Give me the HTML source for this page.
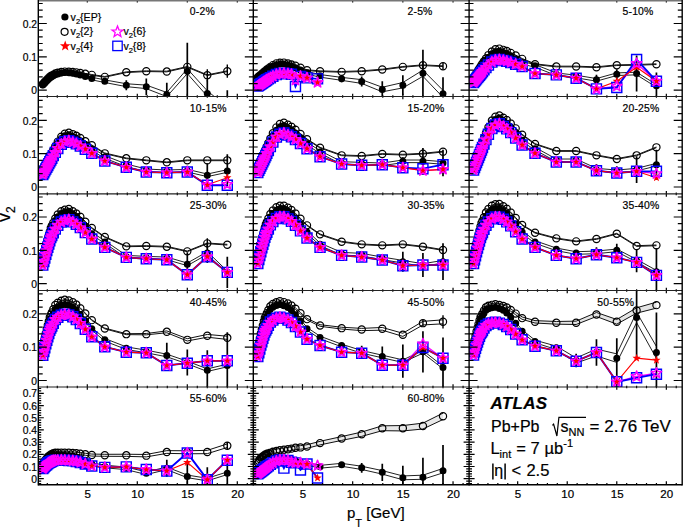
<!DOCTYPE html>
<html><head><meta charset="utf-8"><style>
html,body{margin:0;padding:0;background:#fff;}
svg{display:block;}
text{font-family:"Liberation Sans",sans-serif;fill:#000;stroke:#000;stroke-width:0.2px;}
</style></head><body>
<svg width="685" height="527" viewBox="0 0 685 527">
<rect width="685" height="527" fill="#fff"/>
<defs><clipPath id="c00"><rect x="38.3" y="0" width="215" height="96.5"/></clipPath><clipPath id="c01"><rect x="253.3" y="0" width="215.8" height="96.5"/></clipPath><clipPath id="c02"><rect x="469.1" y="0" width="213.1" height="96.5"/></clipPath><clipPath id="c10"><rect x="38.3" y="96.5" width="215" height="97.4"/></clipPath><clipPath id="c11"><rect x="253.3" y="96.5" width="215.8" height="97.4"/></clipPath><clipPath id="c12"><rect x="469.1" y="96.5" width="213.1" height="97.4"/></clipPath><clipPath id="c20"><rect x="38.3" y="193.9" width="215" height="96.6"/></clipPath><clipPath id="c21"><rect x="253.3" y="193.9" width="215.8" height="96.6"/></clipPath><clipPath id="c22"><rect x="469.1" y="193.9" width="213.1" height="96.6"/></clipPath><clipPath id="c30"><rect x="38.3" y="290.5" width="215" height="96.5"/></clipPath><clipPath id="c31"><rect x="253.3" y="290.5" width="215.8" height="96.5"/></clipPath><clipPath id="c32"><rect x="469.1" y="290.5" width="213.1" height="96.5"/></clipPath><clipPath id="c40"><rect x="38.3" y="387" width="215" height="97.7"/></clipPath><clipPath id="c41"><rect x="253.3" y="387" width="215.8" height="97.7"/></clipPath><clipPath id="c42"><rect x="469.1" y="387" width="213.1" height="97.7"/></clipPath></defs>
<g clip-path="url(#c00)">
<polyline points="42.8,83.76 43.8,82.69 44.8,81.61 45.8,80.53 46.8,79.5 47.8,78.53 48.8,77.56 49.8,76.6 50.8,75.95 51.8,75.37 53.3,74.51 55.3,73.35 57.8,72.6 61.3,71.79 64.8,71.3 68.8,71.5 72.8,72 76.3,72.69 80.3,73.75 85.3,75.28 91.8,77.23 104.8,79.9 126.3,83.76 146.3,85.12 166.8,92.47 187.3,68.81 207.3,90.84 227.3,107.2" fill="none" stroke="#222" stroke-width="1.0" />
<polyline points="42.8,86.36 43.8,85.29 44.8,84.21 45.8,83.13 46.8,82.1 47.8,81.13 48.8,80.16 49.8,79.2 50.8,78.55 51.8,77.97 53.3,77.11 55.3,75.95 57.8,75.2 61.3,74.39 64.8,73.9 68.8,74.1 72.8,74.6 76.3,75.29 80.3,76.35 85.3,77.88 91.8,79.83 104.8,82.5 126.3,86.64 146.3,88.61 166.8,96.6 187.3,73.58 207.3,96.22 227.3,113.2" fill="none" stroke="#222" stroke-width="1.0" />
<polyline points="42.8,83.69 43.8,82.6 44.8,81.49 45.8,80.38 46.8,79.32 47.8,78.34 48.8,77.35 49.8,76.36 50.8,75.71 51.8,75.14 53.3,74.27 55.3,73.12 57.8,72.42 61.3,71.68 64.8,71.26 68.8,71.33 72.8,71.61 76.3,71.99 80.3,72.58 85.3,73.43 91.8,74.51 104.8,76.51 126.3,71.85 146.3,70.85 166.8,71.18 187.3,66.51 207.3,74.85 227.3,70.85" fill="none" stroke="#111" stroke-width="1.0" />
<polyline points="42.8,84.39 43.8,83.3 44.8,82.19 45.8,81.08 46.8,80.02 47.8,79.04 48.8,78.05 49.8,77.06 50.8,76.41 51.8,75.84 53.3,74.97 55.3,73.82 57.8,73.12 61.3,72.38 64.8,71.96 68.8,72.03 72.8,72.31 76.3,72.69 80.3,73.28 85.3,74.13 91.8,75.21 104.8,77.21 126.3,72.55 146.3,71.55 166.8,71.88 187.3,67.21 207.3,75.55 227.3,71.55" fill="none" stroke="#111" stroke-width="1.0" />
<line x1="126.3" y1="80.2" x2="126.3" y2="90.2" stroke="#000" stroke-width="1.7"/>
<line x1="146.3" y1="78.53" x2="146.3" y2="95.2" stroke="#000" stroke-width="1.7"/>
<line x1="166.8" y1="82.87" x2="166.8" y2="106.2" stroke="#000" stroke-width="1.7"/>
<line x1="187.3" y1="42.86" x2="187.3" y2="99.54" stroke="#000" stroke-width="1.7"/>
<line x1="207.3" y1="80.2" x2="207.3" y2="106.87" stroke="#000" stroke-width="1.7"/>
<line x1="227.3" y1="90.2" x2="227.3" y2="130.21" stroke="#000" stroke-width="1.7"/>
<line x1="207.3" y1="69.2" x2="207.3" y2="81.2" stroke="#000" stroke-width="1.4"/>
<line x1="227.3" y1="64.53" x2="227.3" y2="77.86" stroke="#000" stroke-width="1.4"/>
<path d="M42.8,85.06h0M43.8,83.99h0M44.8,82.91h0M45.8,81.83h0M46.8,80.8h0M47.8,79.83h0M48.8,78.86h0M49.8,77.9h0M50.8,77.25h0M51.8,76.67h0M53.3,75.81h0M55.3,74.65h0M57.8,73.9h0M61.3,73.09h0M64.8,72.6h0M68.8,72.8h0M72.8,73.3h0M76.3,73.99h0M80.3,75.05h0M85.3,76.58h0M91.8,78.53h0M104.8,81.2h0M126.3,85.2h0M146.3,86.87h0M166.8,94.53h0M187.3,71.2h0M207.3,93.53h0M227.3,110.2h0" stroke="#000" stroke-width="7" stroke-linecap="round"/>
<path d="M39.2,84.04a3.6,3.6 0 1,0 7.2,0a3.6,3.6 0 1,0 -7.2,0M40.2,82.95a3.6,3.6 0 1,0 7.2,0a3.6,3.6 0 1,0 -7.2,0M41.2,81.84a3.6,3.6 0 1,0 7.2,0a3.6,3.6 0 1,0 -7.2,0M42.2,80.73a3.6,3.6 0 1,0 7.2,0a3.6,3.6 0 1,0 -7.2,0M43.2,79.67a3.6,3.6 0 1,0 7.2,0a3.6,3.6 0 1,0 -7.2,0M44.2,78.69a3.6,3.6 0 1,0 7.2,0a3.6,3.6 0 1,0 -7.2,0M45.2,77.7a3.6,3.6 0 1,0 7.2,0a3.6,3.6 0 1,0 -7.2,0M46.2,76.71a3.6,3.6 0 1,0 7.2,0a3.6,3.6 0 1,0 -7.2,0M47.2,76.06a3.6,3.6 0 1,0 7.2,0a3.6,3.6 0 1,0 -7.2,0M48.2,75.49a3.6,3.6 0 1,0 7.2,0a3.6,3.6 0 1,0 -7.2,0M49.7,74.62a3.6,3.6 0 1,0 7.2,0a3.6,3.6 0 1,0 -7.2,0M51.7,73.47a3.6,3.6 0 1,0 7.2,0a3.6,3.6 0 1,0 -7.2,0M54.2,72.77a3.6,3.6 0 1,0 7.2,0a3.6,3.6 0 1,0 -7.2,0M57.7,72.03a3.6,3.6 0 1,0 7.2,0a3.6,3.6 0 1,0 -7.2,0M61.2,71.61a3.6,3.6 0 1,0 7.2,0a3.6,3.6 0 1,0 -7.2,0M65.2,71.68a3.6,3.6 0 1,0 7.2,0a3.6,3.6 0 1,0 -7.2,0M69.2,71.96a3.6,3.6 0 1,0 7.2,0a3.6,3.6 0 1,0 -7.2,0M72.7,72.34a3.6,3.6 0 1,0 7.2,0a3.6,3.6 0 1,0 -7.2,0M76.7,72.93a3.6,3.6 0 1,0 7.2,0a3.6,3.6 0 1,0 -7.2,0M81.7,73.78a3.6,3.6 0 1,0 7.2,0a3.6,3.6 0 1,0 -7.2,0M88.2,74.86a3.6,3.6 0 1,0 7.2,0a3.6,3.6 0 1,0 -7.2,0M101.2,76.86a3.6,3.6 0 1,0 7.2,0a3.6,3.6 0 1,0 -7.2,0M122.7,72.2a3.6,3.6 0 1,0 7.2,0a3.6,3.6 0 1,0 -7.2,0M142.7,71.2a3.6,3.6 0 1,0 7.2,0a3.6,3.6 0 1,0 -7.2,0M163.2,71.53a3.6,3.6 0 1,0 7.2,0a3.6,3.6 0 1,0 -7.2,0M183.7,66.86a3.6,3.6 0 1,0 7.2,0a3.6,3.6 0 1,0 -7.2,0M203.7,75.2a3.6,3.6 0 1,0 7.2,0a3.6,3.6 0 1,0 -7.2,0M223.7,71.2a3.6,3.6 0 1,0 7.2,0a3.6,3.6 0 1,0 -7.2,0" fill="none" stroke="#000" stroke-width="1.2"/>
</g>
<g clip-path="url(#c01)">
<polyline points="257.82,76.52 258.82,75.71 259.82,74.9 260.83,74.08 261.83,73.27 262.84,72.46 263.84,71.65 264.84,70.84 265.85,70.02 266.85,69.21 268.36,68.1 270.36,66.69 272.87,65.03 276.39,63.34 279.9,62.69 283.91,62.61 287.93,63.72 291.44,64.76 295.46,66.34 300.47,68.63 307,71.56 320.05,74.56 341.63,77.38 361.7,79.65 382.28,87.24 402.85,82.5 422.93,70.1 443,90.37" fill="none" stroke="#222" stroke-width="1.0" />
<polyline points="257.82,79.12 258.82,78.31 259.82,77.5 260.83,76.68 261.83,75.87 262.84,75.06 263.84,74.25 264.84,73.44 265.85,72.62 266.85,71.81 268.36,70.7 270.36,69.29 272.87,67.63 276.39,65.94 279.9,65.29 283.91,65.21 287.93,66.32 291.44,67.36 295.46,68.94 300.47,71.23 307,74.16 320.05,77.16 341.63,80.34 361.7,83.41 382.28,91.82 402.85,87.9 422.93,76.3 443,97.37" fill="none" stroke="#222" stroke-width="1.0" />
<polyline points="257.82,76.84 258.82,75.99 259.82,75.14 260.83,74.28 261.83,73.43 262.84,72.58 263.84,71.72 264.84,70.87 265.85,70.02 266.85,69.17 268.36,68 270.36,66.51 272.87,64.77 276.39,63 279.9,62.31 283.91,62.23 287.93,63.16 291.44,64.05 295.46,65.4 300.47,67.35 307,69.85 320.05,70.85 341.63,71.51 361.7,70.85 382.28,69.18 402.85,66.51 422.93,64.85 443,65.85" fill="none" stroke="#111" stroke-width="1.0" />
<polyline points="257.82,77.54 258.82,76.69 259.82,75.84 260.83,74.98 261.83,74.13 262.84,73.28 263.84,72.42 264.84,71.57 265.85,70.72 266.85,69.87 268.36,68.7 270.36,67.21 272.87,65.47 276.39,63.7 279.9,63.01 283.91,62.93 287.93,63.86 291.44,64.75 295.46,66.1 300.47,68.05 307,70.55 320.05,71.55 341.63,72.21 361.7,71.55 382.28,69.88 402.85,67.21 422.93,65.55 443,66.55" fill="none" stroke="#111" stroke-width="1.0" />
<line x1="341.63" y1="75.53" x2="341.63" y2="82.2" stroke="#000" stroke-width="1.7"/>
<line x1="361.7" y1="76.53" x2="361.7" y2="86.53" stroke="#000" stroke-width="1.7"/>
<line x1="382.28" y1="81.2" x2="382.28" y2="97.87" stroke="#000" stroke-width="1.7"/>
<line x1="402.85" y1="75.2" x2="402.85" y2="95.2" stroke="#000" stroke-width="1.7"/>
<line x1="422.93" y1="49.86" x2="422.93" y2="96.53" stroke="#000" stroke-width="1.7"/>
<line x1="443" y1="77.2" x2="443" y2="110.54" stroke="#000" stroke-width="1.7"/>
<line x1="422.93" y1="61.86" x2="422.93" y2="68.53" stroke="#000" stroke-width="1.4"/>
<line x1="443" y1="62.86" x2="443" y2="69.53" stroke="#000" stroke-width="1.4"/>
<path d="M257.82,77.82h0M258.82,77.01h0M259.82,76.2h0M260.83,75.38h0M261.83,74.57h0M262.84,73.76h0M263.84,72.95h0M264.84,72.14h0M265.85,71.32h0M266.85,70.51h0M268.36,69.4h0M270.36,67.99h0M272.87,66.33h0M276.39,64.64h0M279.9,63.99h0M283.91,63.91h0M287.93,65.02h0M291.44,66.06h0M295.46,67.64h0M300.47,69.93h0M307,72.86h0M320.05,75.86h0M341.63,78.86h0M361.7,81.53h0M382.28,89.53h0M402.85,85.2h0M422.93,73.2h0M443,93.87h0" stroke="#000" stroke-width="7" stroke-linecap="round"/>
<path d="M254.22,77.19a3.6,3.6 0 1,0 7.2,0a3.6,3.6 0 1,0 -7.2,0M255.22,76.34a3.6,3.6 0 1,0 7.2,0a3.6,3.6 0 1,0 -7.2,0M256.22,75.49a3.6,3.6 0 1,0 7.2,0a3.6,3.6 0 1,0 -7.2,0M257.23,74.63a3.6,3.6 0 1,0 7.2,0a3.6,3.6 0 1,0 -7.2,0M258.23,73.78a3.6,3.6 0 1,0 7.2,0a3.6,3.6 0 1,0 -7.2,0M259.24,72.93a3.6,3.6 0 1,0 7.2,0a3.6,3.6 0 1,0 -7.2,0M260.24,72.07a3.6,3.6 0 1,0 7.2,0a3.6,3.6 0 1,0 -7.2,0M261.24,71.22a3.6,3.6 0 1,0 7.2,0a3.6,3.6 0 1,0 -7.2,0M262.25,70.37a3.6,3.6 0 1,0 7.2,0a3.6,3.6 0 1,0 -7.2,0M263.25,69.52a3.6,3.6 0 1,0 7.2,0a3.6,3.6 0 1,0 -7.2,0M264.76,68.35a3.6,3.6 0 1,0 7.2,0a3.6,3.6 0 1,0 -7.2,0M266.76,66.86a3.6,3.6 0 1,0 7.2,0a3.6,3.6 0 1,0 -7.2,0M269.27,65.12a3.6,3.6 0 1,0 7.2,0a3.6,3.6 0 1,0 -7.2,0M272.79,63.35a3.6,3.6 0 1,0 7.2,0a3.6,3.6 0 1,0 -7.2,0M276.3,62.66a3.6,3.6 0 1,0 7.2,0a3.6,3.6 0 1,0 -7.2,0M280.31,62.58a3.6,3.6 0 1,0 7.2,0a3.6,3.6 0 1,0 -7.2,0M284.33,63.51a3.6,3.6 0 1,0 7.2,0a3.6,3.6 0 1,0 -7.2,0M287.84,64.4a3.6,3.6 0 1,0 7.2,0a3.6,3.6 0 1,0 -7.2,0M291.86,65.75a3.6,3.6 0 1,0 7.2,0a3.6,3.6 0 1,0 -7.2,0M296.87,67.7a3.6,3.6 0 1,0 7.2,0a3.6,3.6 0 1,0 -7.2,0M303.4,70.2a3.6,3.6 0 1,0 7.2,0a3.6,3.6 0 1,0 -7.2,0M316.45,71.2a3.6,3.6 0 1,0 7.2,0a3.6,3.6 0 1,0 -7.2,0M338.03,71.86a3.6,3.6 0 1,0 7.2,0a3.6,3.6 0 1,0 -7.2,0M358.1,71.2a3.6,3.6 0 1,0 7.2,0a3.6,3.6 0 1,0 -7.2,0M378.68,69.53a3.6,3.6 0 1,0 7.2,0a3.6,3.6 0 1,0 -7.2,0M399.25,66.86a3.6,3.6 0 1,0 7.2,0a3.6,3.6 0 1,0 -7.2,0M419.33,65.2a3.6,3.6 0 1,0 7.2,0a3.6,3.6 0 1,0 -7.2,0M439.4,66.2a3.6,3.6 0 1,0 7.2,0a3.6,3.6 0 1,0 -7.2,0" fill="none" stroke="#000" stroke-width="1.2"/>
<polyline points="257.82,85.95 258.82,85.27 259.82,84.59 260.83,83.91 261.83,83.23 262.84,82.55 263.84,81.87 264.84,81.19 265.85,80.51 266.85,79.83 268.36,78.88 270.36,77.65 272.87,76.19 276.39,74.56 279.9,73.59 283.91,73.23 287.93,73.8 291.44,74.34 295.46,80.2 300.47,76.35 307,77.86 317.54,82.53" fill="none" stroke="#ff00ff" stroke-width="1.3" />
<polyline points="257.82,85.95 258.82,85.27 259.82,84.59 260.83,83.91 261.83,83.23 262.84,82.55 263.84,81.87 264.84,81.19 265.85,80.51 266.85,79.83 268.36,78.88 270.36,77.65 272.87,76.19 276.39,74.56 279.9,73.59 283.91,73.23 287.93,73.8 291.44,74.34 295.46,86.53 300.47,76.35 307,77.86 317.54,78.86" fill="none" stroke="#0000ff" stroke-width="1.9" />
<polyline points="257.82,85.95 258.82,85.27 259.82,84.59 260.83,83.91 261.83,83.23 262.84,82.55 263.84,81.87 264.84,81.19 265.85,80.51 266.85,79.83 268.36,78.88 270.36,77.65 272.87,76.19 276.39,74.56 279.9,73.59 283.91,73.23 287.93,73.8 291.44,74.34 295.46,75.16 300.47,76.35 307,77.86 317.54,82.53" fill="none" stroke="#ff0000" stroke-width="1.1" />
<path d="M252.82,80.95h10.0v10.0h-10.0zM253.82,80.27h10.0v10.0h-10.0zM254.82,79.59h10.0v10.0h-10.0zM255.83,78.91h10.0v10.0h-10.0zM256.83,78.23h10.0v10.0h-10.0zM257.84,77.55h10.0v10.0h-10.0zM258.84,76.87h10.0v10.0h-10.0zM259.84,76.19h10.0v10.0h-10.0zM260.85,75.51h10.0v10.0h-10.0zM261.85,74.83h10.0v10.0h-10.0zM263.36,73.88h10.0v10.0h-10.0zM265.36,72.65h10.0v10.0h-10.0zM267.87,71.19h10.0v10.0h-10.0zM271.39,69.56h10.0v10.0h-10.0zM274.9,68.59h10.0v10.0h-10.0zM278.91,68.23h10.0v10.0h-10.0zM282.93,68.8h10.0v10.0h-10.0zM286.44,69.34h10.0v10.0h-10.0zM290.46,81.53h10.0v10.0h-10.0zM295.47,71.35h10.0v10.0h-10.0zM302,72.86h10.0v10.0h-10.0zM312.54,73.86h10.0v10.0h-10.0z" fill="none" stroke="#0000ff" stroke-width="1.45"/>
<path d="M257.82,81.55l1.08,2.9 3.1,0.14 -2.43,1.93 0.83,2.99 -2.58,-1.71 -2.59,1.71 0.83,-2.99 -2.43,-1.93 3.1,-0.14zM258.82,80.87l1.09,2.9 3.1,0.14 -2.43,1.93 0.83,2.99 -2.59,-1.71 -2.59,1.71 0.83,-2.99 -2.42,-1.93 3.09,-0.14zM259.82,80.19l1.09,2.9 3.1,0.14 -2.43,1.93 0.83,2.99 -2.59,-1.71 -2.58,1.71 0.83,-2.99 -2.43,-1.93 3.1,-0.14zM260.83,79.51l1.08,2.9 3.1,0.14 -2.42,1.93 0.82,2.99 -2.58,-1.71 -2.59,1.71 0.83,-2.99 -2.43,-1.93 3.1,-0.14zM261.83,78.83l1.09,2.9 3.1,0.14 -2.43,1.93 0.83,2.99 -2.59,-1.71 -2.58,1.71 0.82,-2.99 -2.42,-1.93 3.1,-0.14zM262.84,78.15l1.08,2.9 3.1,0.14 -2.43,1.93 0.83,2.99 -2.58,-1.71 -2.59,1.71 0.83,-2.99 -2.43,-1.93 3.1,-0.14zM263.84,77.47l1.09,2.9 3.09,0.14 -2.42,1.93 0.83,2.99 -2.59,-1.71 -2.59,1.71 0.83,-2.99 -2.43,-1.93 3.1,-0.14zM264.84,76.79l1.09,2.9 3.1,0.14 -2.43,1.93 0.83,2.99 -2.59,-1.71 -2.58,1.71 0.83,-2.99 -2.43,-1.93 3.1,-0.14zM265.85,76.11l1.08,2.9 3.1,0.14 -2.43,1.93 0.83,2.99 -2.58,-1.71 -2.59,1.71 0.83,-2.99 -2.43,-1.93 3.1,-0.14zM266.85,75.43l1.09,2.9 3.09,0.14 -2.42,1.93 0.83,2.99 -2.59,-1.71 -2.59,1.71 0.83,-2.99 -2.42,-1.93 3.09,-0.14zM268.36,74.48l1.08,2.9 3.1,0.14 -2.43,1.93 0.83,2.99 -2.58,-1.72 -2.59,1.72 0.83,-2.99 -2.43,-1.93 3.1,-0.14zM270.36,73.25l1.09,2.91 3.1,0.13 -2.43,1.93 0.83,2.99 -2.59,-1.71 -2.58,1.71 0.83,-2.99 -2.43,-1.93 3.1,-0.13zM272.87,71.79l1.09,2.91 3.1,0.13 -2.43,1.93 0.83,2.99 -2.59,-1.71 -2.58,1.71 0.83,-2.99 -2.43,-1.93 3.1,-0.13zM276.39,70.16l1.08,2.9 3.1,0.14 -2.43,1.93 0.83,2.99 -2.58,-1.72 -2.59,1.72 0.83,-2.99 -2.43,-1.93 3.1,-0.14zM279.9,69.19l1.08,2.9 3.1,0.14 -2.42,1.93 0.82,2.99 -2.58,-1.71 -2.59,1.71 0.83,-2.99 -2.43,-1.93 3.1,-0.14zM283.91,68.83l1.09,2.9 3.1,0.14 -2.43,1.93 0.83,2.99 -2.59,-1.71 -2.58,1.71 0.83,-2.99 -2.43,-1.93 3.1,-0.14zM287.93,69.4l1.08,2.9 3.1,0.14 -2.42,1.93 0.82,2.99 -2.58,-1.72 -2.59,1.72 0.83,-2.99 -2.43,-1.93 3.1,-0.14zM291.44,69.94l1.09,2.9 3.1,0.14 -2.43,1.93 0.83,2.99 -2.59,-1.72 -2.58,1.72 0.82,-2.99 -2.42,-1.93 3.1,-0.14zM295.46,70.76l1.08,2.9 3.1,0.14 -2.43,1.93 0.83,2.99 -2.58,-1.72 -2.59,1.72 0.83,-2.99 -2.43,-1.93 3.1,-0.14zM300.47,71.95l1.09,2.9 3.1,0.14 -2.43,1.93 0.83,2.98 -2.59,-1.71 -2.58,1.71 0.83,-2.98 -2.43,-1.93 3.1,-0.14zM307,73.46l1.09,2.91 3.09,0.13 -2.42,1.94 0.83,2.98 -2.59,-1.71 -2.59,1.71 0.83,-2.98 -2.43,-1.94 3.1,-0.13zM317.54,78.13l1.08,2.91 3.1,0.13 -2.42,1.93 0.82,2.99 -2.58,-1.71 -2.59,1.71 0.83,-2.99 -2.43,-1.93 3.1,-0.13z" fill="#ff0000"/>
<path d="M257.82,80.45l1.35,3.63 3.88,0.17 -3.04,2.41 1.04,3.74 -3.23,-2.14 -3.24,2.14 1.04,-3.74 -3.03,-2.41 3.87,-0.17zM258.82,79.77l1.36,3.63 3.87,0.17 -3.03,2.41 1.03,3.74 -3.23,-2.14 -3.23,2.14 1.03,-3.74 -3.03,-2.41 3.87,-0.17zM259.82,79.09l1.36,3.63 3.87,0.17 -3.03,2.41 1.04,3.74 -3.24,-2.14 -3.23,2.14 1.04,-3.74 -3.04,-2.41 3.88,-0.17zM260.83,78.41l1.36,3.63 3.87,0.17 -3.04,2.41 1.04,3.74 -3.23,-2.14 -3.23,2.14 1.03,-3.74 -3.03,-2.41 3.87,-0.17zM261.83,77.73l1.36,3.63 3.87,0.17 -3.03,2.41 1.03,3.74 -3.23,-2.14 -3.23,2.14 1.03,-3.74 -3.03,-2.41 3.87,-0.17zM262.84,77.05l1.35,3.63 3.88,0.17 -3.04,2.41 1.04,3.74 -3.23,-2.14 -3.24,2.14 1.04,-3.74 -3.04,-2.41 3.88,-0.17zM263.84,76.37l1.36,3.63 3.87,0.17 -3.03,2.41 1.03,3.74 -3.23,-2.14 -3.23,2.14 1.03,-3.74 -3.03,-2.41 3.87,-0.17zM264.84,75.69l1.36,3.63 3.87,0.17 -3.03,2.41 1.04,3.74 -3.24,-2.14 -3.23,2.14 1.04,-3.74 -3.04,-2.41 3.88,-0.17zM265.85,75.01l1.35,3.63 3.88,0.17 -3.04,2.41 1.04,3.74 -3.23,-2.14 -3.24,2.14 1.04,-3.74 -3.03,-2.41 3.87,-0.17zM266.85,74.33l1.36,3.63 3.87,0.17 -3.03,2.41 1.03,3.74 -3.23,-2.14 -3.23,2.14 1.03,-3.74 -3.03,-2.41 3.87,-0.17zM268.36,73.38l1.35,3.63 3.88,0.17 -3.04,2.41 1.04,3.74 -3.23,-2.14 -3.24,2.14 1.04,-3.74 -3.03,-2.41 3.87,-0.17zM270.36,72.15l1.36,3.63 3.87,0.17 -3.03,2.42 1.04,3.73 -3.24,-2.14 -3.23,2.14 1.04,-3.73 -3.04,-2.42 3.88,-0.17zM272.87,70.69l1.36,3.63 3.87,0.17 -3.03,2.42 1.04,3.73 -3.24,-2.14 -3.23,2.14 1.04,-3.73 -3.04,-2.42 3.87,-0.17zM276.39,69.06l1.35,3.63 3.88,0.17 -3.04,2.41 1.04,3.74 -3.23,-2.14 -3.24,2.14 1.04,-3.74 -3.04,-2.41 3.88,-0.17zM279.9,68.09l1.36,3.63 3.87,0.17 -3.03,2.41 1.03,3.74 -3.23,-2.14 -3.23,2.14 1.03,-3.74 -3.03,-2.41 3.87,-0.17zM283.91,67.73l1.36,3.63 3.87,0.17 -3.03,2.41 1.04,3.74 -3.24,-2.14 -3.23,2.14 1.04,-3.74 -3.04,-2.41 3.88,-0.17zM287.93,68.3l1.36,3.63 3.87,0.17 -3.03,2.41 1.03,3.74 -3.23,-2.14 -3.23,2.14 1.03,-3.74 -3.03,-2.41 3.87,-0.17zM291.44,68.84l1.36,3.63 3.87,0.17 -3.03,2.41 1.03,3.74 -3.23,-2.14 -3.23,2.14 1.03,-3.74 -3.03,-2.41 3.87,-0.17zM295.46,74.7l1.35,3.63 3.88,0.17 -3.04,2.41 1.04,3.74 -3.23,-2.14 -3.24,2.14 1.04,-3.74 -3.03,-2.41 3.87,-0.17zM300.47,70.85l1.36,3.63 3.88,0.17 -3.04,2.41 1.04,3.73 -3.24,-2.13 -3.23,2.13 1.04,-3.73 -3.04,-2.41 3.88,-0.17zM307,72.36l1.36,3.64 3.87,0.16 -3.03,2.42 1.03,3.73 -3.23,-2.14 -3.23,2.14 1.03,-3.73 -3.03,-2.42 3.87,-0.16zM317.54,77.03l1.36,3.63 3.87,0.17 -3.03,2.42 1.03,3.73 -3.23,-2.14 -3.23,2.14 1.03,-3.73 -3.03,-2.42 3.87,-0.17z" fill="none" stroke="#ff00ff" stroke-width="1.5" stroke-linejoin="round"/>
</g>
<g clip-path="url(#c02)">
<polyline points="473.56,77.2 474.55,75.72 475.54,74.24 476.53,72.76 477.52,71.28 478.52,69.8 479.51,68.32 480.5,66.84 481.49,65.37 482.48,63.89 483.97,61.82 485.95,59.18 488.43,56.04 491.9,52.57 495.37,50.63 499.33,49.97 503.3,51.39 506.76,52.74 510.73,54.79 515.68,57.76 522.13,61.56 535.01,64.56 556.32,72.9 576.15,75.23 596.46,78.56 616.78,72.9 636.61,72.23 656.43,84.57" fill="none" stroke="#222" stroke-width="1.0" />
<polyline points="473.56,79.8 474.55,78.32 475.54,76.84 476.53,75.36 477.52,73.88 478.52,72.4 479.51,70.92 480.5,69.44 481.49,67.97 482.48,66.49 483.97,64.42 485.95,61.78 488.43,58.64 491.9,55.17 495.37,53.23 499.33,52.57 503.3,53.99 506.76,55.34 510.73,57.39 515.68,60.36 522.13,64.16 535.01,67.16 556.32,75.5 576.15,77.83 596.46,81.16 616.78,75.5 636.61,74.83 656.43,87.17" fill="none" stroke="#222" stroke-width="1.0" />
<polyline points="473.56,77.35 474.55,75.77 475.54,74.19 476.53,72.61 477.52,71.03 478.52,69.45 479.51,67.87 480.5,66.29 481.49,64.71 482.48,63.13 483.97,60.92 485.95,58.1 488.43,54.74 491.9,51.03 495.37,48.97 499.33,48.25 503.3,49.5 506.76,50.7 510.73,52.52 515.68,55.15 522.13,58.51 535.01,63.84 556.32,66.18 576.15,66.18 596.46,66.85 616.78,64.85 636.61,64.51 656.43,63.84" fill="none" stroke="#111" stroke-width="1.0" />
<polyline points="473.56,78.05 474.55,76.47 475.54,74.89 476.53,73.31 477.52,71.73 478.52,70.15 479.51,68.57 480.5,66.99 481.49,65.41 482.48,63.83 483.97,61.62 485.95,58.8 488.43,55.44 491.9,51.73 495.37,49.67 499.33,48.95 503.3,50.2 506.76,51.4 510.73,53.22 515.68,55.85 522.13,59.21 535.01,64.54 556.32,66.88 576.15,66.88 596.46,67.55 616.78,65.55 636.61,65.21 656.43,64.54" fill="none" stroke="#111" stroke-width="1.0" />
<line x1="556.32" y1="72.2" x2="556.32" y2="76.2" stroke="#000" stroke-width="1.7"/>
<line x1="576.15" y1="73.86" x2="576.15" y2="79.2" stroke="#000" stroke-width="1.7"/>
<line x1="596.46" y1="74.86" x2="596.46" y2="84.87" stroke="#000" stroke-width="1.7"/>
<line x1="616.78" y1="69.2" x2="616.78" y2="79.2" stroke="#000" stroke-width="1.7"/>
<line x1="636.61" y1="55.53" x2="636.61" y2="91.53" stroke="#000" stroke-width="1.7"/>
<line x1="656.43" y1="72.53" x2="656.43" y2="99.2" stroke="#000" stroke-width="1.7"/>
<path d="M473.56,78.5h0M474.55,77.02h0M475.54,75.54h0M476.53,74.06h0M477.52,72.58h0M478.52,71.1h0M479.51,69.62h0M480.5,68.14h0M481.49,66.67h0M482.48,65.19h0M483.97,63.12h0M485.95,60.48h0M488.43,57.34h0M491.9,53.87h0M495.37,51.93h0M499.33,51.27h0M503.3,52.69h0M506.76,54.04h0M510.73,56.09h0M515.68,59.06h0M522.13,62.86h0M535.01,65.86h0M556.32,74.2h0M576.15,76.53h0M596.46,79.86h0M616.78,74.2h0M636.61,73.53h0M656.43,85.87h0" stroke="#000" stroke-width="7" stroke-linecap="round"/>
<path d="M469.96,77.7a3.6,3.6 0 1,0 7.2,0a3.6,3.6 0 1,0 -7.2,0M470.95,76.12a3.6,3.6 0 1,0 7.2,0a3.6,3.6 0 1,0 -7.2,0M471.94,74.54a3.6,3.6 0 1,0 7.2,0a3.6,3.6 0 1,0 -7.2,0M472.93,72.96a3.6,3.6 0 1,0 7.2,0a3.6,3.6 0 1,0 -7.2,0M473.92,71.38a3.6,3.6 0 1,0 7.2,0a3.6,3.6 0 1,0 -7.2,0M474.92,69.8a3.6,3.6 0 1,0 7.2,0a3.6,3.6 0 1,0 -7.2,0M475.91,68.22a3.6,3.6 0 1,0 7.2,0a3.6,3.6 0 1,0 -7.2,0M476.9,66.64a3.6,3.6 0 1,0 7.2,0a3.6,3.6 0 1,0 -7.2,0M477.89,65.06a3.6,3.6 0 1,0 7.2,0a3.6,3.6 0 1,0 -7.2,0M478.88,63.48a3.6,3.6 0 1,0 7.2,0a3.6,3.6 0 1,0 -7.2,0M480.37,61.27a3.6,3.6 0 1,0 7.2,0a3.6,3.6 0 1,0 -7.2,0M482.35,58.45a3.6,3.6 0 1,0 7.2,0a3.6,3.6 0 1,0 -7.2,0M484.83,55.09a3.6,3.6 0 1,0 7.2,0a3.6,3.6 0 1,0 -7.2,0M488.3,51.38a3.6,3.6 0 1,0 7.2,0a3.6,3.6 0 1,0 -7.2,0M491.77,49.32a3.6,3.6 0 1,0 7.2,0a3.6,3.6 0 1,0 -7.2,0M495.73,48.6a3.6,3.6 0 1,0 7.2,0a3.6,3.6 0 1,0 -7.2,0M499.7,49.85a3.6,3.6 0 1,0 7.2,0a3.6,3.6 0 1,0 -7.2,0M503.16,51.05a3.6,3.6 0 1,0 7.2,0a3.6,3.6 0 1,0 -7.2,0M507.13,52.87a3.6,3.6 0 1,0 7.2,0a3.6,3.6 0 1,0 -7.2,0M512.08,55.5a3.6,3.6 0 1,0 7.2,0a3.6,3.6 0 1,0 -7.2,0M518.53,58.86a3.6,3.6 0 1,0 7.2,0a3.6,3.6 0 1,0 -7.2,0M531.41,64.19a3.6,3.6 0 1,0 7.2,0a3.6,3.6 0 1,0 -7.2,0M552.72,66.53a3.6,3.6 0 1,0 7.2,0a3.6,3.6 0 1,0 -7.2,0M572.55,66.53a3.6,3.6 0 1,0 7.2,0a3.6,3.6 0 1,0 -7.2,0M592.86,67.2a3.6,3.6 0 1,0 7.2,0a3.6,3.6 0 1,0 -7.2,0M613.18,65.2a3.6,3.6 0 1,0 7.2,0a3.6,3.6 0 1,0 -7.2,0M633.01,64.86a3.6,3.6 0 1,0 7.2,0a3.6,3.6 0 1,0 -7.2,0M652.83,64.19a3.6,3.6 0 1,0 7.2,0a3.6,3.6 0 1,0 -7.2,0" fill="none" stroke="#000" stroke-width="1.2"/>
<polyline points="473.56,82.53 474.55,81.3 475.54,80.08 476.53,78.85 477.52,77.62 478.52,76.4 479.51,75.17 480.5,73.94 481.49,72.72 482.48,71.49 483.97,69.77 485.95,67.56 488.43,64.93 491.9,61.98 495.37,60.24 499.33,59.58 503.3,60.43 506.76,61.24 510.73,62.47 515.68,64.25 522.13,66.53 535.01,73.53 556.32,74.86 576.15,78.2 596.46,88.87 616.78,86.2 636.61,63.53 656.43,81.2" fill="none" stroke="#ff00ff" stroke-width="1.3" />
<polyline points="473.56,82.53 474.55,81.3 475.54,80.08 476.53,78.85 477.52,77.62 478.52,76.4 479.51,75.17 480.5,73.94 481.49,72.72 482.48,71.49 483.97,69.77 485.95,67.56 488.43,64.93 491.9,61.98 495.37,60.24 499.33,59.58 503.3,60.43 506.76,61.24 510.73,62.47 515.68,64.25 522.13,66.53 535.01,73.53 556.32,74.86 576.15,78.2 596.46,88.87 616.78,87.53 636.61,59.53 656.43,81.2" fill="none" stroke="#0000ff" stroke-width="1.9" />
<polyline points="473.56,82.53 474.55,81.3 475.54,80.08 476.53,78.85 477.52,77.62 478.52,76.4 479.51,75.17 480.5,73.94 481.49,72.72 482.48,71.49 483.97,69.77 485.95,67.56 488.43,64.93 491.9,61.98 495.37,60.24 499.33,59.58 503.3,60.43 506.76,61.24 510.73,62.47 515.68,64.25 522.13,66.53 535.01,73.53 556.32,74.86 576.15,78.2 596.46,88.87 616.78,81.2 636.61,67.2 656.43,81.2" fill="none" stroke="#ff0000" stroke-width="1.1" />
<path d="M468.56,77.53h10.0v10.0h-10.0zM469.55,76.3h10.0v10.0h-10.0zM470.54,75.08h10.0v10.0h-10.0zM471.53,73.85h10.0v10.0h-10.0zM472.52,72.62h10.0v10.0h-10.0zM473.52,71.4h10.0v10.0h-10.0zM474.51,70.17h10.0v10.0h-10.0zM475.5,68.94h10.0v10.0h-10.0zM476.49,67.72h10.0v10.0h-10.0zM477.48,66.49h10.0v10.0h-10.0zM478.97,64.77h10.0v10.0h-10.0zM480.95,62.56h10.0v10.0h-10.0zM483.43,59.93h10.0v10.0h-10.0zM486.9,56.98h10.0v10.0h-10.0zM490.37,55.24h10.0v10.0h-10.0zM494.33,54.58h10.0v10.0h-10.0zM498.3,55.43h10.0v10.0h-10.0zM501.76,56.24h10.0v10.0h-10.0zM505.73,57.47h10.0v10.0h-10.0zM510.68,59.25h10.0v10.0h-10.0zM517.13,61.53h10.0v10.0h-10.0zM530.01,68.53h10.0v10.0h-10.0zM551.32,69.86h10.0v10.0h-10.0zM571.15,73.2h10.0v10.0h-10.0zM591.46,83.87h10.0v10.0h-10.0zM611.78,82.53h10.0v10.0h-10.0zM631.61,54.53h10.0v10.0h-10.0zM651.43,76.2h10.0v10.0h-10.0z" fill="none" stroke="#0000ff" stroke-width="1.45"/>
<path d="M473.56,78.13l1.09,2.91 3.09,0.13 -2.42,1.93 0.83,2.99 -2.59,-1.71 -2.59,1.71 0.83,-2.99 -2.42,-1.93 3.09,-0.13zM474.55,76.9l1.09,2.91 3.1,0.14 -2.43,1.93 0.83,2.98 -2.59,-1.71 -2.58,1.71 0.82,-2.98 -2.42,-1.93 3.1,-0.14zM475.54,75.68l1.09,2.9 3.1,0.14 -2.43,1.93 0.83,2.99 -2.59,-1.71 -2.58,1.71 0.83,-2.99 -2.43,-1.93 3.1,-0.14zM476.53,74.45l1.09,2.91 3.1,0.13 -2.43,1.93 0.83,2.99 -2.59,-1.71 -2.58,1.71 0.83,-2.99 -2.43,-1.93 3.1,-0.13zM477.52,73.22l1.09,2.91 3.1,0.13 -2.43,1.94 0.83,2.98 -2.59,-1.71 -2.58,1.71 0.83,-2.98 -2.43,-1.94 3.1,-0.13zM478.52,72l1.08,2.9 3.1,0.14 -2.43,1.93 0.83,2.99 -2.58,-1.71 -2.59,1.71 0.83,-2.99 -2.43,-1.93 3.1,-0.14zM479.51,70.77l1.08,2.91 3.1,0.13 -2.43,1.93 0.83,2.99 -2.58,-1.71 -2.59,1.71 0.83,-2.99 -2.43,-1.93 3.1,-0.13zM480.5,69.54l1.08,2.91 3.1,0.13 -2.42,1.93 0.82,2.99 -2.58,-1.71 -2.59,1.71 0.83,-2.99 -2.43,-1.93 3.1,-0.13zM481.49,68.32l1.09,2.9 3.09,0.14 -2.42,1.93 0.83,2.99 -2.59,-1.72 -2.59,1.72 0.83,-2.99 -2.43,-1.93 3.1,-0.14zM482.48,67.09l1.09,2.9 3.1,0.14 -2.43,1.93 0.83,2.99 -2.59,-1.71 -2.59,1.71 0.83,-2.99 -2.42,-1.93 3.09,-0.14zM483.97,65.37l1.08,2.91 3.1,0.13 -2.43,1.93 0.83,2.99 -2.58,-1.71 -2.59,1.71 0.83,-2.99 -2.43,-1.93 3.1,-0.13zM485.95,63.16l1.09,2.91 3.09,0.13 -2.42,1.93 0.83,2.99 -2.59,-1.71 -2.59,1.71 0.83,-2.99 -2.42,-1.93 3.09,-0.13zM488.43,60.53l1.08,2.91 3.1,0.13 -2.42,1.93 0.82,2.99 -2.58,-1.71 -2.59,1.71 0.83,-2.99 -2.43,-1.93 3.1,-0.13zM491.9,57.58l1.08,2.91 3.1,0.13 -2.43,1.93 0.83,2.99 -2.58,-1.71 -2.59,1.71 0.83,-2.99 -2.43,-1.93 3.1,-0.13zM495.37,55.84l1.08,2.9 3.1,0.14 -2.43,1.93 0.83,2.99 -2.58,-1.72 -2.59,1.72 0.83,-2.99 -2.43,-1.93 3.1,-0.14zM499.33,55.18l1.09,2.91 3.1,0.14 -2.43,1.93 0.83,2.98 -2.59,-1.71 -2.59,1.71 0.83,-2.98 -2.42,-1.93 3.09,-0.14zM503.3,56.03l1.08,2.9 3.1,0.14 -2.43,1.93 0.83,2.99 -2.58,-1.71 -2.59,1.71 0.83,-2.99 -2.43,-1.93 3.1,-0.14zM506.76,56.84l1.09,2.9 3.1,0.14 -2.43,1.93 0.83,2.99 -2.59,-1.72 -2.58,1.72 0.83,-2.99 -2.43,-1.93 3.1,-0.14zM510.73,58.07l1.09,2.9 3.09,0.14 -2.42,1.93 0.83,2.99 -2.59,-1.71 -2.59,1.71 0.83,-2.99 -2.43,-1.93 3.1,-0.14zM515.68,59.85l1.09,2.9 3.1,0.14 -2.43,1.93 0.83,2.99 -2.59,-1.71 -2.58,1.71 0.83,-2.99 -2.43,-1.93 3.1,-0.14zM522.13,62.13l1.08,2.9 3.1,0.14 -2.43,1.93 0.83,2.99 -2.58,-1.71 -2.59,1.71 0.83,-2.99 -2.43,-1.93 3.1,-0.14zM535.01,69.13l1.09,2.9 3.1,0.14 -2.43,1.93 0.83,2.99 -2.59,-1.71 -2.58,1.71 0.82,-2.99 -2.42,-1.93 3.1,-0.14zM556.32,70.46l1.09,2.91 3.1,0.13 -2.43,1.93 0.83,2.99 -2.59,-1.71 -2.58,1.71 0.82,-2.99 -2.42,-1.93 3.1,-0.13zM576.15,73.8l1.08,2.9 3.1,0.14 -2.43,1.93 0.83,2.99 -2.58,-1.71 -2.59,1.71 0.83,-2.99 -2.43,-1.93 3.1,-0.14zM596.46,84.47l1.09,2.9 3.1,0.14 -2.43,1.93 0.83,2.99 -2.59,-1.72 -2.58,1.72 0.83,-2.99 -2.43,-1.93 3.1,-0.14zM616.78,76.8l1.09,2.9 3.1,0.14 -2.43,1.93 0.83,2.99 -2.59,-1.71 -2.58,1.71 0.83,-2.99 -2.43,-1.93 3.1,-0.14zM636.61,62.8l1.08,2.9 3.1,0.14 -2.43,1.93 0.83,2.99 -2.58,-1.72 -2.59,1.72 0.83,-2.99 -2.43,-1.93 3.1,-0.14zM656.43,76.8l1.09,2.9 3.09,0.14 -2.42,1.93 0.83,2.99 -2.59,-1.71 -2.59,1.71 0.83,-2.99 -2.42,-1.93 3.09,-0.14z" fill="#ff0000"/>
<path d="M473.56,77.03l1.36,3.63 3.87,0.17 -3.03,2.42 1.03,3.73 -3.23,-2.14 -3.23,2.14 1.03,-3.73 -3.03,-2.42 3.87,-0.17zM474.55,75.8l1.36,3.64 3.87,0.17 -3.03,2.41 1.03,3.73 -3.23,-2.14 -3.23,2.14 1.03,-3.73 -3.03,-2.41 3.87,-0.17zM475.54,74.58l1.36,3.63 3.87,0.17 -3.03,2.41 1.04,3.74 -3.24,-2.14 -3.23,2.14 1.04,-3.74 -3.04,-2.41 3.87,-0.17zM476.53,73.35l1.36,3.63 3.87,0.17 -3.03,2.41 1.04,3.74 -3.24,-2.14 -3.23,2.14 1.04,-3.74 -3.04,-2.41 3.88,-0.17zM477.52,72.12l1.36,3.64 3.88,0.16 -3.04,2.42 1.04,3.73 -3.24,-2.14 -3.23,2.14 1.04,-3.73 -3.04,-2.42 3.88,-0.16zM478.52,70.9l1.35,3.63 3.88,0.17 -3.04,2.41 1.04,3.74 -3.23,-2.14 -3.24,2.14 1.04,-3.74 -3.03,-2.41 3.87,-0.17zM479.51,69.67l1.35,3.63 3.88,0.17 -3.04,2.41 1.04,3.74 -3.23,-2.14 -3.24,2.14 1.04,-3.74 -3.03,-2.41 3.87,-0.17zM480.5,68.44l1.36,3.63 3.87,0.17 -3.03,2.42 1.03,3.73 -3.23,-2.14 -3.23,2.14 1.03,-3.73 -3.03,-2.42 3.87,-0.17zM481.49,67.22l1.36,3.63 3.87,0.17 -3.03,2.41 1.03,3.74 -3.23,-2.14 -3.23,2.14 1.03,-3.74 -3.03,-2.41 3.87,-0.17zM482.48,65.99l1.36,3.63 3.87,0.17 -3.03,2.41 1.03,3.74 -3.23,-2.14 -3.23,2.14 1.03,-3.74 -3.03,-2.41 3.87,-0.17zM483.97,64.27l1.36,3.63 3.87,0.17 -3.04,2.42 1.04,3.73 -3.23,-2.14 -3.24,2.14 1.04,-3.73 -3.03,-2.42 3.87,-0.17zM485.95,62.06l1.36,3.63 3.87,0.17 -3.03,2.42 1.03,3.73 -3.23,-2.14 -3.23,2.14 1.03,-3.73 -3.03,-2.42 3.87,-0.17zM488.43,59.43l1.36,3.63 3.87,0.17 -3.04,2.42 1.04,3.73 -3.23,-2.14 -3.24,2.14 1.04,-3.73 -3.03,-2.42 3.87,-0.17zM491.9,56.48l1.35,3.63 3.88,0.17 -3.04,2.41 1.04,3.74 -3.23,-2.14 -3.24,2.14 1.04,-3.74 -3.03,-2.41 3.87,-0.17zM495.37,54.74l1.35,3.63 3.88,0.17 -3.04,2.41 1.04,3.74 -3.23,-2.14 -3.24,2.14 1.04,-3.74 -3.03,-2.41 3.87,-0.17zM499.33,54.08l1.36,3.64 3.87,0.17 -3.03,2.41 1.03,3.73 -3.23,-2.14 -3.23,2.14 1.03,-3.73 -3.03,-2.41 3.87,-0.17zM503.3,54.93l1.35,3.63 3.88,0.17 -3.04,2.41 1.04,3.74 -3.23,-2.14 -3.24,2.14 1.04,-3.74 -3.04,-2.41 3.88,-0.17zM506.76,55.74l1.36,3.63 3.87,0.17 -3.03,2.41 1.04,3.74 -3.24,-2.14 -3.23,2.14 1.04,-3.74 -3.04,-2.41 3.88,-0.17zM510.73,56.97l1.36,3.63 3.87,0.17 -3.03,2.41 1.03,3.74 -3.23,-2.14 -3.23,2.14 1.03,-3.74 -3.03,-2.41 3.87,-0.17zM515.68,58.75l1.36,3.63 3.88,0.17 -3.04,2.41 1.04,3.74 -3.24,-2.14 -3.23,2.14 1.04,-3.74 -3.04,-2.41 3.88,-0.17zM522.13,61.03l1.35,3.63 3.88,0.17 -3.04,2.41 1.04,3.74 -3.23,-2.14 -3.24,2.14 1.04,-3.74 -3.03,-2.41 3.87,-0.17zM535.01,68.03l1.36,3.63 3.87,0.17 -3.03,2.41 1.04,3.74 -3.24,-2.14 -3.23,2.14 1.04,-3.74 -3.04,-2.41 3.87,-0.17zM556.32,69.36l1.36,3.63 3.87,0.17 -3.03,2.42 1.04,3.73 -3.24,-2.14 -3.23,2.14 1.04,-3.73 -3.04,-2.42 3.87,-0.17zM576.15,72.7l1.35,3.63 3.88,0.17 -3.04,2.41 1.04,3.74 -3.23,-2.14 -3.24,2.14 1.04,-3.74 -3.04,-2.41 3.88,-0.17zM596.46,83.37l1.36,3.63 3.88,0.17 -3.04,2.41 1.04,3.74 -3.24,-2.14 -3.23,2.14 1.04,-3.74 -3.04,-2.41 3.88,-0.17zM616.78,80.7l1.36,3.63 3.87,0.17 -3.03,2.41 1.04,3.74 -3.24,-2.14 -3.23,2.14 1.04,-3.74 -3.04,-2.41 3.88,-0.17zM636.61,58.03l1.35,3.63 3.88,0.17 -3.04,2.41 1.04,3.74 -3.23,-2.14 -3.24,2.14 1.04,-3.74 -3.03,-2.41 3.87,-0.17zM656.43,75.7l1.36,3.63 3.87,0.17 -3.03,2.41 1.03,3.74 -3.23,-2.14 -3.23,2.14 1.03,-3.74 -3.03,-2.41 3.87,-0.17z" fill="none" stroke="#ff00ff" stroke-width="1.5" stroke-linejoin="round"/>
</g>
<g clip-path="url(#c10)">
<polyline points="42.8,171.04 43.8,169.02 44.8,166.99 45.8,164.96 46.8,162.93 47.8,160.9 48.8,158.87 49.8,156.85 50.8,154.82 51.8,152.79 53.3,149.96 55.3,146.32 57.8,141.99 61.3,137.18 64.8,134.44 68.8,133.45 72.8,135.24 76.3,136.94 80.3,139.52 85.3,143.25 91.8,148.03 104.8,155.69 126.3,164.03 146.3,169.03 166.8,170.03 187.3,169.36 207.3,174.03 227.3,169.7" fill="none" stroke="#222" stroke-width="1.0" />
<polyline points="42.8,173.64 43.8,171.62 44.8,169.59 45.8,167.56 46.8,165.53 47.8,163.5 48.8,161.47 49.8,159.45 50.8,157.42 51.8,155.39 53.3,152.56 55.3,148.92 57.8,144.59 61.3,139.78 64.8,137.04 68.8,136.05 72.8,137.84 76.3,139.54 80.3,142.12 85.3,145.85 91.8,150.63 104.8,158.29 126.3,166.63 146.3,171.63 166.8,172.63 187.3,171.96 207.3,176.63 227.3,172.3" fill="none" stroke="#222" stroke-width="1.0" />
<polyline points="42.8,171.43 43.8,169.33 44.8,167.22 45.8,165.12 46.8,163.01 47.8,160.9 48.8,158.8 49.8,156.69 50.8,154.59 51.8,152.48 53.3,149.54 55.3,145.76 57.8,141.27 61.3,136.28 64.8,133.43 68.8,132.41 72.8,133.93 76.3,135.4 80.3,137.63 85.3,140.85 91.8,144.97 104.8,152.98 126.3,157.98 146.3,159.98 166.8,161.98 187.3,159.98 207.3,159.98 227.3,159.98" fill="none" stroke="#111" stroke-width="1.0" />
<polyline points="42.8,172.13 43.8,170.03 44.8,167.92 45.8,165.82 46.8,163.71 47.8,161.6 48.8,159.5 49.8,157.39 50.8,155.29 51.8,153.18 53.3,150.24 55.3,146.46 57.8,141.97 61.3,136.98 64.8,134.13 68.8,133.11 72.8,134.63 76.3,136.1 80.3,138.33 85.3,141.55 91.8,145.67 104.8,153.68 126.3,158.68 146.3,160.68 166.8,162.68 187.3,160.68 207.3,160.68 227.3,160.68" fill="none" stroke="#111" stroke-width="1.0" />
<line x1="126.3" y1="163.66" x2="126.3" y2="167" stroke="#000" stroke-width="1.7"/>
<line x1="146.3" y1="168.33" x2="146.3" y2="172.33" stroke="#000" stroke-width="1.7"/>
<line x1="166.8" y1="168.66" x2="166.8" y2="174" stroke="#000" stroke-width="1.7"/>
<line x1="187.3" y1="165.66" x2="187.3" y2="175.66" stroke="#000" stroke-width="1.7"/>
<line x1="207.3" y1="163.33" x2="207.3" y2="187.33" stroke="#000" stroke-width="1.7"/>
<line x1="227.3" y1="154.33" x2="227.3" y2="187.67" stroke="#000" stroke-width="1.7"/>
<path d="M42.8,172.34h0M43.8,170.32h0M44.8,168.29h0M45.8,166.26h0M46.8,164.23h0M47.8,162.2h0M48.8,160.17h0M49.8,158.15h0M50.8,156.12h0M51.8,154.09h0M53.3,151.26h0M55.3,147.62h0M57.8,143.29h0M61.3,138.48h0M64.8,135.74h0M68.8,134.75h0M72.8,136.54h0M76.3,138.24h0M80.3,140.82h0M85.3,144.55h0M91.8,149.33h0M104.8,156.99h0M126.3,165.33h0M146.3,170.33h0M166.8,171.33h0M187.3,170.66h0M207.3,175.33h0M227.3,171h0" stroke="#000" stroke-width="7" stroke-linecap="round"/>
<path d="M39.2,171.78a3.6,3.6 0 1,0 7.2,0a3.6,3.6 0 1,0 -7.2,0M40.2,169.68a3.6,3.6 0 1,0 7.2,0a3.6,3.6 0 1,0 -7.2,0M41.2,167.57a3.6,3.6 0 1,0 7.2,0a3.6,3.6 0 1,0 -7.2,0M42.2,165.47a3.6,3.6 0 1,0 7.2,0a3.6,3.6 0 1,0 -7.2,0M43.2,163.36a3.6,3.6 0 1,0 7.2,0a3.6,3.6 0 1,0 -7.2,0M44.2,161.25a3.6,3.6 0 1,0 7.2,0a3.6,3.6 0 1,0 -7.2,0M45.2,159.15a3.6,3.6 0 1,0 7.2,0a3.6,3.6 0 1,0 -7.2,0M46.2,157.04a3.6,3.6 0 1,0 7.2,0a3.6,3.6 0 1,0 -7.2,0M47.2,154.94a3.6,3.6 0 1,0 7.2,0a3.6,3.6 0 1,0 -7.2,0M48.2,152.83a3.6,3.6 0 1,0 7.2,0a3.6,3.6 0 1,0 -7.2,0M49.7,149.89a3.6,3.6 0 1,0 7.2,0a3.6,3.6 0 1,0 -7.2,0M51.7,146.11a3.6,3.6 0 1,0 7.2,0a3.6,3.6 0 1,0 -7.2,0M54.2,141.62a3.6,3.6 0 1,0 7.2,0a3.6,3.6 0 1,0 -7.2,0M57.7,136.63a3.6,3.6 0 1,0 7.2,0a3.6,3.6 0 1,0 -7.2,0M61.2,133.78a3.6,3.6 0 1,0 7.2,0a3.6,3.6 0 1,0 -7.2,0M65.2,132.76a3.6,3.6 0 1,0 7.2,0a3.6,3.6 0 1,0 -7.2,0M69.2,134.28a3.6,3.6 0 1,0 7.2,0a3.6,3.6 0 1,0 -7.2,0M72.7,135.75a3.6,3.6 0 1,0 7.2,0a3.6,3.6 0 1,0 -7.2,0M76.7,137.98a3.6,3.6 0 1,0 7.2,0a3.6,3.6 0 1,0 -7.2,0M81.7,141.2a3.6,3.6 0 1,0 7.2,0a3.6,3.6 0 1,0 -7.2,0M88.2,145.32a3.6,3.6 0 1,0 7.2,0a3.6,3.6 0 1,0 -7.2,0M101.2,153.33a3.6,3.6 0 1,0 7.2,0a3.6,3.6 0 1,0 -7.2,0M122.7,158.33a3.6,3.6 0 1,0 7.2,0a3.6,3.6 0 1,0 -7.2,0M142.7,160.33a3.6,3.6 0 1,0 7.2,0a3.6,3.6 0 1,0 -7.2,0M163.2,162.33a3.6,3.6 0 1,0 7.2,0a3.6,3.6 0 1,0 -7.2,0M183.7,160.33a3.6,3.6 0 1,0 7.2,0a3.6,3.6 0 1,0 -7.2,0M203.7,160.33a3.6,3.6 0 1,0 7.2,0a3.6,3.6 0 1,0 -7.2,0M223.7,160.33a3.6,3.6 0 1,0 7.2,0a3.6,3.6 0 1,0 -7.2,0" fill="none" stroke="#000" stroke-width="1.2"/>
<polyline points="42.8,174.49 43.8,172.67 44.8,170.86 45.8,169.04 46.8,167.23 47.8,165.41 48.8,163.6 49.8,161.78 50.8,159.97 51.8,158.15 53.3,155.61 55.3,152.36 57.8,148.48 61.3,144.15 64.8,141.65 68.8,140.74 72.8,142.29 76.3,143.75 80.3,145.98 85.3,149.2 91.8,153.33 104.8,160.99 126.3,167.33 146.3,172 166.8,172.66 187.3,172 207.3,185 227.3,184.33" fill="none" stroke="#ff00ff" stroke-width="1.3" />
<polyline points="42.8,174.49 43.8,172.67 44.8,170.86 45.8,169.04 46.8,167.23 47.8,165.41 48.8,163.6 49.8,161.78 50.8,159.97 51.8,158.15 53.3,155.61 55.3,152.36 57.8,148.48 61.3,144.15 64.8,141.65 68.8,140.74 72.8,142.29 76.3,143.75 80.3,145.98 85.3,149.2 91.8,153.33 104.8,160.99 126.3,167.33 146.3,172 166.8,172.66 187.3,172 207.3,185.33 227.3,185.33" fill="none" stroke="#0000ff" stroke-width="1.9" />
<polyline points="42.8,174.49 43.8,172.67 44.8,170.86 45.8,169.04 46.8,167.23 47.8,165.41 48.8,163.6 49.8,161.78 50.8,159.97 51.8,158.15 53.3,155.61 55.3,152.36 57.8,148.48 61.3,144.15 64.8,141.65 68.8,140.74 72.8,142.29 76.3,143.75 80.3,145.98 85.3,149.2 91.8,153.33 104.8,160.99 126.3,167.33 146.3,172 166.8,172.66 187.3,172 207.3,184.67 227.3,177.66" fill="none" stroke="#ff0000" stroke-width="1.1" />
<path d="M37.8,169.49h10.0v10.0h-10.0zM38.8,167.67h10.0v10.0h-10.0zM39.8,165.86h10.0v10.0h-10.0zM40.8,164.04h10.0v10.0h-10.0zM41.8,162.23h10.0v10.0h-10.0zM42.8,160.41h10.0v10.0h-10.0zM43.8,158.6h10.0v10.0h-10.0zM44.8,156.78h10.0v10.0h-10.0zM45.8,154.97h10.0v10.0h-10.0zM46.8,153.15h10.0v10.0h-10.0zM48.3,150.61h10.0v10.0h-10.0zM50.3,147.36h10.0v10.0h-10.0zM52.8,143.48h10.0v10.0h-10.0zM56.3,139.15h10.0v10.0h-10.0zM59.8,136.65h10.0v10.0h-10.0zM63.8,135.74h10.0v10.0h-10.0zM67.8,137.29h10.0v10.0h-10.0zM71.3,138.75h10.0v10.0h-10.0zM75.3,140.98h10.0v10.0h-10.0zM80.3,144.2h10.0v10.0h-10.0zM86.8,148.33h10.0v10.0h-10.0zM99.8,155.99h10.0v10.0h-10.0zM121.3,162.33h10.0v10.0h-10.0zM141.3,167h10.0v10.0h-10.0zM161.8,167.66h10.0v10.0h-10.0zM182.3,167h10.0v10.0h-10.0zM202.3,180.33h10.0v10.0h-10.0zM222.3,180.33h10.0v10.0h-10.0z" fill="none" stroke="#0000ff" stroke-width="1.45"/>
<path d="M42.8,170.09l1.09,2.9 3.09,0.14 -2.42,1.93 0.83,2.99 -2.59,-1.71 -2.59,1.71 0.83,-2.99 -2.42,-1.93 3.09,-0.14zM43.8,168.27l1.09,2.91 3.09,0.13 -2.42,1.93 0.83,2.99 -2.59,-1.71 -2.59,1.71 0.83,-2.99 -2.42,-1.93 3.09,-0.13zM44.8,166.46l1.09,2.9 3.09,0.14 -2.42,1.93 0.83,2.99 -2.59,-1.71 -2.59,1.71 0.83,-2.99 -2.42,-1.93 3.09,-0.14zM45.8,164.64l1.09,2.91 3.09,0.13 -2.42,1.93 0.83,2.99 -2.59,-1.71 -2.59,1.71 0.83,-2.99 -2.42,-1.93 3.09,-0.13zM46.8,162.83l1.09,2.9 3.09,0.14 -2.42,1.93 0.83,2.99 -2.59,-1.71 -2.59,1.71 0.83,-2.99 -2.42,-1.93 3.09,-0.14zM47.8,161.01l1.09,2.91 3.09,0.13 -2.42,1.93 0.83,2.99 -2.59,-1.71 -2.59,1.71 0.83,-2.99 -2.42,-1.93 3.09,-0.13zM48.8,159.2l1.09,2.9 3.09,0.14 -2.42,1.93 0.83,2.99 -2.59,-1.72 -2.59,1.72 0.83,-2.99 -2.42,-1.93 3.09,-0.14zM49.8,157.38l1.09,2.91 3.09,0.13 -2.42,1.93 0.83,2.99 -2.59,-1.71 -2.59,1.71 0.83,-2.99 -2.42,-1.93 3.09,-0.13zM50.8,155.57l1.09,2.9 3.09,0.14 -2.42,1.93 0.83,2.99 -2.59,-1.72 -2.59,1.72 0.83,-2.99 -2.42,-1.93 3.09,-0.14zM51.8,153.75l1.09,2.91 3.09,0.13 -2.42,1.93 0.83,2.99 -2.59,-1.71 -2.59,1.71 0.83,-2.99 -2.42,-1.93 3.09,-0.13zM53.3,151.21l1.09,2.91 3.09,0.13 -2.42,1.94 0.83,2.98 -2.59,-1.71 -2.59,1.71 0.83,-2.98 -2.42,-1.94 3.09,-0.13zM55.3,147.96l1.09,2.9 3.09,0.14 -2.42,1.93 0.83,2.98 -2.59,-1.71 -2.59,1.71 0.83,-2.98 -2.42,-1.93 3.09,-0.14zM57.8,144.08l1.09,2.9 3.09,0.14 -2.42,1.93 0.83,2.99 -2.59,-1.71 -2.59,1.71 0.83,-2.99 -2.42,-1.93 3.09,-0.14zM61.3,139.75l1.09,2.91 3.09,0.13 -2.42,1.93 0.83,2.99 -2.59,-1.71 -2.59,1.71 0.83,-2.99 -2.42,-1.93 3.09,-0.13zM64.8,137.25l1.09,2.91 3.09,0.13 -2.42,1.93 0.83,2.99 -2.59,-1.71 -2.59,1.71 0.83,-2.99 -2.42,-1.93 3.09,-0.13zM68.8,136.34l1.09,2.91 3.09,0.13 -2.42,1.94 0.83,2.98 -2.59,-1.71 -2.59,1.71 0.83,-2.98 -2.42,-1.94 3.09,-0.13zM72.8,137.89l1.09,2.9 3.09,0.14 -2.42,1.93 0.83,2.99 -2.59,-1.72 -2.59,1.72 0.83,-2.99 -2.42,-1.93 3.09,-0.14zM76.3,139.35l1.09,2.9 3.09,0.14 -2.42,1.93 0.83,2.99 -2.59,-1.71 -2.59,1.71 0.83,-2.99 -2.42,-1.93 3.09,-0.14zM80.3,141.58l1.09,2.9 3.09,0.14 -2.42,1.93 0.83,2.99 -2.59,-1.71 -2.59,1.71 0.83,-2.99 -2.42,-1.93 3.09,-0.14zM85.3,144.8l1.09,2.91 3.09,0.13 -2.42,1.93 0.83,2.99 -2.59,-1.71 -2.59,1.71 0.83,-2.99 -2.42,-1.93 3.09,-0.13zM91.8,148.93l1.09,2.9 3.09,0.14 -2.42,1.93 0.83,2.99 -2.59,-1.72 -2.59,1.72 0.83,-2.99 -2.42,-1.93 3.09,-0.14zM104.8,156.59l1.09,2.91 3.09,0.14 -2.42,1.93 0.83,2.98 -2.59,-1.71 -2.59,1.71 0.83,-2.98 -2.42,-1.93 3.09,-0.14zM126.3,162.93l1.09,2.9 3.09,0.14 -2.42,1.93 0.83,2.99 -2.59,-1.71 -2.59,1.71 0.83,-2.99 -2.42,-1.93 3.09,-0.14zM146.3,167.6l1.09,2.9 3.09,0.14 -2.42,1.93 0.83,2.99 -2.59,-1.71 -2.59,1.71 0.83,-2.99 -2.42,-1.93 3.09,-0.14zM166.8,168.26l1.09,2.91 3.09,0.13 -2.42,1.93 0.83,2.99 -2.59,-1.71 -2.59,1.71 0.83,-2.99 -2.42,-1.93 3.09,-0.13zM187.3,167.6l1.09,2.9 3.09,0.14 -2.42,1.93 0.83,2.99 -2.59,-1.71 -2.59,1.71 0.83,-2.99 -2.42,-1.93 3.09,-0.14zM207.3,180.27l1.09,2.9 3.09,0.14 -2.42,1.93 0.83,2.99 -2.59,-1.72 -2.59,1.72 0.83,-2.99 -2.42,-1.93 3.09,-0.14zM227.3,173.26l1.09,2.91 3.09,0.14 -2.42,1.93 0.83,2.98 -2.59,-1.71 -2.59,1.71 0.83,-2.98 -2.42,-1.93 3.09,-0.14z" fill="#ff0000"/>
<path d="M42.8,168.99l1.36,3.63 3.87,0.17 -3.03,2.41 1.03,3.74 -3.23,-2.14 -3.23,2.14 1.03,-3.74 -3.03,-2.41 3.87,-0.17zM43.8,167.17l1.36,3.63 3.87,0.17 -3.03,2.42 1.03,3.73 -3.23,-2.14 -3.23,2.14 1.03,-3.73 -3.03,-2.42 3.87,-0.17zM44.8,165.36l1.36,3.63 3.87,0.17 -3.03,2.41 1.03,3.74 -3.23,-2.14 -3.23,2.14 1.03,-3.74 -3.03,-2.41 3.87,-0.17zM45.8,163.54l1.36,3.63 3.87,0.17 -3.03,2.42 1.03,3.73 -3.23,-2.14 -3.23,2.14 1.03,-3.73 -3.03,-2.42 3.87,-0.17zM46.8,161.73l1.36,3.63 3.87,0.17 -3.03,2.41 1.03,3.74 -3.23,-2.14 -3.23,2.14 1.03,-3.74 -3.03,-2.41 3.87,-0.17zM47.8,159.91l1.36,3.63 3.87,0.17 -3.03,2.42 1.03,3.73 -3.23,-2.14 -3.23,2.14 1.03,-3.73 -3.03,-2.42 3.87,-0.17zM48.8,158.1l1.36,3.63 3.87,0.17 -3.03,2.41 1.03,3.74 -3.23,-2.14 -3.23,2.14 1.03,-3.74 -3.03,-2.41 3.87,-0.17zM49.8,156.28l1.36,3.63 3.87,0.17 -3.03,2.42 1.03,3.73 -3.23,-2.14 -3.23,2.14 1.03,-3.73 -3.03,-2.42 3.87,-0.17zM50.8,154.47l1.36,3.63 3.87,0.17 -3.03,2.41 1.03,3.74 -3.23,-2.14 -3.23,2.14 1.03,-3.74 -3.03,-2.41 3.87,-0.17zM51.8,152.65l1.36,3.63 3.87,0.17 -3.03,2.42 1.03,3.73 -3.23,-2.14 -3.23,2.14 1.03,-3.73 -3.03,-2.42 3.87,-0.17zM53.3,150.11l1.36,3.64 3.87,0.16 -3.03,2.42 1.03,3.73 -3.23,-2.14 -3.23,2.14 1.03,-3.73 -3.03,-2.42 3.87,-0.16zM55.3,146.86l1.36,3.63 3.87,0.17 -3.03,2.41 1.03,3.73 -3.23,-2.13 -3.23,2.13 1.03,-3.73 -3.03,-2.41 3.87,-0.17zM57.8,142.98l1.36,3.63 3.87,0.17 -3.03,2.41 1.03,3.74 -3.23,-2.14 -3.23,2.14 1.03,-3.74 -3.03,-2.41 3.87,-0.17zM61.3,138.65l1.36,3.63 3.87,0.17 -3.03,2.42 1.03,3.73 -3.23,-2.14 -3.23,2.14 1.03,-3.73 -3.03,-2.42 3.87,-0.17zM64.8,136.15l1.36,3.63 3.87,0.17 -3.03,2.42 1.03,3.73 -3.23,-2.14 -3.23,2.14 1.03,-3.73 -3.03,-2.42 3.87,-0.17zM68.8,135.24l1.36,3.64 3.87,0.16 -3.03,2.42 1.03,3.73 -3.23,-2.14 -3.23,2.14 1.03,-3.73 -3.03,-2.42 3.87,-0.16zM72.8,136.79l1.36,3.63 3.87,0.17 -3.03,2.41 1.03,3.74 -3.23,-2.14 -3.23,2.14 1.03,-3.74 -3.03,-2.41 3.87,-0.17zM76.3,138.25l1.36,3.63 3.87,0.17 -3.03,2.41 1.03,3.74 -3.23,-2.14 -3.23,2.14 1.03,-3.74 -3.03,-2.41 3.87,-0.17zM80.3,140.48l1.36,3.63 3.87,0.17 -3.03,2.41 1.03,3.74 -3.23,-2.14 -3.23,2.14 1.03,-3.74 -3.03,-2.41 3.87,-0.17zM85.3,143.7l1.36,3.63 3.87,0.17 -3.03,2.42 1.03,3.73 -3.23,-2.14 -3.23,2.14 1.03,-3.73 -3.03,-2.42 3.87,-0.17zM91.8,147.83l1.36,3.63 3.87,0.17 -3.03,2.41 1.03,3.74 -3.23,-2.14 -3.23,2.14 1.03,-3.74 -3.03,-2.41 3.87,-0.17zM104.8,155.49l1.36,3.64 3.87,0.17 -3.03,2.41 1.03,3.73 -3.23,-2.14 -3.23,2.14 1.03,-3.73 -3.03,-2.41 3.87,-0.17zM126.3,161.83l1.36,3.63 3.87,0.17 -3.03,2.41 1.03,3.74 -3.23,-2.14 -3.23,2.14 1.03,-3.74 -3.03,-2.41 3.87,-0.17zM146.3,166.5l1.36,3.63 3.87,0.17 -3.03,2.41 1.03,3.74 -3.23,-2.14 -3.23,2.14 1.03,-3.74 -3.03,-2.41 3.87,-0.17zM166.8,167.16l1.36,3.63 3.87,0.17 -3.03,2.42 1.03,3.73 -3.23,-2.14 -3.23,2.14 1.03,-3.73 -3.03,-2.42 3.87,-0.17zM187.3,166.5l1.36,3.63 3.87,0.17 -3.03,2.41 1.03,3.74 -3.23,-2.14 -3.23,2.14 1.03,-3.74 -3.03,-2.41 3.87,-0.17zM207.3,179.5l1.36,3.63 3.87,0.17 -3.03,2.41 1.03,3.74 -3.23,-2.14 -3.23,2.14 1.03,-3.74 -3.03,-2.41 3.87,-0.17zM227.3,178.83l1.36,3.63 3.87,0.17 -3.03,2.42 1.03,3.73 -3.23,-2.14 -3.23,2.14 1.03,-3.73 -3.03,-2.42 3.87,-0.17z" fill="none" stroke="#ff00ff" stroke-width="1.5" stroke-linejoin="round"/>
</g>
<g clip-path="url(#c11)">
<polyline points="257.82,168.52 258.82,166.15 259.82,163.77 260.83,161.39 261.83,159.01 262.84,156.64 263.84,154.26 264.84,151.88 265.85,149.51 266.85,147.13 268.36,143.81 270.36,139.55 272.87,134.48 276.39,128.84 279.9,125.62 283.91,124.47 287.93,126.67 291.44,128.75 295.46,131.92 300.47,136.5 307,142.36 320.05,150.69 341.63,161.7 361.7,162.36 382.28,163.03 402.85,160.03 422.93,160.03 443,161.7" fill="none" stroke="#222" stroke-width="1.0" />
<polyline points="257.82,171.12 258.82,168.75 259.82,166.37 260.83,163.99 261.83,161.61 262.84,159.24 263.84,156.86 264.84,154.48 265.85,152.11 266.85,149.73 268.36,146.41 270.36,142.15 272.87,137.08 276.39,131.44 279.9,128.22 283.91,127.07 287.93,129.27 291.44,131.35 295.46,134.52 300.47,139.1 307,144.96 320.05,153.29 341.63,164.3 361.7,164.96 382.28,165.63 402.85,162.63 422.93,162.63 443,164.3" fill="none" stroke="#222" stroke-width="1.0" />
<polyline points="257.82,168.63 258.82,166.14 259.82,163.65 260.83,161.15 261.83,158.66 262.84,156.17 263.84,153.67 264.84,151.18 265.85,148.69 266.85,146.19 268.36,142.71 270.36,138.24 272.87,132.92 276.39,127.01 279.9,123.63 283.91,122.42 287.93,124.45 291.44,126.37 295.46,129.31 300.47,133.55 307,138.97 320.05,147.31 341.63,154.98 361.7,155.64 382.28,153.64 402.85,154.31 422.93,153.31 443,151.31" fill="none" stroke="#111" stroke-width="1.0" />
<polyline points="257.82,169.33 258.82,166.84 259.82,164.35 260.83,161.85 261.83,159.36 262.84,156.87 263.84,154.37 264.84,151.88 265.85,149.39 266.85,146.89 268.36,143.41 270.36,138.94 272.87,133.62 276.39,127.71 279.9,124.33 283.91,123.12 287.93,125.15 291.44,127.07 295.46,130.01 300.47,134.25 307,139.67 320.05,148.01 341.63,155.68 361.7,156.34 382.28,154.34 402.85,155.01 422.93,154.01 443,152.01" fill="none" stroke="#111" stroke-width="1.0" />
<line x1="341.63" y1="161.33" x2="341.63" y2="164.66" stroke="#000" stroke-width="1.7"/>
<line x1="361.7" y1="161.66" x2="361.7" y2="165.66" stroke="#000" stroke-width="1.7"/>
<line x1="382.28" y1="160.99" x2="382.28" y2="167.66" stroke="#000" stroke-width="1.7"/>
<line x1="402.85" y1="157.33" x2="402.85" y2="165.33" stroke="#000" stroke-width="1.7"/>
<line x1="422.93" y1="147.99" x2="422.93" y2="174.66" stroke="#000" stroke-width="1.7"/>
<line x1="443" y1="149.66" x2="443" y2="176.33" stroke="#000" stroke-width="1.7"/>
<path d="M257.82,169.82h0M258.82,167.45h0M259.82,165.07h0M260.83,162.69h0M261.83,160.31h0M262.84,157.94h0M263.84,155.56h0M264.84,153.18h0M265.85,150.81h0M266.85,148.43h0M268.36,145.11h0M270.36,140.85h0M272.87,135.78h0M276.39,130.14h0M279.9,126.92h0M283.91,125.77h0M287.93,127.97h0M291.44,130.05h0M295.46,133.22h0M300.47,137.8h0M307,143.66h0M320.05,151.99h0M341.63,163h0M361.7,163.66h0M382.28,164.33h0M402.85,161.33h0M422.93,161.33h0M443,163h0" stroke="#000" stroke-width="7" stroke-linecap="round"/>
<path d="M254.22,168.98a3.6,3.6 0 1,0 7.2,0a3.6,3.6 0 1,0 -7.2,0M255.22,166.49a3.6,3.6 0 1,0 7.2,0a3.6,3.6 0 1,0 -7.2,0M256.22,164a3.6,3.6 0 1,0 7.2,0a3.6,3.6 0 1,0 -7.2,0M257.23,161.5a3.6,3.6 0 1,0 7.2,0a3.6,3.6 0 1,0 -7.2,0M258.23,159.01a3.6,3.6 0 1,0 7.2,0a3.6,3.6 0 1,0 -7.2,0M259.24,156.52a3.6,3.6 0 1,0 7.2,0a3.6,3.6 0 1,0 -7.2,0M260.24,154.02a3.6,3.6 0 1,0 7.2,0a3.6,3.6 0 1,0 -7.2,0M261.24,151.53a3.6,3.6 0 1,0 7.2,0a3.6,3.6 0 1,0 -7.2,0M262.25,149.04a3.6,3.6 0 1,0 7.2,0a3.6,3.6 0 1,0 -7.2,0M263.25,146.54a3.6,3.6 0 1,0 7.2,0a3.6,3.6 0 1,0 -7.2,0M264.76,143.06a3.6,3.6 0 1,0 7.2,0a3.6,3.6 0 1,0 -7.2,0M266.76,138.59a3.6,3.6 0 1,0 7.2,0a3.6,3.6 0 1,0 -7.2,0M269.27,133.27a3.6,3.6 0 1,0 7.2,0a3.6,3.6 0 1,0 -7.2,0M272.79,127.36a3.6,3.6 0 1,0 7.2,0a3.6,3.6 0 1,0 -7.2,0M276.3,123.98a3.6,3.6 0 1,0 7.2,0a3.6,3.6 0 1,0 -7.2,0M280.31,122.77a3.6,3.6 0 1,0 7.2,0a3.6,3.6 0 1,0 -7.2,0M284.33,124.8a3.6,3.6 0 1,0 7.2,0a3.6,3.6 0 1,0 -7.2,0M287.84,126.72a3.6,3.6 0 1,0 7.2,0a3.6,3.6 0 1,0 -7.2,0M291.86,129.66a3.6,3.6 0 1,0 7.2,0a3.6,3.6 0 1,0 -7.2,0M296.87,133.9a3.6,3.6 0 1,0 7.2,0a3.6,3.6 0 1,0 -7.2,0M303.4,139.32a3.6,3.6 0 1,0 7.2,0a3.6,3.6 0 1,0 -7.2,0M316.45,147.66a3.6,3.6 0 1,0 7.2,0a3.6,3.6 0 1,0 -7.2,0M338.03,155.33a3.6,3.6 0 1,0 7.2,0a3.6,3.6 0 1,0 -7.2,0M358.1,155.99a3.6,3.6 0 1,0 7.2,0a3.6,3.6 0 1,0 -7.2,0M378.68,153.99a3.6,3.6 0 1,0 7.2,0a3.6,3.6 0 1,0 -7.2,0M399.25,154.66a3.6,3.6 0 1,0 7.2,0a3.6,3.6 0 1,0 -7.2,0M419.33,153.66a3.6,3.6 0 1,0 7.2,0a3.6,3.6 0 1,0 -7.2,0M439.4,151.66a3.6,3.6 0 1,0 7.2,0a3.6,3.6 0 1,0 -7.2,0" fill="none" stroke="#000" stroke-width="1.2"/>
<polyline points="257.82,172.42 258.82,170.3 259.82,168.19 260.83,166.07 261.83,163.96 262.84,161.84 263.84,159.72 264.84,157.61 265.85,155.49 266.85,153.38 268.36,150.42 270.36,146.62 272.87,142.1 276.39,137.06 279.9,134.15 283.91,133.09 287.93,135 291.44,136.81 295.46,139.57 300.47,143.56 307,148.66 320.05,156.66 341.63,164 361.7,165.33 382.28,164.66 402.85,167.66 422.93,170.66 443,169.33" fill="none" stroke="#ff00ff" stroke-width="1.3" />
<polyline points="257.82,172.42 258.82,170.3 259.82,168.19 260.83,166.07 261.83,163.96 262.84,161.84 263.84,159.72 264.84,157.61 265.85,155.49 266.85,153.38 268.36,150.42 270.36,146.62 272.87,142.1 276.39,137.06 279.9,134.15 283.91,133.09 287.93,135 291.44,136.81 295.46,139.57 300.47,143.56 307,148.66 320.05,156.66 341.63,164 361.7,165.33 382.28,164.66 402.85,167.66 422.93,168.66 443,164.66" fill="none" stroke="#0000ff" stroke-width="1.9" />
<polyline points="257.82,172.42 258.82,170.3 259.82,168.19 260.83,166.07 261.83,163.96 262.84,161.84 263.84,159.72 264.84,157.61 265.85,155.49 266.85,153.38 268.36,150.42 270.36,146.62 272.87,142.1 276.39,137.06 279.9,134.15 283.91,133.09 287.93,135 291.44,136.81 295.46,139.57 300.47,143.56 307,148.66 320.05,156.66 341.63,164 361.7,165.33 382.28,164.66 402.85,167.66 422.93,170.66 443,169.33" fill="none" stroke="#ff0000" stroke-width="1.1" />
<path d="M252.82,167.42h10.0v10.0h-10.0zM253.82,165.3h10.0v10.0h-10.0zM254.82,163.19h10.0v10.0h-10.0zM255.83,161.07h10.0v10.0h-10.0zM256.83,158.96h10.0v10.0h-10.0zM257.84,156.84h10.0v10.0h-10.0zM258.84,154.72h10.0v10.0h-10.0zM259.84,152.61h10.0v10.0h-10.0zM260.85,150.49h10.0v10.0h-10.0zM261.85,148.38h10.0v10.0h-10.0zM263.36,145.42h10.0v10.0h-10.0zM265.36,141.62h10.0v10.0h-10.0zM267.87,137.1h10.0v10.0h-10.0zM271.39,132.06h10.0v10.0h-10.0zM274.9,129.15h10.0v10.0h-10.0zM278.91,128.09h10.0v10.0h-10.0zM282.93,130h10.0v10.0h-10.0zM286.44,131.81h10.0v10.0h-10.0zM290.46,134.57h10.0v10.0h-10.0zM295.47,138.56h10.0v10.0h-10.0zM302,143.66h10.0v10.0h-10.0zM315.05,151.66h10.0v10.0h-10.0zM336.63,159h10.0v10.0h-10.0zM356.7,160.33h10.0v10.0h-10.0zM377.28,159.66h10.0v10.0h-10.0zM397.85,162.66h10.0v10.0h-10.0zM417.93,163.66h10.0v10.0h-10.0zM438,159.66h10.0v10.0h-10.0z" fill="none" stroke="#0000ff" stroke-width="1.45"/>
<path d="M257.82,168.02l1.08,2.9 3.1,0.14 -2.43,1.93 0.83,2.99 -2.58,-1.71 -2.59,1.71 0.83,-2.99 -2.43,-1.93 3.1,-0.14zM258.82,165.9l1.09,2.91 3.1,0.13 -2.43,1.93 0.83,2.99 -2.59,-1.71 -2.59,1.71 0.83,-2.99 -2.42,-1.93 3.09,-0.13zM259.82,163.79l1.09,2.9 3.1,0.14 -2.43,1.93 0.83,2.99 -2.59,-1.72 -2.58,1.72 0.83,-2.99 -2.43,-1.93 3.1,-0.14zM260.83,161.67l1.08,2.91 3.1,0.13 -2.42,1.93 0.82,2.99 -2.58,-1.71 -2.59,1.71 0.83,-2.99 -2.43,-1.93 3.1,-0.13zM261.83,159.56l1.09,2.9 3.1,0.14 -2.43,1.93 0.83,2.99 -2.59,-1.72 -2.58,1.72 0.82,-2.99 -2.42,-1.93 3.1,-0.14zM262.84,157.44l1.08,2.9 3.1,0.14 -2.43,1.93 0.83,2.99 -2.58,-1.71 -2.59,1.71 0.83,-2.99 -2.43,-1.93 3.1,-0.14zM263.84,155.32l1.09,2.91 3.09,0.13 -2.42,1.94 0.83,2.98 -2.59,-1.71 -2.59,1.71 0.83,-2.98 -2.43,-1.94 3.1,-0.13zM264.84,153.21l1.09,2.9 3.1,0.14 -2.43,1.93 0.83,2.99 -2.59,-1.71 -2.58,1.71 0.83,-2.99 -2.43,-1.93 3.1,-0.14zM265.85,151.09l1.08,2.91 3.1,0.13 -2.43,1.93 0.83,2.99 -2.58,-1.71 -2.59,1.71 0.83,-2.99 -2.43,-1.93 3.1,-0.13zM266.85,148.98l1.09,2.9 3.09,0.14 -2.42,1.93 0.83,2.99 -2.59,-1.71 -2.59,1.71 0.83,-2.99 -2.42,-1.93 3.09,-0.14zM268.36,146.02l1.08,2.91 3.1,0.13 -2.43,1.93 0.83,2.99 -2.58,-1.71 -2.59,1.71 0.83,-2.99 -2.43,-1.93 3.1,-0.13zM270.36,142.22l1.09,2.91 3.1,0.13 -2.43,1.93 0.83,2.99 -2.59,-1.71 -2.58,1.71 0.83,-2.99 -2.43,-1.93 3.1,-0.13zM272.87,137.7l1.09,2.91 3.1,0.13 -2.43,1.93 0.83,2.99 -2.59,-1.71 -2.58,1.71 0.83,-2.99 -2.43,-1.93 3.1,-0.13zM276.39,132.66l1.08,2.91 3.1,0.13 -2.43,1.93 0.83,2.99 -2.58,-1.71 -2.59,1.71 0.83,-2.99 -2.43,-1.93 3.1,-0.13zM279.9,129.75l1.08,2.9 3.1,0.14 -2.42,1.93 0.82,2.99 -2.58,-1.71 -2.59,1.71 0.83,-2.99 -2.43,-1.93 3.1,-0.14zM283.91,128.69l1.09,2.91 3.1,0.13 -2.43,1.93 0.83,2.99 -2.59,-1.71 -2.58,1.71 0.83,-2.99 -2.43,-1.93 3.1,-0.13zM287.93,130.6l1.08,2.91 3.1,0.13 -2.42,1.93 0.82,2.99 -2.58,-1.71 -2.59,1.71 0.83,-2.99 -2.43,-1.93 3.1,-0.13zM291.44,132.41l1.09,2.91 3.1,0.13 -2.43,1.93 0.83,2.99 -2.59,-1.71 -2.58,1.71 0.82,-2.99 -2.42,-1.93 3.1,-0.13zM295.46,135.17l1.08,2.91 3.1,0.13 -2.43,1.93 0.83,2.99 -2.58,-1.71 -2.59,1.71 0.83,-2.99 -2.43,-1.93 3.1,-0.13zM300.47,139.16l1.09,2.9 3.1,0.14 -2.43,1.93 0.83,2.99 -2.59,-1.71 -2.58,1.71 0.83,-2.99 -2.43,-1.93 3.1,-0.14zM307,144.26l1.09,2.9 3.09,0.14 -2.42,1.93 0.83,2.99 -2.59,-1.71 -2.59,1.71 0.83,-2.99 -2.43,-1.93 3.1,-0.14zM320.05,152.26l1.08,2.91 3.1,0.13 -2.43,1.93 0.83,2.99 -2.58,-1.71 -2.59,1.71 0.83,-2.99 -2.43,-1.93 3.1,-0.13zM341.63,159.6l1.08,2.9 3.1,0.14 -2.43,1.93 0.83,2.99 -2.58,-1.72 -2.59,1.72 0.83,-2.99 -2.43,-1.93 3.1,-0.14zM361.7,160.93l1.09,2.9 3.1,0.14 -2.43,1.93 0.83,2.99 -2.59,-1.71 -2.58,1.71 0.82,-2.99 -2.42,-1.93 3.1,-0.14zM382.28,160.26l1.08,2.91 3.1,0.13 -2.42,1.93 0.82,2.99 -2.58,-1.71 -2.59,1.71 0.83,-2.99 -2.43,-1.93 3.1,-0.13zM402.85,163.26l1.09,2.91 3.1,0.13 -2.43,1.93 0.83,2.99 -2.59,-1.71 -2.58,1.71 0.83,-2.99 -2.43,-1.93 3.1,-0.13zM422.93,166.26l1.09,2.91 3.09,0.13 -2.42,1.93 0.83,2.99 -2.59,-1.71 -2.59,1.71 0.83,-2.99 -2.43,-1.93 3.1,-0.13zM443,164.93l1.09,2.9 3.1,0.14 -2.43,1.93 0.83,2.99 -2.59,-1.71 -2.58,1.71 0.83,-2.99 -2.43,-1.93 3.1,-0.14z" fill="#ff0000"/>
<path d="M257.82,166.92l1.35,3.63 3.88,0.17 -3.04,2.41 1.04,3.74 -3.23,-2.14 -3.24,2.14 1.04,-3.74 -3.03,-2.41 3.87,-0.17zM258.82,164.8l1.36,3.63 3.87,0.17 -3.03,2.42 1.03,3.73 -3.23,-2.14 -3.23,2.14 1.03,-3.73 -3.03,-2.42 3.87,-0.17zM259.82,162.69l1.36,3.63 3.87,0.17 -3.03,2.41 1.04,3.74 -3.24,-2.14 -3.23,2.14 1.04,-3.74 -3.04,-2.41 3.88,-0.17zM260.83,160.57l1.36,3.63 3.87,0.17 -3.04,2.41 1.04,3.74 -3.23,-2.14 -3.23,2.14 1.03,-3.74 -3.03,-2.41 3.87,-0.17zM261.83,158.46l1.36,3.63 3.87,0.17 -3.03,2.41 1.03,3.73 -3.23,-2.13 -3.23,2.13 1.03,-3.73 -3.03,-2.41 3.87,-0.17zM262.84,156.34l1.35,3.63 3.88,0.17 -3.04,2.41 1.04,3.74 -3.23,-2.14 -3.24,2.14 1.04,-3.74 -3.04,-2.41 3.88,-0.17zM263.84,154.22l1.36,3.64 3.87,0.16 -3.03,2.42 1.03,3.73 -3.23,-2.14 -3.23,2.14 1.03,-3.73 -3.03,-2.42 3.87,-0.16zM264.84,152.11l1.36,3.63 3.87,0.17 -3.03,2.41 1.04,3.74 -3.24,-2.14 -3.23,2.14 1.04,-3.74 -3.04,-2.41 3.88,-0.17zM265.85,149.99l1.35,3.63 3.88,0.17 -3.04,2.42 1.04,3.73 -3.23,-2.14 -3.24,2.14 1.04,-3.73 -3.03,-2.42 3.87,-0.17zM266.85,147.88l1.36,3.63 3.87,0.17 -3.03,2.41 1.03,3.74 -3.23,-2.14 -3.23,2.14 1.03,-3.74 -3.03,-2.41 3.87,-0.17zM268.36,144.92l1.35,3.63 3.88,0.17 -3.04,2.42 1.04,3.73 -3.23,-2.14 -3.24,2.14 1.04,-3.73 -3.03,-2.42 3.87,-0.17zM270.36,141.12l1.36,3.63 3.87,0.17 -3.03,2.42 1.04,3.73 -3.24,-2.14 -3.23,2.14 1.04,-3.73 -3.04,-2.42 3.88,-0.17zM272.87,136.6l1.36,3.63 3.87,0.17 -3.03,2.42 1.04,3.73 -3.24,-2.14 -3.23,2.14 1.04,-3.73 -3.04,-2.42 3.87,-0.17zM276.39,131.56l1.35,3.63 3.88,0.17 -3.04,2.42 1.04,3.73 -3.23,-2.14 -3.24,2.14 1.04,-3.73 -3.04,-2.42 3.88,-0.17zM279.9,128.65l1.36,3.63 3.87,0.17 -3.03,2.41 1.03,3.74 -3.23,-2.14 -3.23,2.14 1.03,-3.74 -3.03,-2.41 3.87,-0.17zM283.91,127.59l1.36,3.63 3.87,0.17 -3.03,2.41 1.04,3.74 -3.24,-2.14 -3.23,2.14 1.04,-3.74 -3.04,-2.41 3.88,-0.17zM287.93,129.5l1.36,3.64 3.87,0.16 -3.03,2.42 1.03,3.73 -3.23,-2.14 -3.23,2.14 1.03,-3.73 -3.03,-2.42 3.87,-0.16zM291.44,131.31l1.36,3.63 3.87,0.17 -3.03,2.42 1.03,3.73 -3.23,-2.14 -3.23,2.14 1.03,-3.73 -3.03,-2.42 3.87,-0.17zM295.46,134.07l1.35,3.63 3.88,0.17 -3.04,2.41 1.04,3.74 -3.23,-2.14 -3.24,2.14 1.04,-3.74 -3.03,-2.41 3.87,-0.17zM300.47,138.06l1.36,3.63 3.88,0.17 -3.04,2.41 1.04,3.74 -3.24,-2.14 -3.23,2.14 1.04,-3.74 -3.04,-2.41 3.88,-0.17zM307,143.16l1.36,3.63 3.87,0.17 -3.03,2.41 1.03,3.74 -3.23,-2.14 -3.23,2.14 1.03,-3.74 -3.03,-2.41 3.87,-0.17zM320.05,151.16l1.36,3.63 3.87,0.17 -3.04,2.41 1.04,3.74 -3.23,-2.14 -3.24,2.14 1.04,-3.74 -3.03,-2.41 3.87,-0.17zM341.63,158.5l1.36,3.63 3.87,0.17 -3.04,2.41 1.04,3.73 -3.23,-2.13 -3.24,2.13 1.04,-3.73 -3.03,-2.41 3.87,-0.17zM361.7,159.83l1.36,3.63 3.87,0.17 -3.03,2.41 1.03,3.74 -3.23,-2.14 -3.23,2.14 1.03,-3.74 -3.03,-2.41 3.87,-0.17zM382.28,159.16l1.36,3.63 3.87,0.17 -3.03,2.42 1.03,3.73 -3.23,-2.14 -3.23,2.14 1.03,-3.73 -3.03,-2.42 3.87,-0.17zM402.85,162.16l1.36,3.63 3.88,0.17 -3.04,2.42 1.04,3.73 -3.24,-2.14 -3.23,2.14 1.04,-3.73 -3.04,-2.42 3.88,-0.17zM422.93,165.16l1.36,3.63 3.87,0.17 -3.03,2.42 1.03,3.73 -3.23,-2.14 -3.23,2.14 1.03,-3.73 -3.03,-2.42 3.87,-0.17zM443,163.83l1.36,3.63 3.87,0.17 -3.03,2.41 1.04,3.74 -3.24,-2.14 -3.23,2.14 1.04,-3.74 -3.04,-2.41 3.88,-0.17z" fill="none" stroke="#ff00ff" stroke-width="1.5" stroke-linejoin="round"/>
</g>
<g clip-path="url(#c12)">
<polyline points="473.56,166.38 474.55,163.7 475.54,161.03 476.53,158.35 477.52,155.68 478.52,153 479.51,150.33 480.5,147.66 481.49,144.98 482.48,142.31 483.97,138.57 485.95,133.78 488.43,128.07 491.9,121.73 495.37,118.11 499.33,116.82 503.3,119.56 506.76,122.14 510.73,126.07 515.68,131.75 522.13,139.02 535.01,147.36 556.32,159.03 576.15,159.03 596.46,168.36 616.78,170.03 636.61,168.36 656.43,163.36" fill="none" stroke="#222" stroke-width="1.0" />
<polyline points="473.56,168.98 474.55,166.3 475.54,163.63 476.53,160.95 477.52,158.28 478.52,155.6 479.51,152.93 480.5,150.26 481.49,147.58 482.48,144.91 483.97,141.17 485.95,136.38 488.43,130.67 491.9,124.33 495.37,120.71 499.33,119.42 503.3,122.16 506.76,124.74 510.73,128.67 515.68,134.35 522.13,141.62 535.01,149.96 556.32,161.63 576.15,161.63 596.46,170.96 616.78,172.63 636.61,170.96 656.43,165.96" fill="none" stroke="#222" stroke-width="1.0" />
<polyline points="473.56,166.58 474.55,163.8 475.54,161.02 476.53,158.25 477.52,155.47 478.52,152.69 479.51,149.91 480.5,147.14 481.49,144.36 482.48,141.58 483.97,137.7 485.95,132.72 488.43,126.8 491.9,120.21 495.37,116.45 499.33,115.1 503.3,117.46 506.76,119.69 510.73,123.09 515.68,128.01 522.13,134.31 535.01,143.64 556.32,150.64 576.15,150.64 596.46,154.98 616.78,158.64 636.61,154.98 656.43,146.98" fill="none" stroke="#111" stroke-width="1.0" />
<polyline points="473.56,167.28 474.55,164.5 475.54,161.72 476.53,158.95 477.52,156.17 478.52,153.39 479.51,150.61 480.5,147.84 481.49,145.06 482.48,142.28 483.97,138.4 485.95,133.42 488.43,127.5 491.9,120.91 495.37,117.15 499.33,115.8 503.3,118.16 506.76,120.39 510.73,123.79 515.68,128.71 522.13,135.01 535.01,144.34 556.32,151.34 576.15,151.34 596.46,155.68 616.78,159.34 636.61,155.68 656.43,147.68" fill="none" stroke="#111" stroke-width="1.0" />
<line x1="556.32" y1="158.66" x2="556.32" y2="162" stroke="#000" stroke-width="1.7"/>
<line x1="576.15" y1="158.33" x2="576.15" y2="162.33" stroke="#000" stroke-width="1.7"/>
<line x1="596.46" y1="164" x2="596.46" y2="175.33" stroke="#000" stroke-width="1.7"/>
<line x1="616.78" y1="166.33" x2="616.78" y2="176.33" stroke="#000" stroke-width="1.7"/>
<line x1="636.61" y1="156.33" x2="636.61" y2="183" stroke="#000" stroke-width="1.7"/>
<line x1="656.43" y1="149.66" x2="656.43" y2="179.67" stroke="#000" stroke-width="1.7"/>
<path d="M473.56,167.68h0M474.55,165h0M475.54,162.33h0M476.53,159.65h0M477.52,156.98h0M478.52,154.3h0M479.51,151.63h0M480.5,148.96h0M481.49,146.28h0M482.48,143.61h0M483.97,139.87h0M485.95,135.08h0M488.43,129.37h0M491.9,123.03h0M495.37,119.41h0M499.33,118.12h0M503.3,120.86h0M506.76,123.44h0M510.73,127.37h0M515.68,133.05h0M522.13,140.32h0M535.01,148.66h0M556.32,160.33h0M576.15,160.33h0M596.46,169.66h0M616.78,171.33h0M636.61,169.66h0M656.43,164.66h0" stroke="#000" stroke-width="7" stroke-linecap="round"/>
<path d="M469.96,166.93a3.6,3.6 0 1,0 7.2,0a3.6,3.6 0 1,0 -7.2,0M470.95,164.15a3.6,3.6 0 1,0 7.2,0a3.6,3.6 0 1,0 -7.2,0M471.94,161.37a3.6,3.6 0 1,0 7.2,0a3.6,3.6 0 1,0 -7.2,0M472.93,158.6a3.6,3.6 0 1,0 7.2,0a3.6,3.6 0 1,0 -7.2,0M473.92,155.82a3.6,3.6 0 1,0 7.2,0a3.6,3.6 0 1,0 -7.2,0M474.92,153.04a3.6,3.6 0 1,0 7.2,0a3.6,3.6 0 1,0 -7.2,0M475.91,150.26a3.6,3.6 0 1,0 7.2,0a3.6,3.6 0 1,0 -7.2,0M476.9,147.49a3.6,3.6 0 1,0 7.2,0a3.6,3.6 0 1,0 -7.2,0M477.89,144.71a3.6,3.6 0 1,0 7.2,0a3.6,3.6 0 1,0 -7.2,0M478.88,141.93a3.6,3.6 0 1,0 7.2,0a3.6,3.6 0 1,0 -7.2,0M480.37,138.05a3.6,3.6 0 1,0 7.2,0a3.6,3.6 0 1,0 -7.2,0M482.35,133.07a3.6,3.6 0 1,0 7.2,0a3.6,3.6 0 1,0 -7.2,0M484.83,127.15a3.6,3.6 0 1,0 7.2,0a3.6,3.6 0 1,0 -7.2,0M488.3,120.56a3.6,3.6 0 1,0 7.2,0a3.6,3.6 0 1,0 -7.2,0M491.77,116.8a3.6,3.6 0 1,0 7.2,0a3.6,3.6 0 1,0 -7.2,0M495.73,115.45a3.6,3.6 0 1,0 7.2,0a3.6,3.6 0 1,0 -7.2,0M499.7,117.81a3.6,3.6 0 1,0 7.2,0a3.6,3.6 0 1,0 -7.2,0M503.16,120.04a3.6,3.6 0 1,0 7.2,0a3.6,3.6 0 1,0 -7.2,0M507.13,123.44a3.6,3.6 0 1,0 7.2,0a3.6,3.6 0 1,0 -7.2,0M512.08,128.36a3.6,3.6 0 1,0 7.2,0a3.6,3.6 0 1,0 -7.2,0M518.53,134.66a3.6,3.6 0 1,0 7.2,0a3.6,3.6 0 1,0 -7.2,0M531.41,143.99a3.6,3.6 0 1,0 7.2,0a3.6,3.6 0 1,0 -7.2,0M552.72,150.99a3.6,3.6 0 1,0 7.2,0a3.6,3.6 0 1,0 -7.2,0M572.55,150.99a3.6,3.6 0 1,0 7.2,0a3.6,3.6 0 1,0 -7.2,0M592.86,155.33a3.6,3.6 0 1,0 7.2,0a3.6,3.6 0 1,0 -7.2,0M613.18,158.99a3.6,3.6 0 1,0 7.2,0a3.6,3.6 0 1,0 -7.2,0M633.01,155.33a3.6,3.6 0 1,0 7.2,0a3.6,3.6 0 1,0 -7.2,0M652.83,147.33a3.6,3.6 0 1,0 7.2,0a3.6,3.6 0 1,0 -7.2,0" fill="none" stroke="#000" stroke-width="1.2"/>
<polyline points="473.56,169.9 474.55,167.42 475.54,164.93 476.53,162.45 477.52,159.97 478.52,157.49 479.51,155.01 480.5,152.53 481.49,150.05 482.48,147.57 483.97,144.1 485.95,139.64 488.43,134.34 491.9,128.43 495.37,125.01 499.33,123.77 503.3,126.4 506.76,128.86 510.73,132.62 515.68,138.05 522.13,144.99 535.01,153.33 556.32,162 576.15,162 596.46,170.66 616.78,173 636.61,171.33 656.43,173.66" fill="none" stroke="#ff00ff" stroke-width="1.3" />
<polyline points="473.56,169.9 474.55,167.42 475.54,164.93 476.53,162.45 477.52,159.97 478.52,157.49 479.51,155.01 480.5,152.53 481.49,150.05 482.48,147.57 483.97,144.1 485.95,139.64 488.43,134.34 491.9,128.43 495.37,125.01 499.33,123.77 503.3,126.4 506.76,128.86 510.73,132.62 515.68,138.05 522.13,144.99 535.01,153.33 556.32,162 576.15,162 596.46,170.66 616.78,173 636.61,171.33 656.43,171.33" fill="none" stroke="#0000ff" stroke-width="1.9" />
<polyline points="473.56,169.9 474.55,167.42 475.54,164.93 476.53,162.45 477.52,159.97 478.52,157.49 479.51,155.01 480.5,152.53 481.49,150.05 482.48,147.57 483.97,144.1 485.95,139.64 488.43,134.34 491.9,128.43 495.37,125.01 499.33,123.77 503.3,126.4 506.76,128.86 510.73,132.62 515.68,138.05 522.13,144.99 535.01,153.33 556.32,162 576.15,162 596.46,170.66 616.78,173 636.61,171.33 656.43,177.66" fill="none" stroke="#ff0000" stroke-width="1.1" />
<path d="M468.56,164.9h10.0v10.0h-10.0zM469.55,162.42h10.0v10.0h-10.0zM470.54,159.93h10.0v10.0h-10.0zM471.53,157.45h10.0v10.0h-10.0zM472.52,154.97h10.0v10.0h-10.0zM473.52,152.49h10.0v10.0h-10.0zM474.51,150.01h10.0v10.0h-10.0zM475.5,147.53h10.0v10.0h-10.0zM476.49,145.05h10.0v10.0h-10.0zM477.48,142.57h10.0v10.0h-10.0zM478.97,139.1h10.0v10.0h-10.0zM480.95,134.64h10.0v10.0h-10.0zM483.43,129.34h10.0v10.0h-10.0zM486.9,123.43h10.0v10.0h-10.0zM490.37,120.01h10.0v10.0h-10.0zM494.33,118.77h10.0v10.0h-10.0zM498.3,121.4h10.0v10.0h-10.0zM501.76,123.86h10.0v10.0h-10.0zM505.73,127.62h10.0v10.0h-10.0zM510.68,133.05h10.0v10.0h-10.0zM517.13,139.99h10.0v10.0h-10.0zM530.01,148.33h10.0v10.0h-10.0zM551.32,157h10.0v10.0h-10.0zM571.15,157h10.0v10.0h-10.0zM591.46,165.66h10.0v10.0h-10.0zM611.78,168h10.0v10.0h-10.0zM631.61,166.33h10.0v10.0h-10.0zM651.43,166.33h10.0v10.0h-10.0z" fill="none" stroke="#0000ff" stroke-width="1.45"/>
<path d="M473.56,165.5l1.09,2.9 3.09,0.14 -2.42,1.93 0.83,2.99 -2.59,-1.72 -2.59,1.72 0.83,-2.99 -2.42,-1.93 3.09,-0.14zM474.55,163.02l1.09,2.9 3.1,0.14 -2.43,1.93 0.83,2.99 -2.59,-1.72 -2.58,1.72 0.82,-2.99 -2.42,-1.93 3.1,-0.14zM475.54,160.53l1.09,2.91 3.1,0.13 -2.43,1.94 0.83,2.98 -2.59,-1.71 -2.58,1.71 0.83,-2.98 -2.43,-1.94 3.1,-0.13zM476.53,158.05l1.09,2.91 3.1,0.13 -2.43,1.93 0.83,2.99 -2.59,-1.71 -2.58,1.71 0.83,-2.99 -2.43,-1.93 3.1,-0.13zM477.52,155.57l1.09,2.91 3.1,0.13 -2.43,1.93 0.83,2.99 -2.59,-1.71 -2.58,1.71 0.83,-2.99 -2.43,-1.93 3.1,-0.13zM478.52,153.09l1.08,2.91 3.1,0.13 -2.43,1.93 0.83,2.99 -2.58,-1.71 -2.59,1.71 0.83,-2.99 -2.43,-1.93 3.1,-0.13zM479.51,150.61l1.08,2.91 3.1,0.13 -2.43,1.93 0.83,2.99 -2.58,-1.71 -2.59,1.71 0.83,-2.99 -2.43,-1.93 3.1,-0.13zM480.5,148.13l1.08,2.9 3.1,0.14 -2.42,1.93 0.82,2.99 -2.58,-1.71 -2.59,1.71 0.83,-2.99 -2.43,-1.93 3.1,-0.14zM481.49,145.65l1.09,2.9 3.09,0.14 -2.42,1.93 0.83,2.99 -2.59,-1.71 -2.59,1.71 0.83,-2.99 -2.43,-1.93 3.1,-0.14zM482.48,143.17l1.09,2.9 3.1,0.14 -2.43,1.93 0.83,2.99 -2.59,-1.71 -2.59,1.71 0.83,-2.99 -2.42,-1.93 3.09,-0.14zM483.97,139.7l1.08,2.9 3.1,0.14 -2.43,1.93 0.83,2.99 -2.58,-1.71 -2.59,1.71 0.83,-2.99 -2.43,-1.93 3.1,-0.14zM485.95,135.24l1.09,2.91 3.09,0.13 -2.42,1.93 0.83,2.99 -2.59,-1.71 -2.59,1.71 0.83,-2.99 -2.42,-1.93 3.09,-0.13zM488.43,129.94l1.08,2.91 3.1,0.13 -2.42,1.93 0.82,2.99 -2.58,-1.71 -2.59,1.71 0.83,-2.99 -2.43,-1.93 3.1,-0.13zM491.9,124.03l1.08,2.91 3.1,0.13 -2.43,1.93 0.83,2.99 -2.58,-1.71 -2.59,1.71 0.83,-2.99 -2.43,-1.93 3.1,-0.13zM495.37,120.61l1.08,2.91 3.1,0.13 -2.43,1.93 0.83,2.99 -2.58,-1.71 -2.59,1.71 0.83,-2.99 -2.43,-1.93 3.1,-0.13zM499.33,119.37l1.09,2.91 3.1,0.13 -2.43,1.93 0.83,2.99 -2.59,-1.71 -2.59,1.71 0.83,-2.99 -2.42,-1.93 3.09,-0.13zM503.3,122l1.08,2.9 3.1,0.14 -2.43,1.93 0.83,2.99 -2.58,-1.71 -2.59,1.71 0.83,-2.99 -2.43,-1.93 3.1,-0.14zM506.76,124.46l1.09,2.91 3.1,0.13 -2.43,1.93 0.83,2.99 -2.59,-1.71 -2.58,1.71 0.83,-2.99 -2.43,-1.93 3.1,-0.13zM510.73,128.22l1.09,2.9 3.09,0.14 -2.42,1.93 0.83,2.99 -2.59,-1.72 -2.59,1.72 0.83,-2.99 -2.43,-1.93 3.1,-0.14zM515.68,133.65l1.09,2.9 3.1,0.14 -2.43,1.93 0.83,2.99 -2.59,-1.71 -2.58,1.71 0.83,-2.99 -2.43,-1.93 3.1,-0.14zM522.13,140.59l1.08,2.91 3.1,0.13 -2.43,1.93 0.83,2.99 -2.58,-1.71 -2.59,1.71 0.83,-2.99 -2.43,-1.93 3.1,-0.13zM535.01,148.93l1.09,2.9 3.1,0.14 -2.43,1.93 0.83,2.99 -2.59,-1.72 -2.58,1.72 0.82,-2.99 -2.42,-1.93 3.1,-0.14zM556.32,157.59l1.09,2.91 3.1,0.14 -2.43,1.93 0.83,2.98 -2.59,-1.71 -2.58,1.71 0.82,-2.98 -2.42,-1.93 3.1,-0.14zM576.15,157.59l1.08,2.91 3.1,0.14 -2.43,1.93 0.83,2.98 -2.58,-1.71 -2.59,1.71 0.83,-2.98 -2.43,-1.93 3.1,-0.14zM596.46,166.26l1.09,2.91 3.1,0.13 -2.43,1.93 0.83,2.99 -2.59,-1.71 -2.58,1.71 0.83,-2.99 -2.43,-1.93 3.1,-0.13zM616.78,168.6l1.09,2.9 3.1,0.14 -2.43,1.93 0.83,2.99 -2.59,-1.71 -2.58,1.71 0.83,-2.99 -2.43,-1.93 3.1,-0.14zM636.61,166.93l1.08,2.91 3.1,0.13 -2.43,1.93 0.83,2.99 -2.58,-1.71 -2.59,1.71 0.83,-2.99 -2.43,-1.93 3.1,-0.13zM656.43,173.26l1.09,2.91 3.09,0.14 -2.42,1.93 0.83,2.98 -2.59,-1.71 -2.59,1.71 0.83,-2.98 -2.42,-1.93 3.09,-0.14z" fill="#ff0000"/>
<path d="M473.56,164.4l1.36,3.63 3.87,0.17 -3.03,2.41 1.03,3.74 -3.23,-2.14 -3.23,2.14 1.03,-3.74 -3.03,-2.41 3.87,-0.17zM474.55,161.92l1.36,3.63 3.87,0.17 -3.03,2.41 1.03,3.74 -3.23,-2.14 -3.23,2.14 1.03,-3.74 -3.03,-2.41 3.87,-0.17zM475.54,159.43l1.36,3.64 3.87,0.16 -3.03,2.42 1.04,3.73 -3.24,-2.14 -3.23,2.14 1.04,-3.73 -3.04,-2.42 3.87,-0.16zM476.53,156.95l1.36,3.63 3.87,0.17 -3.03,2.42 1.04,3.73 -3.24,-2.14 -3.23,2.14 1.04,-3.73 -3.04,-2.42 3.88,-0.17zM477.52,154.47l1.36,3.63 3.88,0.17 -3.04,2.42 1.04,3.73 -3.24,-2.14 -3.23,2.14 1.04,-3.73 -3.04,-2.42 3.88,-0.17zM478.52,151.99l1.35,3.63 3.88,0.17 -3.04,2.42 1.04,3.73 -3.23,-2.14 -3.24,2.14 1.04,-3.73 -3.03,-2.42 3.87,-0.17zM479.51,149.51l1.35,3.63 3.88,0.17 -3.04,2.41 1.04,3.74 -3.23,-2.14 -3.24,2.14 1.04,-3.74 -3.03,-2.41 3.87,-0.17zM480.5,147.03l1.36,3.63 3.87,0.17 -3.03,2.41 1.03,3.74 -3.23,-2.14 -3.23,2.14 1.03,-3.74 -3.03,-2.41 3.87,-0.17zM481.49,144.55l1.36,3.63 3.87,0.17 -3.03,2.41 1.03,3.74 -3.23,-2.14 -3.23,2.14 1.03,-3.74 -3.03,-2.41 3.87,-0.17zM482.48,142.07l1.36,3.63 3.87,0.17 -3.03,2.41 1.03,3.74 -3.23,-2.14 -3.23,2.14 1.03,-3.74 -3.03,-2.41 3.87,-0.17zM483.97,138.6l1.36,3.63 3.87,0.17 -3.04,2.41 1.04,3.74 -3.23,-2.14 -3.24,2.14 1.04,-3.74 -3.03,-2.41 3.87,-0.17zM485.95,134.14l1.36,3.63 3.87,0.17 -3.03,2.42 1.03,3.73 -3.23,-2.14 -3.23,2.14 1.03,-3.73 -3.03,-2.42 3.87,-0.17zM488.43,128.84l1.36,3.63 3.87,0.17 -3.04,2.42 1.04,3.73 -3.23,-2.14 -3.24,2.14 1.04,-3.73 -3.03,-2.42 3.87,-0.17zM491.9,122.93l1.35,3.63 3.88,0.17 -3.04,2.42 1.04,3.73 -3.23,-2.14 -3.24,2.14 1.04,-3.73 -3.03,-2.42 3.87,-0.17zM495.37,119.51l1.35,3.63 3.88,0.17 -3.04,2.42 1.04,3.73 -3.23,-2.14 -3.24,2.14 1.04,-3.73 -3.03,-2.42 3.87,-0.17zM499.33,118.27l1.36,3.63 3.87,0.17 -3.03,2.42 1.03,3.73 -3.23,-2.14 -3.23,2.14 1.03,-3.73 -3.03,-2.42 3.87,-0.17zM503.3,120.9l1.35,3.63 3.88,0.17 -3.04,2.41 1.04,3.74 -3.23,-2.14 -3.24,2.14 1.04,-3.74 -3.04,-2.41 3.88,-0.17zM506.76,123.36l1.36,3.63 3.87,0.17 -3.03,2.41 1.04,3.74 -3.24,-2.14 -3.23,2.14 1.04,-3.74 -3.04,-2.41 3.88,-0.17zM510.73,127.12l1.36,3.63 3.87,0.17 -3.03,2.41 1.03,3.74 -3.23,-2.14 -3.23,2.14 1.03,-3.74 -3.03,-2.41 3.87,-0.17zM515.68,132.55l1.36,3.63 3.88,0.17 -3.04,2.41 1.04,3.74 -3.24,-2.14 -3.23,2.14 1.04,-3.74 -3.04,-2.41 3.88,-0.17zM522.13,139.49l1.35,3.63 3.88,0.17 -3.04,2.42 1.04,3.73 -3.23,-2.14 -3.24,2.14 1.04,-3.73 -3.03,-2.42 3.87,-0.17zM535.01,147.83l1.36,3.63 3.87,0.17 -3.03,2.41 1.04,3.74 -3.24,-2.14 -3.23,2.14 1.04,-3.74 -3.04,-2.41 3.87,-0.17zM556.32,156.5l1.36,3.63 3.87,0.17 -3.03,2.41 1.04,3.73 -3.24,-2.13 -3.23,2.13 1.04,-3.73 -3.04,-2.41 3.87,-0.17zM576.15,156.5l1.35,3.63 3.88,0.17 -3.04,2.41 1.04,3.73 -3.23,-2.13 -3.24,2.13 1.04,-3.73 -3.04,-2.41 3.88,-0.17zM596.46,165.16l1.36,3.63 3.88,0.17 -3.04,2.42 1.04,3.73 -3.24,-2.14 -3.23,2.14 1.04,-3.73 -3.04,-2.42 3.88,-0.17zM616.78,167.5l1.36,3.63 3.87,0.17 -3.03,2.41 1.04,3.74 -3.24,-2.14 -3.23,2.14 1.04,-3.74 -3.04,-2.41 3.88,-0.17zM636.61,165.83l1.35,3.63 3.88,0.17 -3.04,2.41 1.04,3.74 -3.23,-2.14 -3.24,2.14 1.04,-3.74 -3.03,-2.41 3.87,-0.17zM656.43,168.16l1.36,3.64 3.87,0.16 -3.03,2.42 1.03,3.73 -3.23,-2.14 -3.23,2.14 1.03,-3.73 -3.03,-2.42 3.87,-0.16z" fill="none" stroke="#ff00ff" stroke-width="1.5" stroke-linejoin="round"/>
</g>
<g clip-path="url(#c20)">
<polyline points="42.8,258.47 43.8,254.56 44.8,250.64 45.8,246.66 46.8,242.67 47.8,239.06 48.8,235.52 49.8,231.99 50.8,228.46 51.8,226.33 53.3,223.28 55.3,219.22 57.8,215.41 61.3,212.23 64.8,210.78 68.8,210.04 72.8,212.63 76.3,215.25 80.3,219.24 85.3,225.01 91.8,232.39 104.8,240.72 126.3,255.39 146.3,256.39 166.8,257.06 187.3,263.06 207.3,251.73 227.3,271.06" fill="none" stroke="#222" stroke-width="1.0" />
<polyline points="42.8,261.07 43.8,257.16 44.8,253.24 45.8,249.26 46.8,245.27 47.8,241.66 48.8,238.12 49.8,234.59 50.8,231.06 51.8,228.93 53.3,225.88 55.3,221.82 57.8,218.01 61.3,214.83 64.8,213.38 68.8,212.64 72.8,215.23 76.3,217.85 80.3,221.84 85.3,227.61 91.8,234.99 104.8,243.32 126.3,257.99 146.3,258.99 166.8,259.66 187.3,265.66 207.3,254.33 227.3,273.66" fill="none" stroke="#222" stroke-width="1.0" />
<polyline points="42.8,258.65 43.8,254.62 44.8,250.57 45.8,246.46 46.8,242.35 47.8,238.61 48.8,234.97 49.8,231.32 50.8,227.68 51.8,225.48 53.3,222.34 55.3,218.14 57.8,214.21 61.3,210.93 64.8,209.43 68.8,208.61 72.8,210.82 76.3,213.05 80.3,216.46 85.3,221.38 91.8,227.67 104.8,236.67 126.3,246.01 146.3,245.68 166.8,246.34 187.3,251.01 207.3,243.01 227.3,244.34" fill="none" stroke="#111" stroke-width="1.0" />
<polyline points="42.8,259.35 43.8,255.32 44.8,251.27 45.8,247.16 46.8,243.05 47.8,239.31 48.8,235.67 49.8,232.02 50.8,228.38 51.8,226.18 53.3,223.04 55.3,218.84 57.8,214.91 61.3,211.63 64.8,210.13 68.8,209.31 72.8,211.52 76.3,213.75 80.3,217.16 85.3,222.08 91.8,228.37 104.8,237.37 126.3,246.71 146.3,246.38 166.8,247.04 187.3,251.71 207.3,243.71 227.3,245.04" fill="none" stroke="#111" stroke-width="1.0" />
<line x1="126.3" y1="255.03" x2="126.3" y2="258.36" stroke="#000" stroke-width="1.7"/>
<line x1="146.3" y1="255.69" x2="146.3" y2="259.7" stroke="#000" stroke-width="1.7"/>
<line x1="166.8" y1="254.36" x2="166.8" y2="262.36" stroke="#000" stroke-width="1.7"/>
<line x1="187.3" y1="252.36" x2="187.3" y2="276.37" stroke="#000" stroke-width="1.7"/>
<line x1="207.3" y1="243.03" x2="207.3" y2="263.03" stroke="#000" stroke-width="1.7"/>
<line x1="227.3" y1="256.69" x2="227.3" y2="288.03" stroke="#000" stroke-width="1.7"/>
<line x1="207.3" y1="238.36" x2="207.3" y2="248.36" stroke="#000" stroke-width="1.4"/>
<path d="M42.8,259.77h0M43.8,255.86h0M44.8,251.94h0M45.8,247.96h0M46.8,243.97h0M47.8,240.36h0M48.8,236.82h0M49.8,233.29h0M50.8,229.76h0M51.8,227.63h0M53.3,224.58h0M55.3,220.52h0M57.8,216.71h0M61.3,213.53h0M64.8,212.08h0M68.8,211.34h0M72.8,213.93h0M76.3,216.55h0M80.3,220.54h0M85.3,226.31h0M91.8,233.69h0M104.8,242.02h0M126.3,256.69h0M146.3,257.69h0M166.8,258.36h0M187.3,264.36h0M207.3,253.03h0M227.3,272.36h0" stroke="#000" stroke-width="7" stroke-linecap="round"/>
<path d="M39.2,259a3.6,3.6 0 1,0 7.2,0a3.6,3.6 0 1,0 -7.2,0M40.2,254.97a3.6,3.6 0 1,0 7.2,0a3.6,3.6 0 1,0 -7.2,0M41.2,250.92a3.6,3.6 0 1,0 7.2,0a3.6,3.6 0 1,0 -7.2,0M42.2,246.81a3.6,3.6 0 1,0 7.2,0a3.6,3.6 0 1,0 -7.2,0M43.2,242.7a3.6,3.6 0 1,0 7.2,0a3.6,3.6 0 1,0 -7.2,0M44.2,238.96a3.6,3.6 0 1,0 7.2,0a3.6,3.6 0 1,0 -7.2,0M45.2,235.32a3.6,3.6 0 1,0 7.2,0a3.6,3.6 0 1,0 -7.2,0M46.2,231.67a3.6,3.6 0 1,0 7.2,0a3.6,3.6 0 1,0 -7.2,0M47.2,228.03a3.6,3.6 0 1,0 7.2,0a3.6,3.6 0 1,0 -7.2,0M48.2,225.83a3.6,3.6 0 1,0 7.2,0a3.6,3.6 0 1,0 -7.2,0M49.7,222.69a3.6,3.6 0 1,0 7.2,0a3.6,3.6 0 1,0 -7.2,0M51.7,218.49a3.6,3.6 0 1,0 7.2,0a3.6,3.6 0 1,0 -7.2,0M54.2,214.56a3.6,3.6 0 1,0 7.2,0a3.6,3.6 0 1,0 -7.2,0M57.7,211.28a3.6,3.6 0 1,0 7.2,0a3.6,3.6 0 1,0 -7.2,0M61.2,209.78a3.6,3.6 0 1,0 7.2,0a3.6,3.6 0 1,0 -7.2,0M65.2,208.96a3.6,3.6 0 1,0 7.2,0a3.6,3.6 0 1,0 -7.2,0M69.2,211.17a3.6,3.6 0 1,0 7.2,0a3.6,3.6 0 1,0 -7.2,0M72.7,213.4a3.6,3.6 0 1,0 7.2,0a3.6,3.6 0 1,0 -7.2,0M76.7,216.81a3.6,3.6 0 1,0 7.2,0a3.6,3.6 0 1,0 -7.2,0M81.7,221.73a3.6,3.6 0 1,0 7.2,0a3.6,3.6 0 1,0 -7.2,0M88.2,228.02a3.6,3.6 0 1,0 7.2,0a3.6,3.6 0 1,0 -7.2,0M101.2,237.02a3.6,3.6 0 1,0 7.2,0a3.6,3.6 0 1,0 -7.2,0M122.7,246.36a3.6,3.6 0 1,0 7.2,0a3.6,3.6 0 1,0 -7.2,0M142.7,246.03a3.6,3.6 0 1,0 7.2,0a3.6,3.6 0 1,0 -7.2,0M163.2,246.69a3.6,3.6 0 1,0 7.2,0a3.6,3.6 0 1,0 -7.2,0M183.7,251.36a3.6,3.6 0 1,0 7.2,0a3.6,3.6 0 1,0 -7.2,0M203.7,243.36a3.6,3.6 0 1,0 7.2,0a3.6,3.6 0 1,0 -7.2,0M223.7,244.69a3.6,3.6 0 1,0 7.2,0a3.6,3.6 0 1,0 -7.2,0" fill="none" stroke="#000" stroke-width="1.2"/>
<polyline points="42.8,265.07 43.8,261.5 44.8,257.91 45.8,254.28 46.8,250.64 47.8,247.33 48.8,244.09 49.8,240.85 50.8,237.61 51.8,235.62 53.3,232.76 55.3,228.94 57.8,225.28 61.3,222.09 64.8,220.42 68.8,219.63 72.8,221.88 76.3,224.15 80.3,227.62 85.3,232.62 91.8,239.02 104.8,247.36 126.3,257.36 146.3,258.69 166.8,259.7 187.3,274.7 207.3,256.69 227.3,272.36" fill="none" stroke="#ff00ff" stroke-width="1.3" />
<polyline points="42.8,265.07 43.8,261.5 44.8,257.91 45.8,254.28 46.8,250.64 47.8,247.33 48.8,244.09 49.8,240.85 50.8,237.61 51.8,235.62 53.3,232.76 55.3,228.94 57.8,225.28 61.3,222.09 64.8,220.42 68.8,219.63 72.8,221.88 76.3,224.15 80.3,227.62 85.3,232.62 91.8,239.02 104.8,247.36 126.3,257.36 146.3,258.69 166.8,259.7 187.3,274.7 207.3,256.69 227.3,272.36" fill="none" stroke="#0000ff" stroke-width="1.9" />
<polyline points="42.8,265.07 43.8,261.5 44.8,257.91 45.8,254.28 46.8,250.64 47.8,247.33 48.8,244.09 49.8,240.85 50.8,237.61 51.8,235.62 53.3,232.76 55.3,228.94 57.8,225.28 61.3,222.09 64.8,220.42 68.8,219.63 72.8,221.88 76.3,224.15 80.3,227.62 85.3,232.62 91.8,239.02 104.8,247.36 126.3,257.36 146.3,258.69 166.8,259.7 187.3,274.7 207.3,256.69 227.3,272.36" fill="none" stroke="#ff0000" stroke-width="1.1" />
<path d="M37.8,260.07h10.0v10.0h-10.0zM38.8,256.5h10.0v10.0h-10.0zM39.8,252.91h10.0v10.0h-10.0zM40.8,249.28h10.0v10.0h-10.0zM41.8,245.64h10.0v10.0h-10.0zM42.8,242.33h10.0v10.0h-10.0zM43.8,239.09h10.0v10.0h-10.0zM44.8,235.85h10.0v10.0h-10.0zM45.8,232.61h10.0v10.0h-10.0zM46.8,230.62h10.0v10.0h-10.0zM48.3,227.76h10.0v10.0h-10.0zM50.3,223.94h10.0v10.0h-10.0zM52.8,220.28h10.0v10.0h-10.0zM56.3,217.09h10.0v10.0h-10.0zM59.8,215.42h10.0v10.0h-10.0zM63.8,214.63h10.0v10.0h-10.0zM67.8,216.88h10.0v10.0h-10.0zM71.3,219.15h10.0v10.0h-10.0zM75.3,222.62h10.0v10.0h-10.0zM80.3,227.62h10.0v10.0h-10.0zM86.8,234.02h10.0v10.0h-10.0zM99.8,242.36h10.0v10.0h-10.0zM121.3,252.36h10.0v10.0h-10.0zM141.3,253.69h10.0v10.0h-10.0zM161.8,254.7h10.0v10.0h-10.0zM182.3,269.7h10.0v10.0h-10.0zM202.3,251.69h10.0v10.0h-10.0zM222.3,267.36h10.0v10.0h-10.0z" fill="none" stroke="#0000ff" stroke-width="1.45"/>
<path d="M42.8,260.67l1.09,2.9 3.09,0.14 -2.42,1.93 0.83,2.99 -2.59,-1.71 -2.59,1.71 0.83,-2.99 -2.42,-1.93 3.09,-0.14zM43.8,257.1l1.09,2.9 3.09,0.14 -2.42,1.93 0.83,2.99 -2.59,-1.71 -2.59,1.71 0.83,-2.99 -2.42,-1.93 3.09,-0.14zM44.8,253.51l1.09,2.91 3.09,0.13 -2.42,1.93 0.83,2.99 -2.59,-1.71 -2.59,1.71 0.83,-2.99 -2.42,-1.93 3.09,-0.13zM45.8,249.88l1.09,2.9 3.09,0.14 -2.42,1.93 0.83,2.99 -2.59,-1.72 -2.59,1.72 0.83,-2.99 -2.42,-1.93 3.09,-0.14zM46.8,246.24l1.09,2.91 3.09,0.13 -2.42,1.93 0.83,2.99 -2.59,-1.71 -2.59,1.71 0.83,-2.99 -2.42,-1.93 3.09,-0.13zM47.8,242.93l1.09,2.9 3.09,0.14 -2.42,1.93 0.83,2.99 -2.59,-1.71 -2.59,1.71 0.83,-2.99 -2.42,-1.93 3.09,-0.14zM48.8,239.69l1.09,2.9 3.09,0.14 -2.42,1.93 0.83,2.99 -2.59,-1.71 -2.59,1.71 0.83,-2.99 -2.42,-1.93 3.09,-0.14zM49.8,236.45l1.09,2.91 3.09,0.13 -2.42,1.93 0.83,2.99 -2.59,-1.71 -2.59,1.71 0.83,-2.99 -2.42,-1.93 3.09,-0.13zM50.8,233.21l1.09,2.91 3.09,0.13 -2.42,1.93 0.83,2.99 -2.59,-1.71 -2.59,1.71 0.83,-2.99 -2.42,-1.93 3.09,-0.13zM51.8,231.22l1.09,2.91 3.09,0.13 -2.42,1.93 0.83,2.99 -2.59,-1.71 -2.59,1.71 0.83,-2.99 -2.42,-1.93 3.09,-0.13zM53.3,228.36l1.09,2.9 3.09,0.14 -2.42,1.93 0.83,2.99 -2.59,-1.72 -2.59,1.72 0.83,-2.99 -2.42,-1.93 3.09,-0.14zM55.3,224.54l1.09,2.9 3.09,0.14 -2.42,1.93 0.83,2.99 -2.59,-1.72 -2.59,1.72 0.83,-2.99 -2.42,-1.93 3.09,-0.14zM57.8,220.88l1.09,2.91 3.09,0.13 -2.42,1.93 0.83,2.99 -2.59,-1.71 -2.59,1.71 0.83,-2.99 -2.42,-1.93 3.09,-0.13zM61.3,217.69l1.09,2.9 3.09,0.14 -2.42,1.93 0.83,2.99 -2.59,-1.71 -2.59,1.71 0.83,-2.99 -2.42,-1.93 3.09,-0.14zM64.8,216.02l1.09,2.9 3.09,0.14 -2.42,1.93 0.83,2.99 -2.59,-1.72 -2.59,1.72 0.83,-2.99 -2.42,-1.93 3.09,-0.14zM68.8,215.23l1.09,2.91 3.09,0.14 -2.42,1.93 0.83,2.98 -2.59,-1.71 -2.59,1.71 0.83,-2.98 -2.42,-1.93 3.09,-0.14zM72.8,217.48l1.09,2.91 3.09,0.13 -2.42,1.93 0.83,2.99 -2.59,-1.71 -2.59,1.71 0.83,-2.99 -2.42,-1.93 3.09,-0.13zM76.3,219.75l1.09,2.91 3.09,0.13 -2.42,1.93 0.83,2.99 -2.59,-1.71 -2.59,1.71 0.83,-2.99 -2.42,-1.93 3.09,-0.13zM80.3,223.22l1.09,2.9 3.09,0.14 -2.42,1.93 0.83,2.99 -2.59,-1.72 -2.59,1.72 0.83,-2.99 -2.42,-1.93 3.09,-0.14zM85.3,228.22l1.09,2.91 3.09,0.13 -2.42,1.93 0.83,2.99 -2.59,-1.71 -2.59,1.71 0.83,-2.99 -2.42,-1.93 3.09,-0.13zM91.8,234.62l1.09,2.91 3.09,0.13 -2.42,1.94 0.83,2.98 -2.59,-1.71 -2.59,1.71 0.83,-2.98 -2.42,-1.94 3.09,-0.13zM104.8,242.96l1.09,2.9 3.09,0.14 -2.42,1.93 0.83,2.99 -2.59,-1.71 -2.59,1.71 0.83,-2.99 -2.42,-1.93 3.09,-0.14zM126.3,252.96l1.09,2.91 3.09,0.13 -2.42,1.93 0.83,2.99 -2.59,-1.71 -2.59,1.71 0.83,-2.99 -2.42,-1.93 3.09,-0.13zM146.3,254.29l1.09,2.91 3.09,0.14 -2.42,1.93 0.83,2.98 -2.59,-1.71 -2.59,1.71 0.83,-2.98 -2.42,-1.93 3.09,-0.14zM166.8,255.3l1.09,2.9 3.09,0.14 -2.42,1.93 0.83,2.98 -2.59,-1.71 -2.59,1.71 0.83,-2.98 -2.42,-1.93 3.09,-0.14zM187.3,270.3l1.09,2.9 3.09,0.14 -2.42,1.93 0.83,2.99 -2.59,-1.71 -2.59,1.71 0.83,-2.99 -2.42,-1.93 3.09,-0.14zM207.3,252.29l1.09,2.91 3.09,0.13 -2.42,1.94 0.83,2.98 -2.59,-1.71 -2.59,1.71 0.83,-2.98 -2.42,-1.94 3.09,-0.13zM227.3,267.96l1.09,2.91 3.09,0.13 -2.42,1.94 0.83,2.98 -2.59,-1.71 -2.59,1.71 0.83,-2.98 -2.42,-1.94 3.09,-0.13z" fill="#ff0000"/>
<path d="M42.8,259.57l1.36,3.63 3.87,0.17 -3.03,2.41 1.03,3.74 -3.23,-2.14 -3.23,2.14 1.03,-3.74 -3.03,-2.41 3.87,-0.17zM43.8,256l1.36,3.63 3.87,0.17 -3.03,2.41 1.03,3.74 -3.23,-2.14 -3.23,2.14 1.03,-3.74 -3.03,-2.41 3.87,-0.17zM44.8,252.41l1.36,3.63 3.87,0.17 -3.03,2.42 1.03,3.73 -3.23,-2.14 -3.23,2.14 1.03,-3.73 -3.03,-2.42 3.87,-0.17zM45.8,248.78l1.36,3.63 3.87,0.17 -3.03,2.41 1.03,3.74 -3.23,-2.14 -3.23,2.14 1.03,-3.74 -3.03,-2.41 3.87,-0.17zM46.8,245.14l1.36,3.63 3.87,0.17 -3.03,2.41 1.03,3.74 -3.23,-2.14 -3.23,2.14 1.03,-3.74 -3.03,-2.41 3.87,-0.17zM47.8,241.83l1.36,3.63 3.87,0.17 -3.03,2.41 1.03,3.74 -3.23,-2.14 -3.23,2.14 1.03,-3.74 -3.03,-2.41 3.87,-0.17zM48.8,238.59l1.36,3.63 3.87,0.17 -3.03,2.41 1.03,3.74 -3.23,-2.14 -3.23,2.14 1.03,-3.74 -3.03,-2.41 3.87,-0.17zM49.8,235.35l1.36,3.63 3.87,0.17 -3.03,2.42 1.03,3.73 -3.23,-2.14 -3.23,2.14 1.03,-3.73 -3.03,-2.42 3.87,-0.17zM50.8,232.11l1.36,3.63 3.87,0.17 -3.03,2.42 1.03,3.73 -3.23,-2.14 -3.23,2.14 1.03,-3.73 -3.03,-2.42 3.87,-0.17zM51.8,230.12l1.36,3.63 3.87,0.17 -3.03,2.41 1.03,3.74 -3.23,-2.14 -3.23,2.14 1.03,-3.74 -3.03,-2.41 3.87,-0.17zM53.3,227.26l1.36,3.63 3.87,0.17 -3.03,2.41 1.03,3.74 -3.23,-2.14 -3.23,2.14 1.03,-3.74 -3.03,-2.41 3.87,-0.17zM55.3,223.44l1.36,3.63 3.87,0.17 -3.03,2.41 1.03,3.74 -3.23,-2.14 -3.23,2.14 1.03,-3.74 -3.03,-2.41 3.87,-0.17zM57.8,219.78l1.36,3.63 3.87,0.17 -3.03,2.42 1.03,3.73 -3.23,-2.14 -3.23,2.14 1.03,-3.73 -3.03,-2.42 3.87,-0.17zM61.3,216.59l1.36,3.63 3.87,0.17 -3.03,2.41 1.03,3.74 -3.23,-2.14 -3.23,2.14 1.03,-3.74 -3.03,-2.41 3.87,-0.17zM64.8,214.92l1.36,3.63 3.87,0.17 -3.03,2.41 1.03,3.74 -3.23,-2.14 -3.23,2.14 1.03,-3.74 -3.03,-2.41 3.87,-0.17zM68.8,214.13l1.36,3.64 3.87,0.17 -3.03,2.41 1.03,3.73 -3.23,-2.14 -3.23,2.14 1.03,-3.73 -3.03,-2.41 3.87,-0.17zM72.8,216.38l1.36,3.63 3.87,0.17 -3.03,2.42 1.03,3.73 -3.23,-2.14 -3.23,2.14 1.03,-3.73 -3.03,-2.42 3.87,-0.17zM76.3,218.65l1.36,3.63 3.87,0.17 -3.03,2.42 1.03,3.73 -3.23,-2.14 -3.23,2.14 1.03,-3.73 -3.03,-2.42 3.87,-0.17zM80.3,222.12l1.36,3.63 3.87,0.17 -3.03,2.41 1.03,3.74 -3.23,-2.14 -3.23,2.14 1.03,-3.74 -3.03,-2.41 3.87,-0.17zM85.3,227.12l1.36,3.63 3.87,0.17 -3.03,2.42 1.03,3.73 -3.23,-2.14 -3.23,2.14 1.03,-3.73 -3.03,-2.42 3.87,-0.17zM91.8,233.52l1.36,3.64 3.87,0.16 -3.03,2.42 1.03,3.73 -3.23,-2.14 -3.23,2.14 1.03,-3.73 -3.03,-2.42 3.87,-0.16zM104.8,241.86l1.36,3.63 3.87,0.17 -3.03,2.41 1.03,3.74 -3.23,-2.14 -3.23,2.14 1.03,-3.74 -3.03,-2.41 3.87,-0.17zM126.3,251.86l1.36,3.63 3.87,0.17 -3.03,2.42 1.03,3.73 -3.23,-2.14 -3.23,2.14 1.03,-3.73 -3.03,-2.42 3.87,-0.17zM146.3,253.19l1.36,3.64 3.87,0.17 -3.03,2.41 1.03,3.73 -3.23,-2.14 -3.23,2.14 1.03,-3.73 -3.03,-2.41 3.87,-0.17zM166.8,254.2l1.36,3.63 3.87,0.17 -3.03,2.41 1.03,3.73 -3.23,-2.13 -3.23,2.13 1.03,-3.73 -3.03,-2.41 3.87,-0.17zM187.3,269.2l1.36,3.63 3.87,0.17 -3.03,2.41 1.03,3.74 -3.23,-2.14 -3.23,2.14 1.03,-3.74 -3.03,-2.41 3.87,-0.17zM207.3,251.19l1.36,3.64 3.87,0.17 -3.03,2.41 1.03,3.73 -3.23,-2.14 -3.23,2.14 1.03,-3.73 -3.03,-2.41 3.87,-0.17zM227.3,266.86l1.36,3.64 3.87,0.16 -3.03,2.42 1.03,3.73 -3.23,-2.14 -3.23,2.14 1.03,-3.73 -3.03,-2.42 3.87,-0.16z" fill="none" stroke="#ff00ff" stroke-width="1.5" stroke-linejoin="round"/>
</g>
<g clip-path="url(#c21)">
<polyline points="257.82,256.85 258.82,252.66 259.82,248.44 260.83,244.17 261.83,239.97 262.84,236.18 263.84,232.4 264.84,228.61 265.85,225.43 266.85,223.26 268.36,219.99 270.36,215.64 272.87,212.31 276.39,209.22 279.9,207.79 283.91,207.84 287.93,210.1 291.44,212.83 295.46,216.99 300.47,223.02 307,230.72 320.05,243.06 341.63,252.39 361.7,253.39 382.28,257.06 402.85,260.4 422.93,263.73 443,260.4" fill="none" stroke="#222" stroke-width="1.0" />
<polyline points="257.82,259.45 258.82,255.26 259.82,251.04 260.83,246.77 261.83,242.57 262.84,238.78 263.84,235 264.84,231.21 265.85,228.03 266.85,225.86 268.36,222.59 270.36,218.24 272.87,214.91 276.39,211.82 279.9,210.39 283.91,210.44 287.93,212.7 291.44,215.43 295.46,219.59 300.47,225.62 307,233.32 320.05,245.66 341.63,254.99 361.7,255.99 382.28,259.66 402.85,263 422.93,266.33 443,263" fill="none" stroke="#222" stroke-width="1.0" />
<polyline points="257.82,256.67 258.82,252.3 259.82,247.89 260.83,243.43 261.83,239.04 262.84,235.09 263.84,231.14 264.84,227.18 265.85,223.86 266.85,221.59 268.36,218.18 270.36,213.63 272.87,210.15 276.39,206.94 279.9,205.44 283.91,205.35 287.93,207.28 291.44,209.63 295.46,213.21 300.47,218.39 307,225 320.05,234.01 341.63,241.34 361.7,244.01 382.28,245.01 402.85,244.01 422.93,246.34 443,249.68" fill="none" stroke="#111" stroke-width="1.0" />
<polyline points="257.82,257.37 258.82,253 259.82,248.59 260.83,244.13 261.83,239.74 262.84,235.79 263.84,231.84 264.84,227.88 265.85,224.56 266.85,222.29 268.36,218.88 270.36,214.33 272.87,210.85 276.39,207.64 279.9,206.14 283.91,206.05 287.93,207.98 291.44,210.33 295.46,213.91 300.47,219.09 307,225.7 320.05,234.71 341.63,242.04 361.7,244.71 382.28,245.71 402.85,244.71 422.93,247.04 443,250.38" fill="none" stroke="#111" stroke-width="1.0" />
<line x1="341.63" y1="252.03" x2="341.63" y2="255.36" stroke="#000" stroke-width="1.7"/>
<line x1="361.7" y1="252.03" x2="361.7" y2="257.36" stroke="#000" stroke-width="1.7"/>
<line x1="382.28" y1="254.36" x2="382.28" y2="262.36" stroke="#000" stroke-width="1.7"/>
<line x1="402.85" y1="251.69" x2="402.85" y2="271.7" stroke="#000" stroke-width="1.7"/>
<line x1="422.93" y1="253.03" x2="422.93" y2="277.03" stroke="#000" stroke-width="1.7"/>
<line x1="443" y1="243.36" x2="443" y2="280.03" stroke="#000" stroke-width="1.7"/>
<path d="M257.82,258.15h0M258.82,253.96h0M259.82,249.74h0M260.83,245.47h0M261.83,241.27h0M262.84,237.48h0M263.84,233.7h0M264.84,229.91h0M265.85,226.73h0M266.85,224.56h0M268.36,221.29h0M270.36,216.94h0M272.87,213.61h0M276.39,210.52h0M279.9,209.09h0M283.91,209.14h0M287.93,211.4h0M291.44,214.13h0M295.46,218.29h0M300.47,224.32h0M307,232.02h0M320.05,244.36h0M341.63,253.69h0M361.7,254.69h0M382.28,258.36h0M402.85,261.7h0M422.93,265.03h0M443,261.7h0" stroke="#000" stroke-width="7" stroke-linecap="round"/>
<path d="M254.22,257.02a3.6,3.6 0 1,0 7.2,0a3.6,3.6 0 1,0 -7.2,0M255.22,252.65a3.6,3.6 0 1,0 7.2,0a3.6,3.6 0 1,0 -7.2,0M256.22,248.24a3.6,3.6 0 1,0 7.2,0a3.6,3.6 0 1,0 -7.2,0M257.23,243.78a3.6,3.6 0 1,0 7.2,0a3.6,3.6 0 1,0 -7.2,0M258.23,239.39a3.6,3.6 0 1,0 7.2,0a3.6,3.6 0 1,0 -7.2,0M259.24,235.44a3.6,3.6 0 1,0 7.2,0a3.6,3.6 0 1,0 -7.2,0M260.24,231.49a3.6,3.6 0 1,0 7.2,0a3.6,3.6 0 1,0 -7.2,0M261.24,227.53a3.6,3.6 0 1,0 7.2,0a3.6,3.6 0 1,0 -7.2,0M262.25,224.21a3.6,3.6 0 1,0 7.2,0a3.6,3.6 0 1,0 -7.2,0M263.25,221.94a3.6,3.6 0 1,0 7.2,0a3.6,3.6 0 1,0 -7.2,0M264.76,218.53a3.6,3.6 0 1,0 7.2,0a3.6,3.6 0 1,0 -7.2,0M266.76,213.98a3.6,3.6 0 1,0 7.2,0a3.6,3.6 0 1,0 -7.2,0M269.27,210.5a3.6,3.6 0 1,0 7.2,0a3.6,3.6 0 1,0 -7.2,0M272.79,207.29a3.6,3.6 0 1,0 7.2,0a3.6,3.6 0 1,0 -7.2,0M276.3,205.79a3.6,3.6 0 1,0 7.2,0a3.6,3.6 0 1,0 -7.2,0M280.31,205.7a3.6,3.6 0 1,0 7.2,0a3.6,3.6 0 1,0 -7.2,0M284.33,207.63a3.6,3.6 0 1,0 7.2,0a3.6,3.6 0 1,0 -7.2,0M287.84,209.98a3.6,3.6 0 1,0 7.2,0a3.6,3.6 0 1,0 -7.2,0M291.86,213.56a3.6,3.6 0 1,0 7.2,0a3.6,3.6 0 1,0 -7.2,0M296.87,218.74a3.6,3.6 0 1,0 7.2,0a3.6,3.6 0 1,0 -7.2,0M303.4,225.35a3.6,3.6 0 1,0 7.2,0a3.6,3.6 0 1,0 -7.2,0M316.45,234.36a3.6,3.6 0 1,0 7.2,0a3.6,3.6 0 1,0 -7.2,0M338.03,241.69a3.6,3.6 0 1,0 7.2,0a3.6,3.6 0 1,0 -7.2,0M358.1,244.36a3.6,3.6 0 1,0 7.2,0a3.6,3.6 0 1,0 -7.2,0M378.68,245.36a3.6,3.6 0 1,0 7.2,0a3.6,3.6 0 1,0 -7.2,0M399.25,244.36a3.6,3.6 0 1,0 7.2,0a3.6,3.6 0 1,0 -7.2,0M419.33,246.69a3.6,3.6 0 1,0 7.2,0a3.6,3.6 0 1,0 -7.2,0M439.4,250.03a3.6,3.6 0 1,0 7.2,0a3.6,3.6 0 1,0 -7.2,0" fill="none" stroke="#000" stroke-width="1.2"/>
<polyline points="257.82,263.42 258.82,259.54 259.82,255.62 260.83,251.67 261.83,247.77 262.84,244.25 263.84,240.73 264.84,237.21 265.85,234.23 266.85,232.16 268.36,229.05 270.36,224.89 272.87,221.6 276.39,218.41 279.9,216.71 283.91,216.75 287.93,218.85 291.44,221.39 295.46,225.26 300.47,230.86 307,238.02 320.05,247.36 341.63,255.36 361.7,257.03 382.28,260.03 402.85,265.7 422.93,265.03 443,265.03" fill="none" stroke="#ff00ff" stroke-width="1.3" />
<polyline points="257.82,263.42 258.82,259.54 259.82,255.62 260.83,251.67 261.83,247.77 262.84,244.25 263.84,240.73 264.84,237.21 265.85,234.23 266.85,232.16 268.36,229.05 270.36,224.89 272.87,221.6 276.39,218.41 279.9,216.71 283.91,216.75 287.93,218.85 291.44,221.39 295.46,225.26 300.47,230.86 307,238.02 320.05,247.36 341.63,255.36 361.7,257.03 382.28,260.03 402.85,265.7 422.93,265.03 443,265.03" fill="none" stroke="#0000ff" stroke-width="1.9" />
<polyline points="257.82,263.42 258.82,259.54 259.82,255.62 260.83,251.67 261.83,247.77 262.84,244.25 263.84,240.73 264.84,237.21 265.85,234.23 266.85,232.16 268.36,229.05 270.36,224.89 272.87,221.6 276.39,218.41 279.9,216.71 283.91,216.75 287.93,218.85 291.44,221.39 295.46,225.26 300.47,230.86 307,238.02 320.05,247.36 341.63,255.36 361.7,257.03 382.28,260.03 402.85,265.7 422.93,265.03 443,265.03" fill="none" stroke="#ff0000" stroke-width="1.1" />
<path d="M252.82,258.42h10.0v10.0h-10.0zM253.82,254.54h10.0v10.0h-10.0zM254.82,250.62h10.0v10.0h-10.0zM255.83,246.67h10.0v10.0h-10.0zM256.83,242.77h10.0v10.0h-10.0zM257.84,239.25h10.0v10.0h-10.0zM258.84,235.73h10.0v10.0h-10.0zM259.84,232.21h10.0v10.0h-10.0zM260.85,229.23h10.0v10.0h-10.0zM261.85,227.16h10.0v10.0h-10.0zM263.36,224.05h10.0v10.0h-10.0zM265.36,219.89h10.0v10.0h-10.0zM267.87,216.6h10.0v10.0h-10.0zM271.39,213.41h10.0v10.0h-10.0zM274.9,211.71h10.0v10.0h-10.0zM278.91,211.75h10.0v10.0h-10.0zM282.93,213.85h10.0v10.0h-10.0zM286.44,216.39h10.0v10.0h-10.0zM290.46,220.26h10.0v10.0h-10.0zM295.47,225.86h10.0v10.0h-10.0zM302,233.02h10.0v10.0h-10.0zM315.05,242.36h10.0v10.0h-10.0zM336.63,250.36h10.0v10.0h-10.0zM356.7,252.03h10.0v10.0h-10.0zM377.28,255.03h10.0v10.0h-10.0zM397.85,260.7h10.0v10.0h-10.0zM417.93,260.03h10.0v10.0h-10.0zM438,260.03h10.0v10.0h-10.0z" fill="none" stroke="#0000ff" stroke-width="1.45"/>
<path d="M257.82,259.02l1.08,2.9 3.1,0.14 -2.43,1.93 0.83,2.99 -2.58,-1.72 -2.59,1.72 0.83,-2.99 -2.43,-1.93 3.1,-0.14zM258.82,255.14l1.09,2.9 3.1,0.14 -2.43,1.93 0.83,2.99 -2.59,-1.72 -2.59,1.72 0.83,-2.99 -2.42,-1.93 3.09,-0.14zM259.82,251.22l1.09,2.91 3.1,0.13 -2.43,1.93 0.83,2.99 -2.59,-1.71 -2.58,1.71 0.83,-2.99 -2.43,-1.93 3.1,-0.13zM260.83,247.27l1.08,2.9 3.1,0.14 -2.42,1.93 0.82,2.99 -2.58,-1.71 -2.59,1.71 0.83,-2.99 -2.43,-1.93 3.1,-0.14zM261.83,243.37l1.09,2.91 3.1,0.13 -2.43,1.93 0.83,2.99 -2.59,-1.71 -2.58,1.71 0.82,-2.99 -2.42,-1.93 3.1,-0.13zM262.84,239.85l1.08,2.91 3.1,0.13 -2.43,1.93 0.83,2.99 -2.58,-1.71 -2.59,1.71 0.83,-2.99 -2.43,-1.93 3.1,-0.13zM263.84,236.33l1.09,2.91 3.09,0.13 -2.42,1.93 0.83,2.99 -2.59,-1.71 -2.59,1.71 0.83,-2.99 -2.43,-1.93 3.1,-0.13zM264.84,232.81l1.09,2.91 3.1,0.13 -2.43,1.93 0.83,2.99 -2.59,-1.71 -2.58,1.71 0.83,-2.99 -2.43,-1.93 3.1,-0.13zM265.85,229.83l1.08,2.91 3.1,0.13 -2.43,1.94 0.83,2.98 -2.58,-1.71 -2.59,1.71 0.83,-2.98 -2.43,-1.94 3.1,-0.13zM266.85,227.76l1.09,2.9 3.09,0.14 -2.42,1.93 0.83,2.99 -2.59,-1.71 -2.59,1.71 0.83,-2.99 -2.42,-1.93 3.09,-0.14zM268.36,224.65l1.08,2.9 3.1,0.14 -2.43,1.93 0.83,2.99 -2.58,-1.72 -2.59,1.72 0.83,-2.99 -2.43,-1.93 3.1,-0.14zM270.36,220.49l1.09,2.91 3.1,0.13 -2.43,1.94 0.83,2.98 -2.59,-1.71 -2.58,1.71 0.83,-2.98 -2.43,-1.94 3.1,-0.13zM272.87,217.2l1.09,2.91 3.1,0.13 -2.43,1.93 0.83,2.99 -2.59,-1.71 -2.58,1.71 0.83,-2.99 -2.43,-1.93 3.1,-0.13zM276.39,214.01l1.08,2.91 3.1,0.13 -2.43,1.93 0.83,2.99 -2.58,-1.71 -2.59,1.71 0.83,-2.99 -2.43,-1.93 3.1,-0.13zM279.9,212.31l1.08,2.9 3.1,0.14 -2.42,1.93 0.82,2.98 -2.58,-1.71 -2.59,1.71 0.83,-2.98 -2.43,-1.93 3.1,-0.14zM283.91,212.35l1.09,2.91 3.1,0.13 -2.43,1.93 0.83,2.99 -2.59,-1.71 -2.58,1.71 0.83,-2.99 -2.43,-1.93 3.1,-0.13zM287.93,214.45l1.08,2.9 3.1,0.14 -2.42,1.93 0.82,2.99 -2.58,-1.71 -2.59,1.71 0.83,-2.99 -2.43,-1.93 3.1,-0.14zM291.44,216.99l1.09,2.9 3.1,0.14 -2.43,1.93 0.83,2.99 -2.59,-1.71 -2.58,1.71 0.82,-2.99 -2.42,-1.93 3.1,-0.14zM295.46,220.86l1.08,2.91 3.1,0.13 -2.43,1.93 0.83,2.99 -2.58,-1.71 -2.59,1.71 0.83,-2.99 -2.43,-1.93 3.1,-0.13zM300.47,226.46l1.09,2.91 3.1,0.13 -2.43,1.93 0.83,2.99 -2.59,-1.71 -2.58,1.71 0.83,-2.99 -2.43,-1.93 3.1,-0.13zM307,233.62l1.09,2.91 3.09,0.13 -2.42,1.94 0.83,2.98 -2.59,-1.71 -2.59,1.71 0.83,-2.98 -2.43,-1.94 3.1,-0.13zM320.05,242.96l1.08,2.9 3.1,0.14 -2.43,1.93 0.83,2.99 -2.58,-1.71 -2.59,1.71 0.83,-2.99 -2.43,-1.93 3.1,-0.14zM341.63,250.96l1.08,2.91 3.1,0.13 -2.43,1.93 0.83,2.99 -2.58,-1.71 -2.59,1.71 0.83,-2.99 -2.43,-1.93 3.1,-0.13zM361.7,252.63l1.09,2.9 3.1,0.14 -2.43,1.93 0.83,2.99 -2.59,-1.71 -2.58,1.71 0.82,-2.99 -2.42,-1.93 3.1,-0.14zM382.28,255.63l1.08,2.9 3.1,0.14 -2.42,1.93 0.82,2.99 -2.58,-1.71 -2.59,1.71 0.83,-2.99 -2.43,-1.93 3.1,-0.14zM402.85,261.3l1.09,2.9 3.1,0.14 -2.43,1.93 0.83,2.99 -2.59,-1.72 -2.58,1.72 0.83,-2.99 -2.43,-1.93 3.1,-0.14zM422.93,260.63l1.09,2.9 3.09,0.14 -2.42,1.93 0.83,2.99 -2.59,-1.71 -2.59,1.71 0.83,-2.99 -2.43,-1.93 3.1,-0.14zM443,260.63l1.09,2.9 3.1,0.14 -2.43,1.93 0.83,2.99 -2.59,-1.71 -2.58,1.71 0.83,-2.99 -2.43,-1.93 3.1,-0.14z" fill="#ff0000"/>
<path d="M257.82,257.92l1.35,3.63 3.88,0.17 -3.04,2.41 1.04,3.74 -3.23,-2.14 -3.24,2.14 1.04,-3.74 -3.03,-2.41 3.87,-0.17zM258.82,254.04l1.36,3.63 3.87,0.17 -3.03,2.41 1.03,3.73 -3.23,-2.13 -3.23,2.13 1.03,-3.73 -3.03,-2.41 3.87,-0.17zM259.82,250.12l1.36,3.63 3.87,0.17 -3.03,2.42 1.04,3.73 -3.24,-2.14 -3.23,2.14 1.04,-3.73 -3.04,-2.42 3.88,-0.17zM260.83,246.17l1.36,3.63 3.87,0.17 -3.04,2.41 1.04,3.74 -3.23,-2.14 -3.23,2.14 1.03,-3.74 -3.03,-2.41 3.87,-0.17zM261.83,242.27l1.36,3.63 3.87,0.17 -3.03,2.41 1.03,3.74 -3.23,-2.14 -3.23,2.14 1.03,-3.74 -3.03,-2.41 3.87,-0.17zM262.84,238.75l1.35,3.63 3.88,0.17 -3.04,2.41 1.04,3.74 -3.23,-2.14 -3.24,2.14 1.04,-3.74 -3.04,-2.41 3.88,-0.17zM263.84,235.23l1.36,3.63 3.87,0.17 -3.03,2.42 1.03,3.73 -3.23,-2.14 -3.23,2.14 1.03,-3.73 -3.03,-2.42 3.87,-0.17zM264.84,231.71l1.36,3.63 3.87,0.17 -3.03,2.42 1.04,3.73 -3.24,-2.14 -3.23,2.14 1.04,-3.73 -3.04,-2.42 3.88,-0.17zM265.85,228.73l1.35,3.64 3.88,0.16 -3.04,2.42 1.04,3.73 -3.23,-2.14 -3.24,2.14 1.04,-3.73 -3.03,-2.42 3.87,-0.16zM266.85,226.66l1.36,3.63 3.87,0.17 -3.03,2.41 1.03,3.74 -3.23,-2.14 -3.23,2.14 1.03,-3.74 -3.03,-2.41 3.87,-0.17zM268.36,223.55l1.35,3.63 3.88,0.17 -3.04,2.41 1.04,3.74 -3.23,-2.14 -3.24,2.14 1.04,-3.74 -3.03,-2.41 3.87,-0.17zM270.36,219.39l1.36,3.64 3.87,0.16 -3.03,2.42 1.04,3.73 -3.24,-2.14 -3.23,2.14 1.04,-3.73 -3.04,-2.42 3.88,-0.16zM272.87,216.1l1.36,3.63 3.87,0.17 -3.03,2.41 1.04,3.74 -3.24,-2.14 -3.23,2.14 1.04,-3.74 -3.04,-2.41 3.87,-0.17zM276.39,212.91l1.35,3.63 3.88,0.17 -3.04,2.41 1.04,3.74 -3.23,-2.14 -3.24,2.14 1.04,-3.74 -3.04,-2.41 3.88,-0.17zM279.9,211.21l1.36,3.63 3.87,0.17 -3.03,2.41 1.03,3.73 -3.23,-2.13 -3.23,2.13 1.03,-3.73 -3.03,-2.41 3.87,-0.17zM283.91,211.25l1.36,3.63 3.87,0.17 -3.03,2.42 1.04,3.73 -3.24,-2.14 -3.23,2.14 1.04,-3.73 -3.04,-2.42 3.88,-0.17zM287.93,213.35l1.36,3.63 3.87,0.17 -3.03,2.41 1.03,3.74 -3.23,-2.14 -3.23,2.14 1.03,-3.74 -3.03,-2.41 3.87,-0.17zM291.44,215.89l1.36,3.63 3.87,0.17 -3.03,2.41 1.03,3.74 -3.23,-2.14 -3.23,2.14 1.03,-3.74 -3.03,-2.41 3.87,-0.17zM295.46,219.76l1.35,3.63 3.88,0.17 -3.04,2.42 1.04,3.73 -3.23,-2.14 -3.24,2.14 1.04,-3.73 -3.03,-2.42 3.87,-0.17zM300.47,225.36l1.36,3.63 3.88,0.17 -3.04,2.42 1.04,3.73 -3.24,-2.14 -3.23,2.14 1.04,-3.73 -3.04,-2.42 3.88,-0.17zM307,232.52l1.36,3.64 3.87,0.16 -3.03,2.42 1.03,3.73 -3.23,-2.14 -3.23,2.14 1.03,-3.73 -3.03,-2.42 3.87,-0.16zM320.05,241.86l1.36,3.63 3.87,0.17 -3.04,2.41 1.04,3.74 -3.23,-2.14 -3.24,2.14 1.04,-3.74 -3.03,-2.41 3.87,-0.17zM341.63,249.86l1.36,3.63 3.87,0.17 -3.04,2.41 1.04,3.74 -3.23,-2.14 -3.24,2.14 1.04,-3.74 -3.03,-2.41 3.87,-0.17zM361.7,251.53l1.36,3.63 3.87,0.17 -3.03,2.41 1.03,3.74 -3.23,-2.14 -3.23,2.14 1.03,-3.74 -3.03,-2.41 3.87,-0.17zM382.28,254.53l1.36,3.63 3.87,0.17 -3.03,2.41 1.03,3.74 -3.23,-2.14 -3.23,2.14 1.03,-3.74 -3.03,-2.41 3.87,-0.17zM402.85,260.2l1.36,3.63 3.88,0.17 -3.04,2.41 1.04,3.74 -3.24,-2.14 -3.23,2.14 1.04,-3.74 -3.04,-2.41 3.88,-0.17zM422.93,259.53l1.36,3.63 3.87,0.17 -3.03,2.41 1.03,3.74 -3.23,-2.14 -3.23,2.14 1.03,-3.74 -3.03,-2.41 3.87,-0.17zM443,259.53l1.36,3.63 3.87,0.17 -3.03,2.41 1.04,3.74 -3.24,-2.14 -3.23,2.14 1.04,-3.74 -3.04,-2.41 3.88,-0.17z" fill="none" stroke="#ff00ff" stroke-width="1.5" stroke-linejoin="round"/>
</g>
<g clip-path="url(#c22)">
<polyline points="473.56,256.62 474.55,252.4 475.54,248.14 476.53,243.84 477.52,239.59 478.52,235.77 479.51,231.96 480.5,228.14 481.49,224.93 482.48,222.73 483.97,219.44 485.95,215.05 488.43,211.69 491.9,208.58 495.37,207.13 499.33,207.2 503.3,209.51 506.76,212.32 510.73,216.61 515.68,222.8 522.13,230.72 535.01,240.72 556.32,248.06 576.15,251.73 596.46,251.06 616.78,249.06 636.61,259.4 656.43,270.4" fill="none" stroke="#222" stroke-width="1.0" />
<polyline points="473.56,259.22 474.55,255 475.54,250.74 476.53,246.44 477.52,242.19 478.52,238.37 479.51,234.56 480.5,230.74 481.49,227.53 482.48,225.33 483.97,222.04 485.95,217.65 488.43,214.29 491.9,211.18 495.37,209.73 499.33,209.8 503.3,212.11 506.76,214.92 510.73,219.21 515.68,225.4 522.13,233.32 535.01,243.32 556.32,250.66 576.15,254.33 596.46,253.66 616.78,251.66 636.61,262 656.43,273" fill="none" stroke="#222" stroke-width="1.0" />
<polyline points="473.56,256.1 474.55,251.64 475.54,247.14 476.53,242.59 477.52,238.1 478.52,234.07 479.51,230.03 480.5,226 481.49,222.6 482.48,220.28 483.97,216.8 485.95,212.16 488.43,208.6 491.9,205.32 495.37,203.79 499.33,203.72 503.3,205.79 506.76,208.29 510.73,212.1 515.68,217.62 522.13,224.67 535.01,232.34 556.32,238.01 576.15,241.01 596.46,238.67 616.78,233.34 636.61,245.68 656.43,245.01" fill="none" stroke="#111" stroke-width="1.0" />
<polyline points="473.56,256.8 474.55,252.34 475.54,247.84 476.53,243.29 477.52,238.8 478.52,234.77 479.51,230.73 480.5,226.7 481.49,223.3 482.48,220.98 483.97,217.5 485.95,212.86 488.43,209.3 491.9,206.02 495.37,204.49 499.33,204.42 503.3,206.49 506.76,208.99 510.73,212.8 515.68,218.32 522.13,225.37 535.01,233.04 556.32,238.71 576.15,241.71 596.46,239.37 616.78,234.04 636.61,246.38 656.43,245.71" fill="none" stroke="#111" stroke-width="1.0" />
<line x1="556.32" y1="247.36" x2="556.32" y2="251.36" stroke="#000" stroke-width="1.7"/>
<line x1="576.15" y1="250.36" x2="576.15" y2="255.69" stroke="#000" stroke-width="1.7"/>
<line x1="596.46" y1="247.36" x2="596.46" y2="257.36" stroke="#000" stroke-width="1.7"/>
<line x1="616.78" y1="243.69" x2="616.78" y2="257.03" stroke="#000" stroke-width="1.7"/>
<line x1="636.61" y1="249.03" x2="636.61" y2="272.36" stroke="#000" stroke-width="1.7"/>
<line x1="656.43" y1="248.36" x2="656.43" y2="295.04" stroke="#000" stroke-width="1.7"/>
<path d="M473.56,257.92h0M474.55,253.7h0M475.54,249.44h0M476.53,245.14h0M477.52,240.89h0M478.52,237.07h0M479.51,233.26h0M480.5,229.44h0M481.49,226.23h0M482.48,224.03h0M483.97,220.74h0M485.95,216.35h0M488.43,212.99h0M491.9,209.88h0M495.37,208.43h0M499.33,208.5h0M503.3,210.81h0M506.76,213.62h0M510.73,217.91h0M515.68,224.1h0M522.13,232.02h0M535.01,242.02h0M556.32,249.36h0M576.15,253.03h0M596.46,252.36h0M616.78,250.36h0M636.61,260.7h0M656.43,271.7h0" stroke="#000" stroke-width="7" stroke-linecap="round"/>
<path d="M469.96,256.45a3.6,3.6 0 1,0 7.2,0a3.6,3.6 0 1,0 -7.2,0M470.95,251.99a3.6,3.6 0 1,0 7.2,0a3.6,3.6 0 1,0 -7.2,0M471.94,247.49a3.6,3.6 0 1,0 7.2,0a3.6,3.6 0 1,0 -7.2,0M472.93,242.94a3.6,3.6 0 1,0 7.2,0a3.6,3.6 0 1,0 -7.2,0M473.92,238.45a3.6,3.6 0 1,0 7.2,0a3.6,3.6 0 1,0 -7.2,0M474.92,234.42a3.6,3.6 0 1,0 7.2,0a3.6,3.6 0 1,0 -7.2,0M475.91,230.38a3.6,3.6 0 1,0 7.2,0a3.6,3.6 0 1,0 -7.2,0M476.9,226.35a3.6,3.6 0 1,0 7.2,0a3.6,3.6 0 1,0 -7.2,0M477.89,222.95a3.6,3.6 0 1,0 7.2,0a3.6,3.6 0 1,0 -7.2,0M478.88,220.63a3.6,3.6 0 1,0 7.2,0a3.6,3.6 0 1,0 -7.2,0M480.37,217.15a3.6,3.6 0 1,0 7.2,0a3.6,3.6 0 1,0 -7.2,0M482.35,212.51a3.6,3.6 0 1,0 7.2,0a3.6,3.6 0 1,0 -7.2,0M484.83,208.95a3.6,3.6 0 1,0 7.2,0a3.6,3.6 0 1,0 -7.2,0M488.3,205.67a3.6,3.6 0 1,0 7.2,0a3.6,3.6 0 1,0 -7.2,0M491.77,204.14a3.6,3.6 0 1,0 7.2,0a3.6,3.6 0 1,0 -7.2,0M495.73,204.07a3.6,3.6 0 1,0 7.2,0a3.6,3.6 0 1,0 -7.2,0M499.7,206.14a3.6,3.6 0 1,0 7.2,0a3.6,3.6 0 1,0 -7.2,0M503.16,208.64a3.6,3.6 0 1,0 7.2,0a3.6,3.6 0 1,0 -7.2,0M507.13,212.45a3.6,3.6 0 1,0 7.2,0a3.6,3.6 0 1,0 -7.2,0M512.08,217.97a3.6,3.6 0 1,0 7.2,0a3.6,3.6 0 1,0 -7.2,0M518.53,225.02a3.6,3.6 0 1,0 7.2,0a3.6,3.6 0 1,0 -7.2,0M531.41,232.69a3.6,3.6 0 1,0 7.2,0a3.6,3.6 0 1,0 -7.2,0M552.72,238.36a3.6,3.6 0 1,0 7.2,0a3.6,3.6 0 1,0 -7.2,0M572.55,241.36a3.6,3.6 0 1,0 7.2,0a3.6,3.6 0 1,0 -7.2,0M592.86,239.02a3.6,3.6 0 1,0 7.2,0a3.6,3.6 0 1,0 -7.2,0M613.18,233.69a3.6,3.6 0 1,0 7.2,0a3.6,3.6 0 1,0 -7.2,0M633.01,246.03a3.6,3.6 0 1,0 7.2,0a3.6,3.6 0 1,0 -7.2,0M652.83,245.36a3.6,3.6 0 1,0 7.2,0a3.6,3.6 0 1,0 -7.2,0" fill="none" stroke="#000" stroke-width="1.2"/>
<polyline points="473.56,263.52 474.55,259.65 475.54,255.76 476.53,251.83 477.52,247.95 478.52,244.45 479.51,240.94 480.5,237.44 481.49,234.48 482.48,232.41 483.97,229.31 485.95,225.18 488.43,221.91 491.9,218.73 495.37,217.04 499.33,217.11 503.3,219.27 506.76,221.88 510.73,225.88 515.68,231.65 522.13,239.02 535.01,247.36 556.32,255.36 576.15,258.69 596.46,254.69 616.78,257.69 636.61,262.36 656.43,275.37" fill="none" stroke="#ff00ff" stroke-width="1.3" />
<polyline points="473.56,263.52 474.55,259.65 475.54,255.76 476.53,251.83 477.52,247.95 478.52,244.45 479.51,240.94 480.5,237.44 481.49,234.48 482.48,232.41 483.97,229.31 485.95,225.18 488.43,221.91 491.9,218.73 495.37,217.04 499.33,217.11 503.3,219.27 506.76,221.88 510.73,225.88 515.68,231.65 522.13,239.02 535.01,247.36 556.32,255.36 576.15,258.69 596.46,254.69 616.78,257.69 636.61,262.36 656.43,275.37" fill="none" stroke="#0000ff" stroke-width="1.9" />
<polyline points="473.56,263.52 474.55,259.65 475.54,255.76 476.53,251.83 477.52,247.95 478.52,244.45 479.51,240.94 480.5,237.44 481.49,234.48 482.48,232.41 483.97,229.31 485.95,225.18 488.43,221.91 491.9,218.73 495.37,217.04 499.33,217.11 503.3,219.27 506.76,221.88 510.73,225.88 515.68,231.65 522.13,239.02 535.01,247.36 556.32,255.36 576.15,258.69 596.46,254.69 616.78,257.69 636.61,262.36 656.43,275.37" fill="none" stroke="#ff0000" stroke-width="1.1" />
<path d="M468.56,258.52h10.0v10.0h-10.0zM469.55,254.65h10.0v10.0h-10.0zM470.54,250.76h10.0v10.0h-10.0zM471.53,246.83h10.0v10.0h-10.0zM472.52,242.95h10.0v10.0h-10.0zM473.52,239.45h10.0v10.0h-10.0zM474.51,235.94h10.0v10.0h-10.0zM475.5,232.44h10.0v10.0h-10.0zM476.49,229.48h10.0v10.0h-10.0zM477.48,227.41h10.0v10.0h-10.0zM478.97,224.31h10.0v10.0h-10.0zM480.95,220.18h10.0v10.0h-10.0zM483.43,216.91h10.0v10.0h-10.0zM486.9,213.73h10.0v10.0h-10.0zM490.37,212.04h10.0v10.0h-10.0zM494.33,212.11h10.0v10.0h-10.0zM498.3,214.27h10.0v10.0h-10.0zM501.76,216.88h10.0v10.0h-10.0zM505.73,220.88h10.0v10.0h-10.0zM510.68,226.65h10.0v10.0h-10.0zM517.13,234.02h10.0v10.0h-10.0zM530.01,242.36h10.0v10.0h-10.0zM551.32,250.36h10.0v10.0h-10.0zM571.15,253.69h10.0v10.0h-10.0zM591.46,249.69h10.0v10.0h-10.0zM611.78,252.69h10.0v10.0h-10.0zM631.61,257.36h10.0v10.0h-10.0zM651.43,270.37h10.0v10.0h-10.0z" fill="none" stroke="#0000ff" stroke-width="1.45"/>
<path d="M473.56,259.12l1.09,2.9 3.09,0.14 -2.42,1.93 0.83,2.99 -2.59,-1.72 -2.59,1.72 0.83,-2.99 -2.42,-1.93 3.09,-0.14zM474.55,255.25l1.09,2.91 3.1,0.13 -2.43,1.94 0.83,2.98 -2.59,-1.71 -2.58,1.71 0.82,-2.98 -2.42,-1.94 3.1,-0.13zM475.54,251.36l1.09,2.9 3.1,0.14 -2.43,1.93 0.83,2.99 -2.59,-1.71 -2.58,1.71 0.83,-2.99 -2.43,-1.93 3.1,-0.14zM476.53,247.43l1.09,2.9 3.1,0.14 -2.43,1.93 0.83,2.99 -2.59,-1.72 -2.58,1.72 0.83,-2.99 -2.43,-1.93 3.1,-0.14zM477.52,243.55l1.09,2.9 3.1,0.14 -2.43,1.93 0.83,2.99 -2.59,-1.71 -2.58,1.71 0.83,-2.99 -2.43,-1.93 3.1,-0.14zM478.52,240.05l1.08,2.9 3.1,0.14 -2.43,1.93 0.83,2.98 -2.58,-1.71 -2.59,1.71 0.83,-2.98 -2.43,-1.93 3.1,-0.14zM479.51,236.54l1.08,2.91 3.1,0.13 -2.43,1.93 0.83,2.99 -2.58,-1.71 -2.59,1.71 0.83,-2.99 -2.43,-1.93 3.1,-0.13zM480.5,233.04l1.08,2.91 3.1,0.13 -2.42,1.93 0.82,2.99 -2.58,-1.71 -2.59,1.71 0.83,-2.99 -2.43,-1.93 3.1,-0.13zM481.49,230.08l1.09,2.9 3.09,0.14 -2.42,1.93 0.83,2.99 -2.59,-1.71 -2.59,1.71 0.83,-2.99 -2.43,-1.93 3.1,-0.14zM482.48,228.01l1.09,2.91 3.1,0.13 -2.43,1.93 0.83,2.99 -2.59,-1.71 -2.59,1.71 0.83,-2.99 -2.42,-1.93 3.09,-0.13zM483.97,224.91l1.08,2.91 3.1,0.13 -2.43,1.94 0.83,2.98 -2.58,-1.71 -2.59,1.71 0.83,-2.98 -2.43,-1.94 3.1,-0.13zM485.95,220.78l1.09,2.91 3.09,0.13 -2.42,1.94 0.83,2.98 -2.59,-1.71 -2.59,1.71 0.83,-2.98 -2.42,-1.94 3.09,-0.13zM488.43,217.51l1.08,2.9 3.1,0.14 -2.42,1.93 0.82,2.99 -2.58,-1.72 -2.59,1.72 0.83,-2.99 -2.43,-1.93 3.1,-0.14zM491.9,214.33l1.08,2.91 3.1,0.13 -2.43,1.93 0.83,2.99 -2.58,-1.71 -2.59,1.71 0.83,-2.99 -2.43,-1.93 3.1,-0.13zM495.37,212.64l1.08,2.9 3.1,0.14 -2.43,1.93 0.83,2.98 -2.58,-1.71 -2.59,1.71 0.83,-2.98 -2.43,-1.93 3.1,-0.14zM499.33,212.71l1.09,2.9 3.1,0.14 -2.43,1.93 0.83,2.99 -2.59,-1.71 -2.59,1.71 0.83,-2.99 -2.42,-1.93 3.09,-0.14zM503.3,214.87l1.08,2.9 3.1,0.14 -2.43,1.93 0.83,2.99 -2.58,-1.71 -2.59,1.71 0.83,-2.99 -2.43,-1.93 3.1,-0.14zM506.76,217.48l1.09,2.91 3.1,0.14 -2.43,1.93 0.83,2.98 -2.59,-1.71 -2.58,1.71 0.83,-2.98 -2.43,-1.93 3.1,-0.14zM510.73,221.48l1.09,2.9 3.09,0.14 -2.42,1.93 0.83,2.98 -2.59,-1.71 -2.59,1.71 0.83,-2.98 -2.43,-1.93 3.1,-0.14zM515.68,227.25l1.09,2.9 3.1,0.14 -2.43,1.93 0.83,2.99 -2.59,-1.72 -2.58,1.72 0.83,-2.99 -2.43,-1.93 3.1,-0.14zM522.13,234.62l1.08,2.91 3.1,0.13 -2.43,1.94 0.83,2.98 -2.58,-1.71 -2.59,1.71 0.83,-2.98 -2.43,-1.94 3.1,-0.13zM535.01,242.96l1.09,2.9 3.1,0.14 -2.43,1.93 0.83,2.99 -2.59,-1.71 -2.58,1.71 0.82,-2.99 -2.42,-1.93 3.1,-0.14zM556.32,250.96l1.09,2.91 3.1,0.13 -2.43,1.93 0.83,2.99 -2.59,-1.71 -2.58,1.71 0.82,-2.99 -2.42,-1.93 3.1,-0.13zM576.15,254.29l1.08,2.91 3.1,0.14 -2.43,1.93 0.83,2.98 -2.58,-1.71 -2.59,1.71 0.83,-2.98 -2.43,-1.93 3.1,-0.14zM596.46,250.29l1.09,2.91 3.1,0.13 -2.43,1.94 0.83,2.98 -2.59,-1.71 -2.58,1.71 0.83,-2.98 -2.43,-1.94 3.1,-0.13zM616.78,253.29l1.09,2.91 3.1,0.14 -2.43,1.93 0.83,2.98 -2.59,-1.71 -2.58,1.71 0.83,-2.98 -2.43,-1.93 3.1,-0.14zM636.61,257.96l1.08,2.91 3.1,0.13 -2.43,1.93 0.83,2.99 -2.58,-1.71 -2.59,1.71 0.83,-2.99 -2.43,-1.93 3.1,-0.13zM656.43,270.97l1.09,2.9 3.09,0.14 -2.42,1.93 0.83,2.98 -2.59,-1.71 -2.59,1.71 0.83,-2.98 -2.42,-1.93 3.09,-0.14z" fill="#ff0000"/>
<path d="M473.56,258.02l1.36,3.63 3.87,0.17 -3.03,2.41 1.03,3.74 -3.23,-2.14 -3.23,2.14 1.03,-3.74 -3.03,-2.41 3.87,-0.17zM474.55,254.15l1.36,3.64 3.87,0.16 -3.03,2.42 1.03,3.73 -3.23,-2.14 -3.23,2.14 1.03,-3.73 -3.03,-2.42 3.87,-0.16zM475.54,250.26l1.36,3.63 3.87,0.17 -3.03,2.41 1.04,3.74 -3.24,-2.14 -3.23,2.14 1.04,-3.74 -3.04,-2.41 3.87,-0.17zM476.53,246.33l1.36,3.63 3.87,0.17 -3.03,2.41 1.04,3.74 -3.24,-2.14 -3.23,2.14 1.04,-3.74 -3.04,-2.41 3.88,-0.17zM477.52,242.45l1.36,3.63 3.88,0.17 -3.04,2.41 1.04,3.74 -3.24,-2.14 -3.23,2.14 1.04,-3.74 -3.04,-2.41 3.88,-0.17zM478.52,238.95l1.35,3.63 3.88,0.17 -3.04,2.41 1.04,3.73 -3.23,-2.13 -3.24,2.13 1.04,-3.73 -3.03,-2.41 3.87,-0.17zM479.51,235.44l1.35,3.63 3.88,0.17 -3.04,2.42 1.04,3.73 -3.23,-2.14 -3.24,2.14 1.04,-3.73 -3.03,-2.42 3.87,-0.17zM480.5,231.94l1.36,3.63 3.87,0.17 -3.03,2.41 1.03,3.74 -3.23,-2.14 -3.23,2.14 1.03,-3.74 -3.03,-2.41 3.87,-0.17zM481.49,228.98l1.36,3.63 3.87,0.17 -3.03,2.41 1.03,3.74 -3.23,-2.14 -3.23,2.14 1.03,-3.74 -3.03,-2.41 3.87,-0.17zM482.48,226.91l1.36,3.63 3.87,0.17 -3.03,2.42 1.03,3.73 -3.23,-2.14 -3.23,2.14 1.03,-3.73 -3.03,-2.42 3.87,-0.17zM483.97,223.81l1.36,3.64 3.87,0.17 -3.04,2.41 1.04,3.73 -3.23,-2.14 -3.24,2.14 1.04,-3.73 -3.03,-2.41 3.87,-0.17zM485.95,219.68l1.36,3.64 3.87,0.16 -3.03,2.42 1.03,3.73 -3.23,-2.14 -3.23,2.14 1.03,-3.73 -3.03,-2.42 3.87,-0.16zM488.43,216.41l1.36,3.63 3.87,0.17 -3.04,2.41 1.04,3.74 -3.23,-2.14 -3.24,2.14 1.04,-3.74 -3.03,-2.41 3.87,-0.17zM491.9,213.23l1.35,3.63 3.88,0.17 -3.04,2.42 1.04,3.73 -3.23,-2.14 -3.24,2.14 1.04,-3.73 -3.03,-2.42 3.87,-0.17zM495.37,211.54l1.35,3.63 3.88,0.17 -3.04,2.41 1.04,3.73 -3.23,-2.13 -3.24,2.13 1.04,-3.73 -3.03,-2.41 3.87,-0.17zM499.33,211.61l1.36,3.63 3.87,0.17 -3.03,2.41 1.03,3.74 -3.23,-2.14 -3.23,2.14 1.03,-3.74 -3.03,-2.41 3.87,-0.17zM503.3,213.77l1.35,3.63 3.88,0.17 -3.04,2.41 1.04,3.74 -3.23,-2.14 -3.24,2.14 1.04,-3.74 -3.04,-2.41 3.88,-0.17zM506.76,216.38l1.36,3.64 3.87,0.17 -3.03,2.41 1.04,3.73 -3.24,-2.14 -3.23,2.14 1.04,-3.73 -3.04,-2.41 3.88,-0.17zM510.73,220.38l1.36,3.63 3.87,0.17 -3.03,2.41 1.03,3.73 -3.23,-2.13 -3.23,2.13 1.03,-3.73 -3.03,-2.41 3.87,-0.17zM515.68,226.15l1.36,3.63 3.88,0.17 -3.04,2.41 1.04,3.74 -3.24,-2.14 -3.23,2.14 1.04,-3.74 -3.04,-2.41 3.88,-0.17zM522.13,233.52l1.35,3.64 3.88,0.16 -3.04,2.42 1.04,3.73 -3.23,-2.14 -3.24,2.14 1.04,-3.73 -3.03,-2.42 3.87,-0.16zM535.01,241.86l1.36,3.63 3.87,0.17 -3.03,2.41 1.04,3.74 -3.24,-2.14 -3.23,2.14 1.04,-3.74 -3.04,-2.41 3.87,-0.17zM556.32,249.86l1.36,3.63 3.87,0.17 -3.03,2.41 1.04,3.74 -3.24,-2.14 -3.23,2.14 1.04,-3.74 -3.04,-2.41 3.87,-0.17zM576.15,253.19l1.35,3.64 3.88,0.17 -3.04,2.41 1.04,3.73 -3.23,-2.14 -3.24,2.14 1.04,-3.73 -3.04,-2.41 3.88,-0.17zM596.46,249.19l1.36,3.64 3.88,0.16 -3.04,2.42 1.04,3.73 -3.24,-2.14 -3.23,2.14 1.04,-3.73 -3.04,-2.42 3.88,-0.16zM616.78,252.19l1.36,3.64 3.87,0.17 -3.03,2.41 1.04,3.73 -3.24,-2.14 -3.23,2.14 1.04,-3.73 -3.04,-2.41 3.88,-0.17zM636.61,256.86l1.35,3.63 3.88,0.17 -3.04,2.42 1.04,3.73 -3.23,-2.14 -3.24,2.14 1.04,-3.73 -3.03,-2.42 3.87,-0.17zM656.43,269.87l1.36,3.63 3.87,0.17 -3.03,2.41 1.03,3.73 -3.23,-2.13 -3.23,2.13 1.03,-3.73 -3.03,-2.41 3.87,-0.17z" fill="none" stroke="#ff00ff" stroke-width="1.5" stroke-linejoin="round"/>
</g>
<g clip-path="url(#c30)">
<polyline points="42.8,347.29 43.8,343.15 44.8,338.94 45.8,334.72 46.8,330.71 47.8,326.99 48.8,323.27 49.8,319.55 50.8,317.2 51.8,315.16 53.3,312.11 55.3,308.04 57.8,305.95 61.3,304.04 64.8,303.17 68.8,303.97 72.8,306.02 76.3,308.87 80.3,313.21 85.3,319.49 91.8,327.52 104.8,338.53 126.3,346.86 146.3,350.19 166.8,354.19 187.3,361.2 207.3,368.86 227.3,364.2" fill="none" stroke="#222" stroke-width="1.0" />
<polyline points="42.8,349.89 43.8,345.75 44.8,341.54 45.8,337.32 46.8,333.31 47.8,329.59 48.8,325.87 49.8,322.15 50.8,319.8 51.8,317.76 53.3,314.71 55.3,310.64 57.8,308.55 61.3,306.64 64.8,305.77 68.8,306.57 72.8,308.62 76.3,311.47 80.3,315.81 85.3,322.09 91.8,330.12 104.8,341.13 126.3,349.46 146.3,352.79 166.8,356.8 187.3,363.8 207.3,371.46 227.3,366.8" fill="none" stroke="#222" stroke-width="1.0" />
<polyline points="42.8,346.29 43.8,341.89 44.8,337.43 45.8,332.95 46.8,328.7 47.8,324.75 48.8,320.8 49.8,316.85 50.8,314.36 51.8,312.2 53.3,308.96 55.3,304.64 57.8,302.42 61.3,300.39 64.8,299.47 68.8,300.07 72.8,301.79 76.3,304.18 80.3,307.82 85.3,313.08 91.8,319.8 104.8,328.14 126.3,333.71 146.3,333.48 166.8,330.91 187.3,338.68 207.3,334.45 227.3,336.22" fill="none" stroke="#111" stroke-width="1.0" />
<polyline points="42.8,346.99 43.8,342.59 44.8,338.13 45.8,333.65 46.8,329.4 47.8,325.45 48.8,321.5 49.8,317.55 50.8,315.06 51.8,312.9 53.3,309.66 55.3,305.34 57.8,303.12 61.3,301.09 64.8,300.17 68.8,300.77 72.8,302.49 76.3,304.88 80.3,308.52 85.3,313.78 91.8,320.5 104.8,328.84 126.3,334.61 146.3,334.84 166.8,332.74 187.3,340.97 207.3,337.2 227.3,339.42" fill="none" stroke="#111" stroke-width="1.0" />
<line x1="126.3" y1="346.16" x2="126.3" y2="350.16" stroke="#000" stroke-width="1.7"/>
<line x1="146.3" y1="347.49" x2="146.3" y2="355.5" stroke="#000" stroke-width="1.7"/>
<line x1="166.8" y1="342.83" x2="166.8" y2="368.16" stroke="#000" stroke-width="1.7"/>
<line x1="187.3" y1="349.49" x2="187.3" y2="375.5" stroke="#000" stroke-width="1.7"/>
<line x1="207.3" y1="350.16" x2="207.3" y2="390.17" stroke="#000" stroke-width="1.7"/>
<line x1="227.3" y1="332.16" x2="227.3" y2="398.84" stroke="#000" stroke-width="1.7"/>
<path d="M42.8,348.59h0M43.8,344.45h0M44.8,340.24h0M45.8,336.02h0M46.8,332.01h0M47.8,328.29h0M48.8,324.57h0M49.8,320.85h0M50.8,318.5h0M51.8,316.46h0M53.3,313.41h0M55.3,309.34h0M57.8,307.25h0M61.3,305.34h0M64.8,304.47h0M68.8,305.27h0M72.8,307.32h0M76.3,310.17h0M80.3,314.51h0M85.3,320.79h0M91.8,328.82h0M104.8,339.83h0M126.3,348.16h0M146.3,351.49h0M166.8,355.5h0M187.3,362.5h0M207.3,370.16h0M227.3,365.5h0" stroke="#000" stroke-width="7" stroke-linecap="round"/>
<path d="M39.2,346.64a3.6,3.6 0 1,0 7.2,0a3.6,3.6 0 1,0 -7.2,0M40.2,342.24a3.6,3.6 0 1,0 7.2,0a3.6,3.6 0 1,0 -7.2,0M41.2,337.78a3.6,3.6 0 1,0 7.2,0a3.6,3.6 0 1,0 -7.2,0M42.2,333.3a3.6,3.6 0 1,0 7.2,0a3.6,3.6 0 1,0 -7.2,0M43.2,329.05a3.6,3.6 0 1,0 7.2,0a3.6,3.6 0 1,0 -7.2,0M44.2,325.1a3.6,3.6 0 1,0 7.2,0a3.6,3.6 0 1,0 -7.2,0M45.2,321.15a3.6,3.6 0 1,0 7.2,0a3.6,3.6 0 1,0 -7.2,0M46.2,317.2a3.6,3.6 0 1,0 7.2,0a3.6,3.6 0 1,0 -7.2,0M47.2,314.71a3.6,3.6 0 1,0 7.2,0a3.6,3.6 0 1,0 -7.2,0M48.2,312.55a3.6,3.6 0 1,0 7.2,0a3.6,3.6 0 1,0 -7.2,0M49.7,309.31a3.6,3.6 0 1,0 7.2,0a3.6,3.6 0 1,0 -7.2,0M51.7,304.99a3.6,3.6 0 1,0 7.2,0a3.6,3.6 0 1,0 -7.2,0M54.2,302.77a3.6,3.6 0 1,0 7.2,0a3.6,3.6 0 1,0 -7.2,0M57.7,300.74a3.6,3.6 0 1,0 7.2,0a3.6,3.6 0 1,0 -7.2,0M61.2,299.82a3.6,3.6 0 1,0 7.2,0a3.6,3.6 0 1,0 -7.2,0M65.2,300.42a3.6,3.6 0 1,0 7.2,0a3.6,3.6 0 1,0 -7.2,0M69.2,302.14a3.6,3.6 0 1,0 7.2,0a3.6,3.6 0 1,0 -7.2,0M72.7,304.53a3.6,3.6 0 1,0 7.2,0a3.6,3.6 0 1,0 -7.2,0M76.7,308.17a3.6,3.6 0 1,0 7.2,0a3.6,3.6 0 1,0 -7.2,0M81.7,313.43a3.6,3.6 0 1,0 7.2,0a3.6,3.6 0 1,0 -7.2,0M88.2,320.15a3.6,3.6 0 1,0 7.2,0a3.6,3.6 0 1,0 -7.2,0M101.2,328.49a3.6,3.6 0 1,0 7.2,0a3.6,3.6 0 1,0 -7.2,0M122.7,334.16a3.6,3.6 0 1,0 7.2,0a3.6,3.6 0 1,0 -7.2,0M142.7,334.16a3.6,3.6 0 1,0 7.2,0a3.6,3.6 0 1,0 -7.2,0M163.2,331.82a3.6,3.6 0 1,0 7.2,0a3.6,3.6 0 1,0 -7.2,0M183.7,339.83a3.6,3.6 0 1,0 7.2,0a3.6,3.6 0 1,0 -7.2,0M203.7,335.82a3.6,3.6 0 1,0 7.2,0a3.6,3.6 0 1,0 -7.2,0M223.7,337.82a3.6,3.6 0 1,0 7.2,0a3.6,3.6 0 1,0 -7.2,0" fill="none" stroke="#000" stroke-width="1.2"/>
<polyline points="42.8,355.23 43.8,351.49 44.8,347.7 45.8,343.89 46.8,340.27 47.8,336.89 48.8,333.52 49.8,330.15 50.8,327.97 51.8,326.07 53.3,323.22 55.3,319.42 57.8,317.29 61.3,315.19 64.8,314.1 68.8,314.87 72.8,316.78 76.3,319.43 80.3,323.48 85.3,329.34 91.8,336.82 104.8,346.83 126.3,352.16 146.3,352.83 166.8,365.5 187.3,363.16 207.3,360.83 227.3,360.83" fill="none" stroke="#ff00ff" stroke-width="1.3" />
<polyline points="42.8,355.23 43.8,351.49 44.8,347.7 45.8,343.89 46.8,340.27 47.8,336.89 48.8,333.52 49.8,330.15 50.8,327.97 51.8,326.07 53.3,323.22 55.3,319.42 57.8,317.29 61.3,315.19 64.8,314.1 68.8,314.87 72.8,316.78 76.3,319.43 80.3,323.48 85.3,329.34 91.8,336.82 104.8,346.83 126.3,352.16 146.3,352.83 166.8,365.5 187.3,363.16 207.3,360.83 227.3,360.83" fill="none" stroke="#0000ff" stroke-width="1.9" />
<polyline points="42.8,355.23 43.8,351.49 44.8,347.7 45.8,343.89 46.8,340.27 47.8,336.89 48.8,333.52 49.8,330.15 50.8,327.97 51.8,326.07 53.3,323.22 55.3,319.42 57.8,317.29 61.3,315.19 64.8,314.1 68.8,314.87 72.8,316.78 76.3,319.43 80.3,323.48 85.3,329.34 91.8,336.82 104.8,346.83 126.3,352.16 146.3,352.83 166.8,365.5 187.3,363.16 207.3,360.83 227.3,360.83" fill="none" stroke="#ff0000" stroke-width="1.1" />
<path d="M37.8,350.23h10.0v10.0h-10.0zM38.8,346.49h10.0v10.0h-10.0zM39.8,342.7h10.0v10.0h-10.0zM40.8,338.89h10.0v10.0h-10.0zM41.8,335.27h10.0v10.0h-10.0zM42.8,331.89h10.0v10.0h-10.0zM43.8,328.52h10.0v10.0h-10.0zM44.8,325.15h10.0v10.0h-10.0zM45.8,322.97h10.0v10.0h-10.0zM46.8,321.07h10.0v10.0h-10.0zM48.3,318.22h10.0v10.0h-10.0zM50.3,314.42h10.0v10.0h-10.0zM52.8,312.29h10.0v10.0h-10.0zM56.3,310.19h10.0v10.0h-10.0zM59.8,309.1h10.0v10.0h-10.0zM63.8,309.87h10.0v10.0h-10.0zM67.8,311.78h10.0v10.0h-10.0zM71.3,314.43h10.0v10.0h-10.0zM75.3,318.48h10.0v10.0h-10.0zM80.3,324.34h10.0v10.0h-10.0zM86.8,331.82h10.0v10.0h-10.0zM99.8,341.83h10.0v10.0h-10.0zM121.3,347.16h10.0v10.0h-10.0zM141.3,347.83h10.0v10.0h-10.0zM161.8,360.5h10.0v10.0h-10.0zM182.3,358.16h10.0v10.0h-10.0zM202.3,355.83h10.0v10.0h-10.0zM222.3,355.83h10.0v10.0h-10.0z" fill="none" stroke="#0000ff" stroke-width="1.45"/>
<path d="M42.8,350.83l1.09,2.91 3.09,0.13 -2.42,1.93 0.83,2.99 -2.59,-1.71 -2.59,1.71 0.83,-2.99 -2.42,-1.93 3.09,-0.13zM43.8,347.09l1.09,2.91 3.09,0.13 -2.42,1.93 0.83,2.99 -2.59,-1.71 -2.59,1.71 0.83,-2.99 -2.42,-1.93 3.09,-0.13zM44.8,343.3l1.09,2.91 3.09,0.13 -2.42,1.93 0.83,2.99 -2.59,-1.71 -2.59,1.71 0.83,-2.99 -2.42,-1.93 3.09,-0.13zM45.8,339.49l1.09,2.9 3.09,0.14 -2.42,1.93 0.83,2.99 -2.59,-1.71 -2.59,1.71 0.83,-2.99 -2.42,-1.93 3.09,-0.14zM46.8,335.87l1.09,2.9 3.09,0.14 -2.42,1.93 0.83,2.99 -2.59,-1.72 -2.59,1.72 0.83,-2.99 -2.42,-1.93 3.09,-0.14zM47.8,332.49l1.09,2.91 3.09,0.13 -2.42,1.94 0.83,2.98 -2.59,-1.71 -2.59,1.71 0.83,-2.98 -2.42,-1.94 3.09,-0.13zM48.8,329.12l1.09,2.91 3.09,0.13 -2.42,1.93 0.83,2.99 -2.59,-1.71 -2.59,1.71 0.83,-2.99 -2.42,-1.93 3.09,-0.13zM49.8,325.75l1.09,2.9 3.09,0.14 -2.42,1.93 0.83,2.99 -2.59,-1.71 -2.59,1.71 0.83,-2.99 -2.42,-1.93 3.09,-0.14zM50.8,323.57l1.09,2.91 3.09,0.13 -2.42,1.93 0.83,2.99 -2.59,-1.71 -2.59,1.71 0.83,-2.99 -2.42,-1.93 3.09,-0.13zM51.8,321.67l1.09,2.91 3.09,0.13 -2.42,1.93 0.83,2.99 -2.59,-1.71 -2.59,1.71 0.83,-2.99 -2.42,-1.93 3.09,-0.13zM53.3,318.82l1.09,2.91 3.09,0.13 -2.42,1.93 0.83,2.99 -2.59,-1.71 -2.59,1.71 0.83,-2.99 -2.42,-1.93 3.09,-0.13zM55.3,315.02l1.09,2.9 3.09,0.14 -2.42,1.93 0.83,2.99 -2.59,-1.71 -2.59,1.71 0.83,-2.99 -2.42,-1.93 3.09,-0.14zM57.8,312.89l1.09,2.9 3.09,0.14 -2.42,1.93 0.83,2.99 -2.59,-1.71 -2.59,1.71 0.83,-2.99 -2.42,-1.93 3.09,-0.14zM61.3,310.79l1.09,2.91 3.09,0.13 -2.42,1.93 0.83,2.99 -2.59,-1.71 -2.59,1.71 0.83,-2.99 -2.42,-1.93 3.09,-0.13zM64.8,309.7l1.09,2.9 3.09,0.14 -2.42,1.93 0.83,2.99 -2.59,-1.72 -2.59,1.72 0.83,-2.99 -2.42,-1.93 3.09,-0.14zM68.8,310.47l1.09,2.9 3.09,0.14 -2.42,1.93 0.83,2.99 -2.59,-1.72 -2.59,1.72 0.83,-2.99 -2.42,-1.93 3.09,-0.14zM72.8,312.38l1.09,2.9 3.09,0.14 -2.42,1.93 0.83,2.99 -2.59,-1.71 -2.59,1.71 0.83,-2.99 -2.42,-1.93 3.09,-0.14zM76.3,315.03l1.09,2.91 3.09,0.13 -2.42,1.93 0.83,2.99 -2.59,-1.71 -2.59,1.71 0.83,-2.99 -2.42,-1.93 3.09,-0.13zM80.3,319.08l1.09,2.91 3.09,0.13 -2.42,1.93 0.83,2.99 -2.59,-1.71 -2.59,1.71 0.83,-2.99 -2.42,-1.93 3.09,-0.13zM85.3,324.94l1.09,2.9 3.09,0.14 -2.42,1.93 0.83,2.99 -2.59,-1.71 -2.59,1.71 0.83,-2.99 -2.42,-1.93 3.09,-0.14zM91.8,332.42l1.09,2.91 3.09,0.13 -2.42,1.94 0.83,2.98 -2.59,-1.71 -2.59,1.71 0.83,-2.98 -2.42,-1.94 3.09,-0.13zM104.8,342.43l1.09,2.9 3.09,0.14 -2.42,1.93 0.83,2.99 -2.59,-1.72 -2.59,1.72 0.83,-2.99 -2.42,-1.93 3.09,-0.14zM126.3,347.76l1.09,2.91 3.09,0.13 -2.42,1.93 0.83,2.99 -2.59,-1.71 -2.59,1.71 0.83,-2.99 -2.42,-1.93 3.09,-0.13zM146.3,348.43l1.09,2.9 3.09,0.14 -2.42,1.93 0.83,2.99 -2.59,-1.71 -2.59,1.71 0.83,-2.99 -2.42,-1.93 3.09,-0.14zM166.8,361.1l1.09,2.9 3.09,0.14 -2.42,1.93 0.83,2.99 -2.59,-1.71 -2.59,1.71 0.83,-2.99 -2.42,-1.93 3.09,-0.14zM187.3,358.76l1.09,2.91 3.09,0.13 -2.42,1.93 0.83,2.99 -2.59,-1.71 -2.59,1.71 0.83,-2.99 -2.42,-1.93 3.09,-0.13zM207.3,356.43l1.09,2.9 3.09,0.14 -2.42,1.93 0.83,2.99 -2.59,-1.71 -2.59,1.71 0.83,-2.99 -2.42,-1.93 3.09,-0.14zM227.3,356.43l1.09,2.9 3.09,0.14 -2.42,1.93 0.83,2.99 -2.59,-1.71 -2.59,1.71 0.83,-2.99 -2.42,-1.93 3.09,-0.14z" fill="#ff0000"/>
<path d="M42.8,349.73l1.36,3.63 3.87,0.17 -3.03,2.42 1.03,3.73 -3.23,-2.14 -3.23,2.14 1.03,-3.73 -3.03,-2.42 3.87,-0.17zM43.8,345.99l1.36,3.63 3.87,0.17 -3.03,2.42 1.03,3.73 -3.23,-2.14 -3.23,2.14 1.03,-3.73 -3.03,-2.42 3.87,-0.17zM44.8,342.2l1.36,3.63 3.87,0.17 -3.03,2.42 1.03,3.73 -3.23,-2.14 -3.23,2.14 1.03,-3.73 -3.03,-2.42 3.87,-0.17zM45.8,338.39l1.36,3.63 3.87,0.17 -3.03,2.41 1.03,3.74 -3.23,-2.14 -3.23,2.14 1.03,-3.74 -3.03,-2.41 3.87,-0.17zM46.8,334.77l1.36,3.63 3.87,0.17 -3.03,2.41 1.03,3.74 -3.23,-2.14 -3.23,2.14 1.03,-3.74 -3.03,-2.41 3.87,-0.17zM47.8,331.39l1.36,3.64 3.87,0.16 -3.03,2.42 1.03,3.73 -3.23,-2.14 -3.23,2.14 1.03,-3.73 -3.03,-2.42 3.87,-0.16zM48.8,328.02l1.36,3.63 3.87,0.17 -3.03,2.42 1.03,3.73 -3.23,-2.14 -3.23,2.14 1.03,-3.73 -3.03,-2.42 3.87,-0.17zM49.8,324.65l1.36,3.63 3.87,0.17 -3.03,2.41 1.03,3.74 -3.23,-2.14 -3.23,2.14 1.03,-3.74 -3.03,-2.41 3.87,-0.17zM50.8,322.47l1.36,3.63 3.87,0.17 -3.03,2.42 1.03,3.73 -3.23,-2.14 -3.23,2.14 1.03,-3.73 -3.03,-2.42 3.87,-0.17zM51.8,320.57l1.36,3.63 3.87,0.17 -3.03,2.42 1.03,3.73 -3.23,-2.14 -3.23,2.14 1.03,-3.73 -3.03,-2.42 3.87,-0.17zM53.3,317.72l1.36,3.63 3.87,0.17 -3.03,2.42 1.03,3.73 -3.23,-2.14 -3.23,2.14 1.03,-3.73 -3.03,-2.42 3.87,-0.17zM55.3,313.92l1.36,3.63 3.87,0.17 -3.03,2.41 1.03,3.74 -3.23,-2.14 -3.23,2.14 1.03,-3.74 -3.03,-2.41 3.87,-0.17zM57.8,311.79l1.36,3.63 3.87,0.17 -3.03,2.41 1.03,3.74 -3.23,-2.14 -3.23,2.14 1.03,-3.74 -3.03,-2.41 3.87,-0.17zM61.3,309.69l1.36,3.63 3.87,0.17 -3.03,2.42 1.03,3.73 -3.23,-2.14 -3.23,2.14 1.03,-3.73 -3.03,-2.42 3.87,-0.17zM64.8,308.6l1.36,3.63 3.87,0.17 -3.03,2.41 1.03,3.74 -3.23,-2.14 -3.23,2.14 1.03,-3.74 -3.03,-2.41 3.87,-0.17zM68.8,309.37l1.36,3.63 3.87,0.17 -3.03,2.41 1.03,3.74 -3.23,-2.14 -3.23,2.14 1.03,-3.74 -3.03,-2.41 3.87,-0.17zM72.8,311.28l1.36,3.63 3.87,0.17 -3.03,2.41 1.03,3.74 -3.23,-2.14 -3.23,2.14 1.03,-3.74 -3.03,-2.41 3.87,-0.17zM76.3,313.93l1.36,3.63 3.87,0.17 -3.03,2.42 1.03,3.73 -3.23,-2.14 -3.23,2.14 1.03,-3.73 -3.03,-2.42 3.87,-0.17zM80.3,317.98l1.36,3.63 3.87,0.17 -3.03,2.42 1.03,3.73 -3.23,-2.14 -3.23,2.14 1.03,-3.73 -3.03,-2.42 3.87,-0.17zM85.3,323.84l1.36,3.63 3.87,0.17 -3.03,2.41 1.03,3.74 -3.23,-2.14 -3.23,2.14 1.03,-3.74 -3.03,-2.41 3.87,-0.17zM91.8,331.32l1.36,3.64 3.87,0.17 -3.03,2.41 1.03,3.73 -3.23,-2.14 -3.23,2.14 1.03,-3.73 -3.03,-2.41 3.87,-0.17zM104.8,341.33l1.36,3.63 3.87,0.17 -3.03,2.41 1.03,3.74 -3.23,-2.14 -3.23,2.14 1.03,-3.74 -3.03,-2.41 3.87,-0.17zM126.3,346.66l1.36,3.63 3.87,0.17 -3.03,2.41 1.03,3.74 -3.23,-2.14 -3.23,2.14 1.03,-3.74 -3.03,-2.41 3.87,-0.17zM146.3,347.33l1.36,3.63 3.87,0.17 -3.03,2.41 1.03,3.74 -3.23,-2.14 -3.23,2.14 1.03,-3.74 -3.03,-2.41 3.87,-0.17zM166.8,360l1.36,3.63 3.87,0.17 -3.03,2.41 1.03,3.74 -3.23,-2.14 -3.23,2.14 1.03,-3.74 -3.03,-2.41 3.87,-0.17zM187.3,357.66l1.36,3.63 3.87,0.17 -3.03,2.42 1.03,3.73 -3.23,-2.14 -3.23,2.14 1.03,-3.73 -3.03,-2.42 3.87,-0.17zM207.3,355.33l1.36,3.63 3.87,0.17 -3.03,2.41 1.03,3.74 -3.23,-2.14 -3.23,2.14 1.03,-3.74 -3.03,-2.41 3.87,-0.17zM227.3,355.33l1.36,3.63 3.87,0.17 -3.03,2.41 1.03,3.74 -3.23,-2.14 -3.23,2.14 1.03,-3.74 -3.03,-2.41 3.87,-0.17z" fill="none" stroke="#ff00ff" stroke-width="1.5" stroke-linejoin="round"/>
</g>
<g clip-path="url(#c31)">
<polyline points="257.82,347.35 258.82,343.05 259.82,338.66 260.83,334.26 261.83,330.26 262.84,326.39 263.84,322.51 264.84,319.07 265.85,316.94 266.85,314.8 268.36,311.6 270.36,307.98 272.87,305.9 276.39,304.28 279.9,303.29 283.91,304.5 287.93,306.31 291.44,309.12 295.46,313.41 300.47,319.6 307,327.52 320.05,336.19 341.63,344.19 361.7,350.53 382.28,355.2 402.85,359.86 422.93,350.53 443,366.2" fill="none" stroke="#222" stroke-width="1.0" />
<polyline points="257.82,349.95 258.82,345.65 259.82,341.26 260.83,336.86 261.83,332.86 262.84,328.99 263.84,325.11 264.84,321.67 265.85,319.54 266.85,317.4 268.36,314.2 270.36,310.58 272.87,308.5 276.39,306.88 279.9,305.89 283.91,307.1 287.93,308.91 291.44,311.72 295.46,316.01 300.47,322.2 307,330.12 320.05,338.79 341.63,346.79 361.7,353.13 382.28,357.8 402.85,362.46 422.93,353.13 443,368.8" fill="none" stroke="#222" stroke-width="1.0" />
<polyline points="257.82,346.46 258.82,341.96 259.82,337.38 260.83,332.79 261.83,328.61 262.84,324.57 263.84,320.53 264.84,316.94 265.85,314.71 266.85,312.48 268.36,309.13 270.36,305.35 272.87,303.18 276.39,301.49 279.9,300.46 283.91,301.32 287.93,302.67 291.44,304.74 295.46,307.91 300.47,312.5 307,318.35 320.05,324.69 341.63,327.26 361.7,328.37 382.28,327.48 402.85,333.26 422.93,321.37 443,319.82" fill="none" stroke="#111" stroke-width="1.0" />
<polyline points="257.82,348.06 258.82,343.56 259.82,338.98 260.83,334.39 261.83,330.21 262.84,326.17 263.84,322.13 264.84,318.54 265.85,316.31 266.85,314.08 268.36,310.73 270.36,306.95 272.87,304.78 276.39,303.09 279.9,302.06 283.91,302.92 287.93,304.27 291.44,306.34 295.46,309.51 300.47,314.1 307,319.95 320.05,326.29 341.63,329.05 361.7,330.61 382.28,330.16 402.85,336.39 422.93,324.94 443,323.82" fill="none" stroke="#111" stroke-width="1.0" />
<line x1="341.63" y1="342.83" x2="341.63" y2="348.16" stroke="#000" stroke-width="1.7"/>
<line x1="361.7" y1="345.83" x2="361.7" y2="357.83" stroke="#000" stroke-width="1.7"/>
<line x1="382.28" y1="346.49" x2="382.28" y2="366.5" stroke="#000" stroke-width="1.7"/>
<line x1="402.85" y1="344.49" x2="402.85" y2="377.83" stroke="#000" stroke-width="1.7"/>
<line x1="422.93" y1="331.16" x2="422.93" y2="372.5" stroke="#000" stroke-width="1.7"/>
<line x1="443" y1="337.49" x2="443" y2="397.5" stroke="#000" stroke-width="1.7"/>
<line x1="422.93" y1="319.82" x2="422.93" y2="326.49" stroke="#000" stroke-width="1.4"/>
<line x1="443" y1="315.15" x2="443" y2="328.49" stroke="#000" stroke-width="1.4"/>
<path d="M257.82,348.65h0M258.82,344.35h0M259.82,339.96h0M260.83,335.56h0M261.83,331.56h0M262.84,327.69h0M263.84,323.81h0M264.84,320.37h0M265.85,318.24h0M266.85,316.1h0M268.36,312.9h0M270.36,309.28h0M272.87,307.2h0M276.39,305.58h0M279.9,304.59h0M283.91,305.8h0M287.93,307.61h0M291.44,310.42h0M295.46,314.71h0M300.47,320.9h0M307,328.82h0M320.05,337.49h0M341.63,345.49h0M361.7,351.83h0M382.28,356.5h0M402.85,361.16h0M422.93,351.83h0M443,367.5h0" stroke="#000" stroke-width="7" stroke-linecap="round"/>
<path d="M254.22,347.26a3.6,3.6 0 1,0 7.2,0a3.6,3.6 0 1,0 -7.2,0M255.22,342.76a3.6,3.6 0 1,0 7.2,0a3.6,3.6 0 1,0 -7.2,0M256.22,338.18a3.6,3.6 0 1,0 7.2,0a3.6,3.6 0 1,0 -7.2,0M257.23,333.59a3.6,3.6 0 1,0 7.2,0a3.6,3.6 0 1,0 -7.2,0M258.23,329.41a3.6,3.6 0 1,0 7.2,0a3.6,3.6 0 1,0 -7.2,0M259.24,325.37a3.6,3.6 0 1,0 7.2,0a3.6,3.6 0 1,0 -7.2,0M260.24,321.33a3.6,3.6 0 1,0 7.2,0a3.6,3.6 0 1,0 -7.2,0M261.24,317.74a3.6,3.6 0 1,0 7.2,0a3.6,3.6 0 1,0 -7.2,0M262.25,315.51a3.6,3.6 0 1,0 7.2,0a3.6,3.6 0 1,0 -7.2,0M263.25,313.28a3.6,3.6 0 1,0 7.2,0a3.6,3.6 0 1,0 -7.2,0M264.76,309.93a3.6,3.6 0 1,0 7.2,0a3.6,3.6 0 1,0 -7.2,0M266.76,306.15a3.6,3.6 0 1,0 7.2,0a3.6,3.6 0 1,0 -7.2,0M269.27,303.98a3.6,3.6 0 1,0 7.2,0a3.6,3.6 0 1,0 -7.2,0M272.79,302.29a3.6,3.6 0 1,0 7.2,0a3.6,3.6 0 1,0 -7.2,0M276.3,301.26a3.6,3.6 0 1,0 7.2,0a3.6,3.6 0 1,0 -7.2,0M280.31,302.12a3.6,3.6 0 1,0 7.2,0a3.6,3.6 0 1,0 -7.2,0M284.33,303.47a3.6,3.6 0 1,0 7.2,0a3.6,3.6 0 1,0 -7.2,0M287.84,305.54a3.6,3.6 0 1,0 7.2,0a3.6,3.6 0 1,0 -7.2,0M291.86,308.71a3.6,3.6 0 1,0 7.2,0a3.6,3.6 0 1,0 -7.2,0M296.87,313.3a3.6,3.6 0 1,0 7.2,0a3.6,3.6 0 1,0 -7.2,0M303.4,319.15a3.6,3.6 0 1,0 7.2,0a3.6,3.6 0 1,0 -7.2,0M316.45,325.49a3.6,3.6 0 1,0 7.2,0a3.6,3.6 0 1,0 -7.2,0M338.03,328.16a3.6,3.6 0 1,0 7.2,0a3.6,3.6 0 1,0 -7.2,0M358.1,329.49a3.6,3.6 0 1,0 7.2,0a3.6,3.6 0 1,0 -7.2,0M378.68,328.82a3.6,3.6 0 1,0 7.2,0a3.6,3.6 0 1,0 -7.2,0M399.25,334.82a3.6,3.6 0 1,0 7.2,0a3.6,3.6 0 1,0 -7.2,0M419.33,323.16a3.6,3.6 0 1,0 7.2,0a3.6,3.6 0 1,0 -7.2,0M439.4,321.82a3.6,3.6 0 1,0 7.2,0a3.6,3.6 0 1,0 -7.2,0" fill="none" stroke="#000" stroke-width="1.2"/>
<polyline points="257.82,356.41 258.82,352.7 259.82,348.92 260.83,345.14 261.83,341.68 262.84,338.34 263.84,334.99 264.84,332 265.85,330.1 266.85,328.2 268.36,325.35 270.36,322.09 272.87,320.06 276.39,318.28 279.9,317.24 283.91,318.34 287.93,319.98 291.44,322.52 295.46,326.4 300.47,332 307,339.16 320.05,345.49 341.63,352.16 361.7,353.16 382.28,365.16 402.85,365.16 422.93,343.83 443,358.16" fill="none" stroke="#ff00ff" stroke-width="1.3" />
<polyline points="257.82,356.41 258.82,352.7 259.82,348.92 260.83,345.14 261.83,341.68 262.84,338.34 263.84,334.99 264.84,332 265.85,330.1 266.85,328.2 268.36,325.35 270.36,322.09 272.87,320.06 276.39,318.28 279.9,317.24 283.91,318.34 287.93,319.98 291.44,322.52 295.46,326.4 300.47,332 307,339.16 320.05,345.49 341.63,352.16 361.7,353.16 382.28,365.16 402.85,365.16 422.93,347.49 443,358.16" fill="none" stroke="#0000ff" stroke-width="1.9" />
<polyline points="257.82,356.41 258.82,352.7 259.82,348.92 260.83,345.14 261.83,341.68 262.84,338.34 263.84,334.99 264.84,332 265.85,330.1 266.85,328.2 268.36,325.35 270.36,322.09 272.87,320.06 276.39,318.28 279.9,317.24 283.91,318.34 287.93,319.98 291.44,322.52 295.46,326.4 300.47,332 307,339.16 320.05,345.49 341.63,352.16 361.7,353.16 382.28,365.16 402.85,365.16 422.93,347.49 443,358.16" fill="none" stroke="#ff0000" stroke-width="1.1" />
<path d="M252.82,351.41h10.0v10.0h-10.0zM253.82,347.7h10.0v10.0h-10.0zM254.82,343.92h10.0v10.0h-10.0zM255.83,340.14h10.0v10.0h-10.0zM256.83,336.68h10.0v10.0h-10.0zM257.84,333.34h10.0v10.0h-10.0zM258.84,329.99h10.0v10.0h-10.0zM259.84,327h10.0v10.0h-10.0zM260.85,325.1h10.0v10.0h-10.0zM261.85,323.2h10.0v10.0h-10.0zM263.36,320.35h10.0v10.0h-10.0zM265.36,317.09h10.0v10.0h-10.0zM267.87,315.06h10.0v10.0h-10.0zM271.39,313.28h10.0v10.0h-10.0zM274.9,312.24h10.0v10.0h-10.0zM278.91,313.34h10.0v10.0h-10.0zM282.93,314.98h10.0v10.0h-10.0zM286.44,317.52h10.0v10.0h-10.0zM290.46,321.4h10.0v10.0h-10.0zM295.47,327h10.0v10.0h-10.0zM302,334.16h10.0v10.0h-10.0zM315.05,340.49h10.0v10.0h-10.0zM336.63,347.16h10.0v10.0h-10.0zM356.7,348.16h10.0v10.0h-10.0zM377.28,360.16h10.0v10.0h-10.0zM397.85,360.16h10.0v10.0h-10.0zM417.93,342.49h10.0v10.0h-10.0zM438,353.16h10.0v10.0h-10.0z" fill="none" stroke="#0000ff" stroke-width="1.45"/>
<path d="M257.82,352.01l1.08,2.91 3.1,0.13 -2.43,1.93 0.83,2.99 -2.58,-1.71 -2.59,1.71 0.83,-2.99 -2.43,-1.93 3.1,-0.13zM258.82,348.3l1.09,2.91 3.1,0.13 -2.43,1.93 0.83,2.99 -2.59,-1.71 -2.59,1.71 0.83,-2.99 -2.42,-1.93 3.09,-0.13zM259.82,344.52l1.09,2.91 3.1,0.13 -2.43,1.93 0.83,2.99 -2.59,-1.71 -2.58,1.71 0.83,-2.99 -2.43,-1.93 3.1,-0.13zM260.83,340.74l1.08,2.91 3.1,0.13 -2.42,1.93 0.82,2.99 -2.58,-1.71 -2.59,1.71 0.83,-2.99 -2.43,-1.93 3.1,-0.13zM261.83,337.28l1.09,2.91 3.1,0.13 -2.43,1.93 0.83,2.99 -2.59,-1.71 -2.58,1.71 0.82,-2.99 -2.42,-1.93 3.1,-0.13zM262.84,333.94l1.08,2.9 3.1,0.14 -2.43,1.93 0.83,2.98 -2.58,-1.71 -2.59,1.71 0.83,-2.98 -2.43,-1.93 3.1,-0.14zM263.84,330.59l1.09,2.9 3.09,0.14 -2.42,1.93 0.83,2.99 -2.59,-1.71 -2.59,1.71 0.83,-2.99 -2.43,-1.93 3.1,-0.14zM264.84,327.6l1.09,2.91 3.1,0.13 -2.43,1.93 0.83,2.99 -2.59,-1.71 -2.58,1.71 0.83,-2.99 -2.43,-1.93 3.1,-0.13zM265.85,325.7l1.08,2.91 3.1,0.13 -2.43,1.93 0.83,2.99 -2.58,-1.71 -2.59,1.71 0.83,-2.99 -2.43,-1.93 3.1,-0.13zM266.85,323.8l1.09,2.9 3.09,0.14 -2.42,1.93 0.83,2.99 -2.59,-1.71 -2.59,1.71 0.83,-2.99 -2.42,-1.93 3.09,-0.14zM268.36,320.95l1.08,2.9 3.1,0.14 -2.43,1.93 0.83,2.99 -2.58,-1.71 -2.59,1.71 0.83,-2.99 -2.43,-1.93 3.1,-0.14zM270.36,317.69l1.09,2.91 3.1,0.13 -2.43,1.93 0.83,2.99 -2.59,-1.71 -2.58,1.71 0.83,-2.99 -2.43,-1.93 3.1,-0.13zM272.87,315.66l1.09,2.9 3.1,0.14 -2.43,1.93 0.83,2.99 -2.59,-1.72 -2.58,1.72 0.83,-2.99 -2.43,-1.93 3.1,-0.14zM276.39,313.88l1.08,2.91 3.1,0.13 -2.43,1.93 0.83,2.99 -2.58,-1.71 -2.59,1.71 0.83,-2.99 -2.43,-1.93 3.1,-0.13zM279.9,312.84l1.08,2.91 3.1,0.13 -2.42,1.94 0.82,2.98 -2.58,-1.71 -2.59,1.71 0.83,-2.98 -2.43,-1.94 3.1,-0.13zM283.91,313.94l1.09,2.9 3.1,0.14 -2.43,1.93 0.83,2.99 -2.59,-1.71 -2.58,1.71 0.83,-2.99 -2.43,-1.93 3.1,-0.14zM287.93,315.58l1.08,2.91 3.1,0.13 -2.42,1.93 0.82,2.99 -2.58,-1.71 -2.59,1.71 0.83,-2.99 -2.43,-1.93 3.1,-0.13zM291.44,318.12l1.09,2.91 3.1,0.13 -2.43,1.93 0.83,2.99 -2.59,-1.71 -2.58,1.71 0.82,-2.99 -2.42,-1.93 3.1,-0.13zM295.46,322l1.08,2.9 3.1,0.14 -2.43,1.93 0.83,2.99 -2.58,-1.72 -2.59,1.72 0.83,-2.99 -2.43,-1.93 3.1,-0.14zM300.47,327.6l1.09,2.9 3.1,0.14 -2.43,1.93 0.83,2.99 -2.59,-1.72 -2.58,1.72 0.83,-2.99 -2.43,-1.93 3.1,-0.14zM307,334.76l1.09,2.9 3.09,0.14 -2.42,1.93 0.83,2.99 -2.59,-1.71 -2.59,1.71 0.83,-2.99 -2.43,-1.93 3.1,-0.14zM320.05,341.09l1.08,2.91 3.1,0.13 -2.43,1.93 0.83,2.99 -2.58,-1.71 -2.59,1.71 0.83,-2.99 -2.43,-1.93 3.1,-0.13zM341.63,347.76l1.08,2.91 3.1,0.13 -2.43,1.93 0.83,2.99 -2.58,-1.71 -2.59,1.71 0.83,-2.99 -2.43,-1.93 3.1,-0.13zM361.7,348.76l1.09,2.91 3.1,0.13 -2.43,1.93 0.83,2.99 -2.59,-1.71 -2.58,1.71 0.82,-2.99 -2.42,-1.93 3.1,-0.13zM382.28,360.76l1.08,2.91 3.1,0.13 -2.42,1.93 0.82,2.99 -2.58,-1.71 -2.59,1.71 0.83,-2.99 -2.43,-1.93 3.1,-0.13zM402.85,360.76l1.09,2.91 3.1,0.13 -2.43,1.93 0.83,2.99 -2.59,-1.71 -2.58,1.71 0.83,-2.99 -2.43,-1.93 3.1,-0.13zM422.93,343.09l1.09,2.91 3.09,0.13 -2.42,1.93 0.83,2.99 -2.59,-1.71 -2.59,1.71 0.83,-2.99 -2.43,-1.93 3.1,-0.13zM443,353.76l1.09,2.91 3.1,0.13 -2.43,1.93 0.83,2.99 -2.59,-1.71 -2.58,1.71 0.83,-2.99 -2.43,-1.93 3.1,-0.13z" fill="#ff0000"/>
<path d="M257.82,350.91l1.35,3.63 3.88,0.17 -3.04,2.42 1.04,3.73 -3.23,-2.14 -3.24,2.14 1.04,-3.73 -3.03,-2.42 3.87,-0.17zM258.82,347.2l1.36,3.63 3.87,0.17 -3.03,2.42 1.03,3.73 -3.23,-2.14 -3.23,2.14 1.03,-3.73 -3.03,-2.42 3.87,-0.17zM259.82,343.42l1.36,3.63 3.87,0.17 -3.03,2.42 1.04,3.73 -3.24,-2.14 -3.23,2.14 1.04,-3.73 -3.04,-2.42 3.88,-0.17zM260.83,339.64l1.36,3.63 3.87,0.17 -3.04,2.41 1.04,3.74 -3.23,-2.14 -3.23,2.14 1.03,-3.74 -3.03,-2.41 3.87,-0.17zM261.83,336.18l1.36,3.63 3.87,0.17 -3.03,2.42 1.03,3.73 -3.23,-2.14 -3.23,2.14 1.03,-3.73 -3.03,-2.42 3.87,-0.17zM262.84,332.84l1.35,3.63 3.88,0.17 -3.04,2.41 1.04,3.73 -3.23,-2.13 -3.24,2.13 1.04,-3.73 -3.04,-2.41 3.88,-0.17zM263.84,329.49l1.36,3.63 3.87,0.17 -3.03,2.41 1.03,3.74 -3.23,-2.14 -3.23,2.14 1.03,-3.74 -3.03,-2.41 3.87,-0.17zM264.84,326.5l1.36,3.63 3.87,0.17 -3.03,2.41 1.04,3.74 -3.24,-2.14 -3.23,2.14 1.04,-3.74 -3.04,-2.41 3.88,-0.17zM265.85,324.6l1.35,3.63 3.88,0.17 -3.04,2.41 1.04,3.74 -3.23,-2.14 -3.24,2.14 1.04,-3.74 -3.03,-2.41 3.87,-0.17zM266.85,322.7l1.36,3.63 3.87,0.17 -3.03,2.41 1.03,3.74 -3.23,-2.14 -3.23,2.14 1.03,-3.74 -3.03,-2.41 3.87,-0.17zM268.36,319.85l1.35,3.63 3.88,0.17 -3.04,2.41 1.04,3.74 -3.23,-2.14 -3.24,2.14 1.04,-3.74 -3.03,-2.41 3.87,-0.17zM270.36,316.59l1.36,3.63 3.87,0.17 -3.03,2.42 1.04,3.73 -3.24,-2.14 -3.23,2.14 1.04,-3.73 -3.04,-2.42 3.88,-0.17zM272.87,314.56l1.36,3.63 3.87,0.17 -3.03,2.41 1.04,3.74 -3.24,-2.14 -3.23,2.14 1.04,-3.74 -3.04,-2.41 3.87,-0.17zM276.39,312.78l1.35,3.63 3.88,0.17 -3.04,2.42 1.04,3.73 -3.23,-2.14 -3.24,2.14 1.04,-3.73 -3.04,-2.42 3.88,-0.17zM279.9,311.74l1.36,3.64 3.87,0.16 -3.03,2.42 1.03,3.73 -3.23,-2.14 -3.23,2.14 1.03,-3.73 -3.03,-2.42 3.87,-0.16zM283.91,312.84l1.36,3.63 3.87,0.17 -3.03,2.41 1.04,3.74 -3.24,-2.14 -3.23,2.14 1.04,-3.74 -3.04,-2.41 3.88,-0.17zM287.93,314.48l1.36,3.63 3.87,0.17 -3.03,2.42 1.03,3.73 -3.23,-2.14 -3.23,2.14 1.03,-3.73 -3.03,-2.42 3.87,-0.17zM291.44,317.02l1.36,3.63 3.87,0.17 -3.03,2.42 1.03,3.73 -3.23,-2.14 -3.23,2.14 1.03,-3.73 -3.03,-2.42 3.87,-0.17zM295.46,320.9l1.35,3.63 3.88,0.17 -3.04,2.41 1.04,3.74 -3.23,-2.14 -3.24,2.14 1.04,-3.74 -3.03,-2.41 3.87,-0.17zM300.47,326.5l1.36,3.63 3.88,0.17 -3.04,2.41 1.04,3.74 -3.24,-2.14 -3.23,2.14 1.04,-3.74 -3.04,-2.41 3.88,-0.17zM307,333.66l1.36,3.63 3.87,0.17 -3.03,2.41 1.03,3.74 -3.23,-2.14 -3.23,2.14 1.03,-3.74 -3.03,-2.41 3.87,-0.17zM320.05,339.99l1.36,3.63 3.87,0.17 -3.04,2.42 1.04,3.73 -3.23,-2.14 -3.24,2.14 1.04,-3.73 -3.03,-2.42 3.87,-0.17zM341.63,346.66l1.36,3.63 3.87,0.17 -3.04,2.41 1.04,3.74 -3.23,-2.14 -3.24,2.14 1.04,-3.74 -3.03,-2.41 3.87,-0.17zM361.7,347.66l1.36,3.63 3.87,0.17 -3.03,2.42 1.03,3.73 -3.23,-2.14 -3.23,2.14 1.03,-3.73 -3.03,-2.42 3.87,-0.17zM382.28,359.66l1.36,3.63 3.87,0.17 -3.03,2.42 1.03,3.73 -3.23,-2.14 -3.23,2.14 1.03,-3.73 -3.03,-2.42 3.87,-0.17zM402.85,359.66l1.36,3.63 3.88,0.17 -3.04,2.42 1.04,3.73 -3.24,-2.14 -3.23,2.14 1.04,-3.73 -3.04,-2.42 3.88,-0.17zM422.93,338.33l1.36,3.63 3.87,0.17 -3.03,2.41 1.03,3.74 -3.23,-2.14 -3.23,2.14 1.03,-3.74 -3.03,-2.41 3.87,-0.17zM443,352.66l1.36,3.63 3.87,0.17 -3.03,2.42 1.04,3.73 -3.24,-2.14 -3.23,2.14 1.04,-3.73 -3.04,-2.42 3.88,-0.17z" fill="none" stroke="#ff00ff" stroke-width="1.5" stroke-linejoin="round"/>
</g>
<g clip-path="url(#c32)">
<polyline points="473.56,344.21 474.55,340.27 475.54,336.24 476.53,332.21 477.52,328.56 478.52,325.03 479.51,321.5 480.5,318.39 481.49,316.54 482.48,314.69 483.97,311.91 485.95,308.84 488.43,307.36 491.9,306.52 495.37,305.96 499.33,307.14 503.3,308.94 506.76,311.71 510.73,315.93 515.68,322.04 522.13,329.86 535.01,340.19 556.32,346.14 576.15,357.96 596.46,349.08 616.78,353.87 636.61,312.34 656.43,346.49" fill="none" stroke="#222" stroke-width="1.0" />
<polyline points="473.56,346.81 474.55,342.87 475.54,338.84 476.53,334.81 477.52,331.16 478.52,327.63 479.51,324.1 480.5,320.99 481.49,319.14 482.48,317.29 483.97,314.51 485.95,311.44 488.43,309.96 491.9,309.12 495.37,308.56 499.33,309.74 503.3,311.54 506.76,314.31 510.73,318.53 515.68,324.64 522.13,332.46 535.01,342.79 556.32,349.51 576.15,363.04 596.46,355.91 616.78,362.45 636.61,322.63 656.43,358.49" fill="none" stroke="#222" stroke-width="1.0" />
<polygon points="473.56,342.88 474.55,338.77 475.54,334.58 476.53,330.39 477.52,326.59 478.52,322.91 479.51,319.24 480.5,316.01 481.49,314.08 482.48,312.15 483.97,309.26 485.95,306.06 488.43,304.52 491.9,303.65 495.37,303.06 499.33,303.71 503.3,304.75 506.76,306.37 510.73,308.83 515.68,312.4 522.13,316.95 535.01,320.62 556.32,321.47 576.15,321.15 596.46,312.48 616.78,319.48 636.61,307.81 656.43,302.15 656.43,308.15 636.61,313.16 616.78,324.17 596.46,316.5 576.15,324.5 556.32,324.17 535.01,323.02 522.13,319.35 515.68,314.8 510.73,311.23 506.76,308.77 503.3,307.15 499.33,306.11 495.37,305.46 491.9,306.05 488.43,306.92 485.95,308.46 483.97,311.66 482.48,314.55 481.49,316.48 480.5,318.41 479.51,321.64 478.52,325.31 477.52,328.99 476.53,332.79 475.54,336.98 474.55,341.17 473.56,345.28" fill="#e4e4e4" stroke="none"/>
<polyline points="473.56,342.88 474.55,338.77 475.54,334.58 476.53,330.39 477.52,326.59 478.52,322.91 479.51,319.24 480.5,316.01 481.49,314.08 482.48,312.15 483.97,309.26 485.95,306.06 488.43,304.52 491.9,303.65 495.37,303.06 499.33,303.71 503.3,304.75 506.76,306.37 510.73,308.83 515.68,312.4 522.13,316.95 535.01,320.62 556.32,321.47 576.15,321.15 596.46,312.48 616.78,319.48 636.61,307.81 656.43,302.15" fill="none" stroke="#111" stroke-width="1.0" />
<polyline points="473.56,345.28 474.55,341.17 475.54,336.98 476.53,332.79 477.52,328.99 478.52,325.31 479.51,321.64 480.5,318.41 481.49,316.48 482.48,314.55 483.97,311.66 485.95,308.46 488.43,306.92 491.9,306.05 495.37,305.46 499.33,306.11 503.3,307.15 506.76,308.77 510.73,311.23 515.68,314.8 522.13,319.35 535.01,323.02 556.32,324.17 576.15,324.5 596.46,316.5 616.78,324.17 636.61,313.16 656.43,308.15" fill="none" stroke="#111" stroke-width="1.0" />
<line x1="556.32" y1="344.49" x2="556.32" y2="351.16" stroke="#000" stroke-width="1.7"/>
<line x1="576.15" y1="353.83" x2="576.15" y2="367.16" stroke="#000" stroke-width="1.7"/>
<line x1="596.46" y1="339.16" x2="596.46" y2="365.83" stroke="#000" stroke-width="1.7"/>
<line x1="616.78" y1="338.16" x2="616.78" y2="378.17" stroke="#000" stroke-width="1.7"/>
<line x1="636.61" y1="277.48" x2="636.61" y2="357.5" stroke="#000" stroke-width="1.7"/>
<line x1="656.43" y1="312.49" x2="656.43" y2="392.5" stroke="#000" stroke-width="1.7"/>
<path d="M473.56,345.51h0M474.55,341.57h0M475.54,337.54h0M476.53,333.51h0M477.52,329.86h0M478.52,326.33h0M479.51,322.8h0M480.5,319.69h0M481.49,317.84h0M482.48,315.99h0M483.97,313.21h0M485.95,310.14h0M488.43,308.66h0M491.9,307.82h0M495.37,307.26h0M499.33,308.44h0M503.3,310.24h0M506.76,313.01h0M510.73,317.23h0M515.68,323.34h0M522.13,331.16h0M535.01,341.49h0M556.32,347.83h0M576.15,360.5h0M596.46,352.49h0M616.78,358.16h0M636.61,317.49h0M656.43,352.49h0" stroke="#000" stroke-width="7" stroke-linecap="round"/>
<path d="M469.96,344.08a3.6,3.6 0 1,0 7.2,0a3.6,3.6 0 1,0 -7.2,0M470.95,339.97a3.6,3.6 0 1,0 7.2,0a3.6,3.6 0 1,0 -7.2,0M471.94,335.78a3.6,3.6 0 1,0 7.2,0a3.6,3.6 0 1,0 -7.2,0M472.93,331.59a3.6,3.6 0 1,0 7.2,0a3.6,3.6 0 1,0 -7.2,0M473.92,327.79a3.6,3.6 0 1,0 7.2,0a3.6,3.6 0 1,0 -7.2,0M474.92,324.11a3.6,3.6 0 1,0 7.2,0a3.6,3.6 0 1,0 -7.2,0M475.91,320.44a3.6,3.6 0 1,0 7.2,0a3.6,3.6 0 1,0 -7.2,0M476.9,317.21a3.6,3.6 0 1,0 7.2,0a3.6,3.6 0 1,0 -7.2,0M477.89,315.28a3.6,3.6 0 1,0 7.2,0a3.6,3.6 0 1,0 -7.2,0M478.88,313.35a3.6,3.6 0 1,0 7.2,0a3.6,3.6 0 1,0 -7.2,0M480.37,310.46a3.6,3.6 0 1,0 7.2,0a3.6,3.6 0 1,0 -7.2,0M482.35,307.26a3.6,3.6 0 1,0 7.2,0a3.6,3.6 0 1,0 -7.2,0M484.83,305.72a3.6,3.6 0 1,0 7.2,0a3.6,3.6 0 1,0 -7.2,0M488.3,304.85a3.6,3.6 0 1,0 7.2,0a3.6,3.6 0 1,0 -7.2,0M491.77,304.26a3.6,3.6 0 1,0 7.2,0a3.6,3.6 0 1,0 -7.2,0M495.73,304.91a3.6,3.6 0 1,0 7.2,0a3.6,3.6 0 1,0 -7.2,0M499.7,305.95a3.6,3.6 0 1,0 7.2,0a3.6,3.6 0 1,0 -7.2,0M503.16,307.57a3.6,3.6 0 1,0 7.2,0a3.6,3.6 0 1,0 -7.2,0M507.13,310.03a3.6,3.6 0 1,0 7.2,0a3.6,3.6 0 1,0 -7.2,0M512.08,313.6a3.6,3.6 0 1,0 7.2,0a3.6,3.6 0 1,0 -7.2,0M518.53,318.15a3.6,3.6 0 1,0 7.2,0a3.6,3.6 0 1,0 -7.2,0M531.41,321.82a3.6,3.6 0 1,0 7.2,0a3.6,3.6 0 1,0 -7.2,0M552.72,322.82a3.6,3.6 0 1,0 7.2,0a3.6,3.6 0 1,0 -7.2,0M572.55,322.82a3.6,3.6 0 1,0 7.2,0a3.6,3.6 0 1,0 -7.2,0M592.86,314.49a3.6,3.6 0 1,0 7.2,0a3.6,3.6 0 1,0 -7.2,0M613.18,321.82a3.6,3.6 0 1,0 7.2,0a3.6,3.6 0 1,0 -7.2,0M633.01,310.49a3.6,3.6 0 1,0 7.2,0a3.6,3.6 0 1,0 -7.2,0M652.83,305.15a3.6,3.6 0 1,0 7.2,0a3.6,3.6 0 1,0 -7.2,0" fill="none" stroke="#000" stroke-width="1.2"/>
<polyline points="473.56,354.93 474.55,351.68 475.54,348.36 476.53,345.05 477.52,342.03 478.52,339.11 479.51,336.19 480.5,333.61 481.49,332.03 482.48,330.44 483.97,328.07 485.95,325.4 488.43,323.94 491.9,322.89 495.37,322.24 499.33,323.11 503.3,324.43 506.76,326.47 510.73,329.58 515.68,334.07 522.13,339.83 535.01,346.16 556.32,350.83 576.15,361.16 596.46,352.49 616.78,381.83 636.61,376.5 656.43,373.17" fill="none" stroke="#ff00ff" stroke-width="1.3" />
<polyline points="473.56,354.93 474.55,351.68 475.54,348.36 476.53,345.05 477.52,342.03 478.52,339.11 479.51,336.19 480.5,333.61 481.49,332.03 482.48,330.44 483.97,328.07 485.95,325.4 488.43,323.94 491.9,322.89 495.37,322.24 499.33,323.11 503.3,324.43 506.76,326.47 510.73,329.58 515.68,334.07 522.13,339.83 535.01,346.16 556.32,350.83 576.15,361.16 596.46,352.49 616.78,381.83 636.61,377.83 656.43,374.17" fill="none" stroke="#0000ff" stroke-width="1.9" />
<polyline points="473.56,354.93 474.55,351.68 475.54,348.36 476.53,345.05 477.52,342.03 478.52,339.11 479.51,336.19 480.5,333.61 481.49,332.03 482.48,330.44 483.97,328.07 485.95,325.4 488.43,323.94 491.9,322.89 495.37,322.24 499.33,323.11 503.3,324.43 506.76,326.47 510.73,329.58 515.68,334.07 522.13,339.83 535.01,346.16 556.32,350.83 576.15,361.16 596.46,352.49 616.78,381.83 636.61,358.16 656.43,360.16" fill="none" stroke="#ff0000" stroke-width="1.1" />
<path d="M468.56,349.93h10.0v10.0h-10.0zM469.55,346.68h10.0v10.0h-10.0zM470.54,343.36h10.0v10.0h-10.0zM471.53,340.05h10.0v10.0h-10.0zM472.52,337.03h10.0v10.0h-10.0zM473.52,334.11h10.0v10.0h-10.0zM474.51,331.19h10.0v10.0h-10.0zM475.5,328.61h10.0v10.0h-10.0zM476.49,327.03h10.0v10.0h-10.0zM477.48,325.44h10.0v10.0h-10.0zM478.97,323.07h10.0v10.0h-10.0zM480.95,320.4h10.0v10.0h-10.0zM483.43,318.94h10.0v10.0h-10.0zM486.9,317.89h10.0v10.0h-10.0zM490.37,317.24h10.0v10.0h-10.0zM494.33,318.11h10.0v10.0h-10.0zM498.3,319.43h10.0v10.0h-10.0zM501.76,321.47h10.0v10.0h-10.0zM505.73,324.58h10.0v10.0h-10.0zM510.68,329.07h10.0v10.0h-10.0zM517.13,334.83h10.0v10.0h-10.0zM530.01,341.16h10.0v10.0h-10.0zM551.32,345.83h10.0v10.0h-10.0zM571.15,356.16h10.0v10.0h-10.0zM591.46,347.49h10.0v10.0h-10.0zM611.78,376.83h10.0v10.0h-10.0zM631.61,372.83h10.0v10.0h-10.0zM651.43,369.17h10.0v10.0h-10.0z" fill="none" stroke="#0000ff" stroke-width="1.45"/>
<path d="M473.56,350.53l1.09,2.9 3.09,0.14 -2.42,1.93 0.83,2.99 -2.59,-1.71 -2.59,1.71 0.83,-2.99 -2.42,-1.93 3.09,-0.14zM474.55,347.28l1.09,2.9 3.1,0.14 -2.43,1.93 0.83,2.99 -2.59,-1.72 -2.58,1.72 0.82,-2.99 -2.42,-1.93 3.1,-0.14zM475.54,343.96l1.09,2.91 3.1,0.13 -2.43,1.93 0.83,2.99 -2.59,-1.71 -2.58,1.71 0.83,-2.99 -2.43,-1.93 3.1,-0.13zM476.53,340.65l1.09,2.9 3.1,0.14 -2.43,1.93 0.83,2.99 -2.59,-1.72 -2.58,1.72 0.83,-2.99 -2.43,-1.93 3.1,-0.14zM477.52,337.63l1.09,2.9 3.1,0.14 -2.43,1.93 0.83,2.99 -2.59,-1.71 -2.58,1.71 0.83,-2.99 -2.43,-1.93 3.1,-0.14zM478.52,334.71l1.08,2.91 3.1,0.13 -2.43,1.93 0.83,2.99 -2.58,-1.71 -2.59,1.71 0.83,-2.99 -2.43,-1.93 3.1,-0.13zM479.51,331.79l1.08,2.91 3.1,0.13 -2.43,1.94 0.83,2.98 -2.58,-1.71 -2.59,1.71 0.83,-2.98 -2.43,-1.94 3.1,-0.13zM480.5,329.21l1.08,2.91 3.1,0.13 -2.42,1.93 0.82,2.99 -2.58,-1.71 -2.59,1.71 0.83,-2.99 -2.43,-1.93 3.1,-0.13zM481.49,327.63l1.09,2.9 3.09,0.14 -2.42,1.93 0.83,2.99 -2.59,-1.72 -2.59,1.72 0.83,-2.99 -2.43,-1.93 3.1,-0.14zM482.48,326.04l1.09,2.91 3.1,0.13 -2.43,1.93 0.83,2.99 -2.59,-1.71 -2.59,1.71 0.83,-2.99 -2.42,-1.93 3.09,-0.13zM483.97,323.67l1.08,2.9 3.1,0.14 -2.43,1.93 0.83,2.99 -2.58,-1.71 -2.59,1.71 0.83,-2.99 -2.43,-1.93 3.1,-0.14zM485.95,321l1.09,2.91 3.09,0.13 -2.42,1.93 0.83,2.99 -2.59,-1.71 -2.59,1.71 0.83,-2.99 -2.42,-1.93 3.09,-0.13zM488.43,319.54l1.08,2.91 3.1,0.13 -2.42,1.93 0.82,2.99 -2.58,-1.71 -2.59,1.71 0.83,-2.99 -2.43,-1.93 3.1,-0.13zM491.9,318.49l1.08,2.91 3.1,0.13 -2.43,1.93 0.83,2.99 -2.58,-1.71 -2.59,1.71 0.83,-2.99 -2.43,-1.93 3.1,-0.13zM495.37,317.84l1.08,2.9 3.1,0.14 -2.43,1.93 0.83,2.99 -2.58,-1.71 -2.59,1.71 0.83,-2.99 -2.43,-1.93 3.1,-0.14zM499.33,318.71l1.09,2.9 3.1,0.14 -2.43,1.93 0.83,2.99 -2.59,-1.72 -2.59,1.72 0.83,-2.99 -2.42,-1.93 3.09,-0.14zM503.3,320.03l1.08,2.9 3.1,0.14 -2.43,1.93 0.83,2.99 -2.58,-1.72 -2.59,1.72 0.83,-2.99 -2.43,-1.93 3.1,-0.14zM506.76,322.07l1.09,2.9 3.1,0.14 -2.43,1.93 0.83,2.99 -2.59,-1.72 -2.58,1.72 0.83,-2.99 -2.43,-1.93 3.1,-0.14zM510.73,325.18l1.09,2.9 3.09,0.14 -2.42,1.93 0.83,2.99 -2.59,-1.72 -2.59,1.72 0.83,-2.99 -2.43,-1.93 3.1,-0.14zM515.68,329.67l1.09,2.91 3.1,0.13 -2.43,1.94 0.83,2.98 -2.59,-1.71 -2.58,1.71 0.83,-2.98 -2.43,-1.94 3.1,-0.13zM522.13,335.43l1.08,2.9 3.1,0.14 -2.43,1.93 0.83,2.98 -2.58,-1.71 -2.59,1.71 0.83,-2.98 -2.43,-1.93 3.1,-0.14zM535.01,341.76l1.09,2.9 3.1,0.14 -2.43,1.93 0.83,2.99 -2.59,-1.71 -2.58,1.71 0.82,-2.99 -2.42,-1.93 3.1,-0.14zM556.32,346.43l1.09,2.9 3.1,0.14 -2.43,1.93 0.83,2.99 -2.59,-1.71 -2.58,1.71 0.82,-2.99 -2.42,-1.93 3.1,-0.14zM576.15,356.76l1.08,2.91 3.1,0.13 -2.43,1.93 0.83,2.99 -2.58,-1.71 -2.59,1.71 0.83,-2.99 -2.43,-1.93 3.1,-0.13zM596.46,348.09l1.09,2.91 3.1,0.13 -2.43,1.94 0.83,2.98 -2.59,-1.71 -2.58,1.71 0.83,-2.98 -2.43,-1.94 3.1,-0.13zM616.78,377.43l1.09,2.91 3.1,0.13 -2.43,1.93 0.83,2.99 -2.59,-1.71 -2.58,1.71 0.83,-2.99 -2.43,-1.93 3.1,-0.13zM636.61,353.76l1.08,2.91 3.1,0.13 -2.43,1.93 0.83,2.99 -2.58,-1.71 -2.59,1.71 0.83,-2.99 -2.43,-1.93 3.1,-0.13zM656.43,355.76l1.09,2.91 3.09,0.13 -2.42,1.93 0.83,2.99 -2.59,-1.71 -2.59,1.71 0.83,-2.99 -2.42,-1.93 3.09,-0.13z" fill="#ff0000"/>
<path d="M473.56,349.43l1.36,3.63 3.87,0.17 -3.03,2.41 1.03,3.74 -3.23,-2.14 -3.23,2.14 1.03,-3.74 -3.03,-2.41 3.87,-0.17zM474.55,346.18l1.36,3.63 3.87,0.17 -3.03,2.41 1.03,3.74 -3.23,-2.14 -3.23,2.14 1.03,-3.74 -3.03,-2.41 3.87,-0.17zM475.54,342.86l1.36,3.63 3.87,0.17 -3.03,2.42 1.04,3.73 -3.24,-2.14 -3.23,2.14 1.04,-3.73 -3.04,-2.42 3.87,-0.17zM476.53,339.55l1.36,3.63 3.87,0.17 -3.03,2.41 1.04,3.74 -3.24,-2.14 -3.23,2.14 1.04,-3.74 -3.04,-2.41 3.88,-0.17zM477.52,336.53l1.36,3.63 3.88,0.17 -3.04,2.41 1.04,3.74 -3.24,-2.14 -3.23,2.14 1.04,-3.74 -3.04,-2.41 3.88,-0.17zM478.52,333.61l1.35,3.63 3.88,0.17 -3.04,2.42 1.04,3.73 -3.23,-2.14 -3.24,2.14 1.04,-3.73 -3.03,-2.42 3.87,-0.17zM479.51,330.69l1.35,3.64 3.88,0.16 -3.04,2.42 1.04,3.73 -3.23,-2.14 -3.24,2.14 1.04,-3.73 -3.03,-2.42 3.87,-0.16zM480.5,328.11l1.36,3.63 3.87,0.17 -3.03,2.41 1.03,3.74 -3.23,-2.14 -3.23,2.14 1.03,-3.74 -3.03,-2.41 3.87,-0.17zM481.49,326.53l1.36,3.63 3.87,0.17 -3.03,2.41 1.03,3.74 -3.23,-2.14 -3.23,2.14 1.03,-3.74 -3.03,-2.41 3.87,-0.17zM482.48,324.94l1.36,3.63 3.87,0.17 -3.03,2.42 1.03,3.73 -3.23,-2.14 -3.23,2.14 1.03,-3.73 -3.03,-2.42 3.87,-0.17zM483.97,322.57l1.36,3.63 3.87,0.17 -3.04,2.41 1.04,3.74 -3.23,-2.14 -3.24,2.14 1.04,-3.74 -3.03,-2.41 3.87,-0.17zM485.95,319.9l1.36,3.63 3.87,0.17 -3.03,2.41 1.03,3.74 -3.23,-2.14 -3.23,2.14 1.03,-3.74 -3.03,-2.41 3.87,-0.17zM488.43,318.44l1.36,3.63 3.87,0.17 -3.04,2.42 1.04,3.73 -3.23,-2.14 -3.24,2.14 1.04,-3.73 -3.03,-2.42 3.87,-0.17zM491.9,317.39l1.35,3.63 3.88,0.17 -3.04,2.42 1.04,3.73 -3.23,-2.14 -3.24,2.14 1.04,-3.73 -3.03,-2.42 3.87,-0.17zM495.37,316.74l1.35,3.63 3.88,0.17 -3.04,2.41 1.04,3.74 -3.23,-2.14 -3.24,2.14 1.04,-3.74 -3.03,-2.41 3.87,-0.17zM499.33,317.61l1.36,3.63 3.87,0.17 -3.03,2.41 1.03,3.74 -3.23,-2.14 -3.23,2.14 1.03,-3.74 -3.03,-2.41 3.87,-0.17zM503.3,318.93l1.35,3.63 3.88,0.17 -3.04,2.41 1.04,3.74 -3.23,-2.14 -3.24,2.14 1.04,-3.74 -3.04,-2.41 3.88,-0.17zM506.76,320.97l1.36,3.63 3.87,0.17 -3.03,2.41 1.04,3.74 -3.24,-2.14 -3.23,2.14 1.04,-3.74 -3.04,-2.41 3.88,-0.17zM510.73,324.08l1.36,3.63 3.87,0.17 -3.03,2.41 1.03,3.74 -3.23,-2.14 -3.23,2.14 1.03,-3.74 -3.03,-2.41 3.87,-0.17zM515.68,328.57l1.36,3.64 3.88,0.16 -3.04,2.42 1.04,3.73 -3.24,-2.14 -3.23,2.14 1.04,-3.73 -3.04,-2.42 3.88,-0.16zM522.13,334.33l1.35,3.63 3.88,0.17 -3.04,2.41 1.04,3.73 -3.23,-2.13 -3.24,2.13 1.04,-3.73 -3.03,-2.41 3.87,-0.17zM535.01,340.66l1.36,3.63 3.87,0.17 -3.03,2.41 1.04,3.74 -3.24,-2.14 -3.23,2.14 1.04,-3.74 -3.04,-2.41 3.87,-0.17zM556.32,345.33l1.36,3.63 3.87,0.17 -3.03,2.41 1.04,3.74 -3.24,-2.14 -3.23,2.14 1.04,-3.74 -3.04,-2.41 3.87,-0.17zM576.15,355.66l1.35,3.63 3.88,0.17 -3.04,2.42 1.04,3.73 -3.23,-2.14 -3.24,2.14 1.04,-3.73 -3.04,-2.42 3.88,-0.17zM596.46,346.99l1.36,3.64 3.88,0.16 -3.04,2.42 1.04,3.73 -3.24,-2.14 -3.23,2.14 1.04,-3.73 -3.04,-2.42 3.88,-0.16zM616.78,376.33l1.36,3.63 3.87,0.17 -3.03,2.42 1.04,3.73 -3.24,-2.14 -3.23,2.14 1.04,-3.73 -3.04,-2.42 3.88,-0.17zM636.61,371l1.35,3.63 3.88,0.17 -3.04,2.41 1.04,3.74 -3.23,-2.14 -3.24,2.14 1.04,-3.74 -3.03,-2.41 3.87,-0.17zM656.43,367.67l1.36,3.63 3.87,0.17 -3.03,2.41 1.03,3.73 -3.23,-2.13 -3.23,2.13 1.03,-3.73 -3.03,-2.41 3.87,-0.17z" fill="none" stroke="#ff00ff" stroke-width="1.5" stroke-linejoin="round"/>
</g>
<g clip-path="url(#c40)">
<polyline points="42.8,463.89 43.8,462.51 44.8,461.13 45.8,459.86 46.8,458.66 47.8,457.46 48.8,456.59 49.8,456 50.8,455.4 51.8,454.81 53.3,454.09 55.3,453.81 57.8,453.66 61.3,453.71 64.8,453.88 68.8,454.26 72.8,454.81 76.3,455.87 80.3,457.48 85.3,459.8 91.8,462.78 104.8,465.21 126.3,467.04 146.3,471.92 166.8,467.04 187.3,475.08 207.3,478.25 227.3,471.92" fill="none" stroke="#222" stroke-width="1.0" />
<polyline points="42.8,466.49 43.8,465.11 44.8,463.73 45.8,462.46 46.8,461.26 47.8,460.06 48.8,459.19 49.8,458.6 50.8,458 51.8,457.41 53.3,456.69 55.3,456.41 57.8,456.26 61.3,456.31 64.8,456.48 68.8,456.86 72.8,457.41 76.3,458.47 80.3,460.08 85.3,462.4 91.8,465.38 104.8,467.81 126.3,469.64 146.3,474.52 166.8,469.64 187.3,477.68 207.3,480.85 227.3,474.52" fill="none" stroke="#222" stroke-width="1.0" />
<polyline points="42.8,462.87 43.8,461.36 44.8,459.84 45.8,458.46 46.8,457.13 47.8,455.81 48.8,454.87 49.8,454.21 50.8,453.56 51.8,452.91 53.3,452.11 55.3,451.81 57.8,451.65 61.3,451.71 64.8,451.69 68.8,451.79 72.8,451.94 76.3,452.22 80.3,452.65 85.3,453.27 91.8,454.06 104.8,454.3 126.3,454.24 146.3,454.46 166.8,450.65 187.3,450.75 207.3,450.36 227.3,443.88" fill="none" stroke="#111" stroke-width="1.0" />
<polyline points="42.8,464.87 43.8,463.36 44.8,461.84 45.8,460.46 46.8,459.13 47.8,457.81 48.8,456.87 49.8,456.21 50.8,455.56 51.8,454.91 53.3,454.11 55.3,453.81 57.8,453.65 61.3,453.71 64.8,453.69 68.8,453.79 72.8,453.94 76.3,454.22 80.3,454.65 85.3,455.27 91.8,456.06 104.8,456.3 126.3,456.37 146.3,456.88 166.8,453.37 187.3,453.77 207.3,453.67 227.3,447.48" fill="none" stroke="#111" stroke-width="1.0" />
<line x1="126.3" y1="467.12" x2="126.3" y2="469.56" stroke="#000" stroke-width="1.7"/>
<line x1="146.3" y1="471.39" x2="146.3" y2="475.04" stroke="#000" stroke-width="1.7"/>
<line x1="166.8" y1="459.81" x2="166.8" y2="476.87" stroke="#000" stroke-width="1.7"/>
<line x1="187.3" y1="461.76" x2="187.3" y2="491.01" stroke="#000" stroke-width="1.7"/>
<line x1="207.3" y1="467.37" x2="207.3" y2="491.74" stroke="#000" stroke-width="1.7"/>
<line x1="227.3" y1="459.81" x2="227.3" y2="486.62" stroke="#000" stroke-width="1.7"/>
<line x1="227.3" y1="442.02" x2="227.3" y2="449.33" stroke="#000" stroke-width="1.4"/>
<path d="M42.8,465.19h0M43.8,463.81h0M44.8,462.43h0M45.8,461.16h0M46.8,459.96h0M47.8,458.76h0M48.8,457.89h0M49.8,457.3h0M50.8,456.7h0M51.8,456.11h0M53.3,455.39h0M55.3,455.11h0M57.8,454.96h0M61.3,455.01h0M64.8,455.18h0M68.8,455.56h0M72.8,456.11h0M76.3,457.17h0M80.3,458.78h0M85.3,461.1h0M91.8,464.08h0M104.8,466.51h0M126.3,468.34h0M146.3,473.22h0M166.8,468.34h0M187.3,476.38h0M207.3,479.55h0M227.3,473.22h0" stroke="#000" stroke-width="7" stroke-linecap="round"/>
<path d="M39.2,463.87a3.6,3.6 0 1,0 7.2,0a3.6,3.6 0 1,0 -7.2,0M40.2,462.36a3.6,3.6 0 1,0 7.2,0a3.6,3.6 0 1,0 -7.2,0M41.2,460.84a3.6,3.6 0 1,0 7.2,0a3.6,3.6 0 1,0 -7.2,0M42.2,459.46a3.6,3.6 0 1,0 7.2,0a3.6,3.6 0 1,0 -7.2,0M43.2,458.13a3.6,3.6 0 1,0 7.2,0a3.6,3.6 0 1,0 -7.2,0M44.2,456.81a3.6,3.6 0 1,0 7.2,0a3.6,3.6 0 1,0 -7.2,0M45.2,455.87a3.6,3.6 0 1,0 7.2,0a3.6,3.6 0 1,0 -7.2,0M46.2,455.21a3.6,3.6 0 1,0 7.2,0a3.6,3.6 0 1,0 -7.2,0M47.2,454.56a3.6,3.6 0 1,0 7.2,0a3.6,3.6 0 1,0 -7.2,0M48.2,453.91a3.6,3.6 0 1,0 7.2,0a3.6,3.6 0 1,0 -7.2,0M49.7,453.11a3.6,3.6 0 1,0 7.2,0a3.6,3.6 0 1,0 -7.2,0M51.7,452.81a3.6,3.6 0 1,0 7.2,0a3.6,3.6 0 1,0 -7.2,0M54.2,452.65a3.6,3.6 0 1,0 7.2,0a3.6,3.6 0 1,0 -7.2,0M57.7,452.71a3.6,3.6 0 1,0 7.2,0a3.6,3.6 0 1,0 -7.2,0M61.2,452.69a3.6,3.6 0 1,0 7.2,0a3.6,3.6 0 1,0 -7.2,0M65.2,452.79a3.6,3.6 0 1,0 7.2,0a3.6,3.6 0 1,0 -7.2,0M69.2,452.94a3.6,3.6 0 1,0 7.2,0a3.6,3.6 0 1,0 -7.2,0M72.7,453.22a3.6,3.6 0 1,0 7.2,0a3.6,3.6 0 1,0 -7.2,0M76.7,453.65a3.6,3.6 0 1,0 7.2,0a3.6,3.6 0 1,0 -7.2,0M81.7,454.27a3.6,3.6 0 1,0 7.2,0a3.6,3.6 0 1,0 -7.2,0M88.2,455.06a3.6,3.6 0 1,0 7.2,0a3.6,3.6 0 1,0 -7.2,0M101.2,455.3a3.6,3.6 0 1,0 7.2,0a3.6,3.6 0 1,0 -7.2,0M122.7,455.3a3.6,3.6 0 1,0 7.2,0a3.6,3.6 0 1,0 -7.2,0M142.7,455.67a3.6,3.6 0 1,0 7.2,0a3.6,3.6 0 1,0 -7.2,0M163.2,452.01a3.6,3.6 0 1,0 7.2,0a3.6,3.6 0 1,0 -7.2,0M183.7,452.26a3.6,3.6 0 1,0 7.2,0a3.6,3.6 0 1,0 -7.2,0M203.7,452.01a3.6,3.6 0 1,0 7.2,0a3.6,3.6 0 1,0 -7.2,0M223.7,445.68a3.6,3.6 0 1,0 7.2,0a3.6,3.6 0 1,0 -7.2,0" fill="none" stroke="#000" stroke-width="1.2"/>
<polyline points="42.8,468.62 43.8,467.51 44.8,466.39 45.8,465.38 46.8,464.4 47.8,463.43 48.8,462.72 49.8,462.22 50.8,461.73 51.8,461.23 53.3,460.62 55.3,460.34 57.8,460.15 61.3,460.12 64.8,460.21 68.8,460.46 72.8,460.81 76.3,461.48 80.3,462.51 85.3,464 91.8,465.9 104.8,467.37 126.3,466.88 146.3,469.56 166.8,470.9 187.3,452.99 207.3,479.67 227.3,460.18" fill="none" stroke="#ff00ff" stroke-width="1.3" />
<polyline points="42.8,468.62 43.8,467.51 44.8,466.39 45.8,465.38 46.8,464.4 47.8,463.43 48.8,462.72 49.8,462.22 50.8,461.73 51.8,461.23 53.3,460.62 55.3,460.34 57.8,460.15 61.3,460.12 64.8,460.21 68.8,460.46 72.8,460.81 76.3,461.48 80.3,462.51 85.3,464 91.8,465.9 104.8,467.37 126.3,466.88 146.3,469.56 166.8,470.9 187.3,452.99 207.3,479.67 227.3,460.18" fill="none" stroke="#0000ff" stroke-width="1.9" />
<polyline points="42.8,468.62 43.8,467.51 44.8,466.39 45.8,465.38 46.8,464.4 47.8,463.43 48.8,462.72 49.8,462.22 50.8,461.73 51.8,461.23 53.3,460.62 55.3,460.34 57.8,460.15 61.3,460.12 64.8,460.21 68.8,460.46 72.8,460.81 76.3,461.48 80.3,462.51 85.3,464 91.8,465.9 104.8,467.37 126.3,466.88 146.3,469.56 166.8,470.9 187.3,462.37 207.3,479.67 227.3,460.18" fill="none" stroke="#ff0000" stroke-width="1.1" />
<path d="M37.8,463.62h10.0v10.0h-10.0zM38.8,462.51h10.0v10.0h-10.0zM39.8,461.39h10.0v10.0h-10.0zM40.8,460.38h10.0v10.0h-10.0zM41.8,459.4h10.0v10.0h-10.0zM42.8,458.43h10.0v10.0h-10.0zM43.8,457.72h10.0v10.0h-10.0zM44.8,457.22h10.0v10.0h-10.0zM45.8,456.73h10.0v10.0h-10.0zM46.8,456.23h10.0v10.0h-10.0zM48.3,455.62h10.0v10.0h-10.0zM50.3,455.34h10.0v10.0h-10.0zM52.8,455.15h10.0v10.0h-10.0zM56.3,455.12h10.0v10.0h-10.0zM59.8,455.21h10.0v10.0h-10.0zM63.8,455.46h10.0v10.0h-10.0zM67.8,455.81h10.0v10.0h-10.0zM71.3,456.48h10.0v10.0h-10.0zM75.3,457.51h10.0v10.0h-10.0zM80.3,459h10.0v10.0h-10.0zM86.8,460.9h10.0v10.0h-10.0zM99.8,462.37h10.0v10.0h-10.0zM121.3,461.88h10.0v10.0h-10.0zM141.3,464.56h10.0v10.0h-10.0zM161.8,465.9h10.0v10.0h-10.0zM182.3,447.99h10.0v10.0h-10.0zM202.3,474.67h10.0v10.0h-10.0zM222.3,455.18h10.0v10.0h-10.0z" fill="none" stroke="#0000ff" stroke-width="1.45"/>
<path d="M42.8,464.22l1.09,2.91 3.09,0.13 -2.42,1.93 0.83,2.99 -2.59,-1.71 -2.59,1.71 0.83,-2.99 -2.42,-1.93 3.09,-0.13zM43.8,463.11l1.09,2.91 3.09,0.13 -2.42,1.93 0.83,2.99 -2.59,-1.71 -2.59,1.71 0.83,-2.99 -2.42,-1.93 3.09,-0.13zM44.8,461.99l1.09,2.91 3.09,0.13 -2.42,1.94 0.83,2.98 -2.59,-1.71 -2.59,1.71 0.83,-2.98 -2.42,-1.94 3.09,-0.13zM45.8,460.98l1.09,2.9 3.09,0.14 -2.42,1.93 0.83,2.98 -2.59,-1.71 -2.59,1.71 0.83,-2.98 -2.42,-1.93 3.09,-0.14zM46.8,460l1.09,2.91 3.09,0.13 -2.42,1.93 0.83,2.99 -2.59,-1.71 -2.59,1.71 0.83,-2.99 -2.42,-1.93 3.09,-0.13zM47.8,459.03l1.09,2.9 3.09,0.14 -2.42,1.93 0.83,2.99 -2.59,-1.72 -2.59,1.72 0.83,-2.99 -2.42,-1.93 3.09,-0.14zM48.8,458.32l1.09,2.9 3.09,0.14 -2.42,1.93 0.83,2.99 -2.59,-1.71 -2.59,1.71 0.83,-2.99 -2.42,-1.93 3.09,-0.14zM49.8,457.82l1.09,2.91 3.09,0.13 -2.42,1.93 0.83,2.99 -2.59,-1.71 -2.59,1.71 0.83,-2.99 -2.42,-1.93 3.09,-0.13zM50.8,457.33l1.09,2.9 3.09,0.14 -2.42,1.93 0.83,2.99 -2.59,-1.72 -2.59,1.72 0.83,-2.99 -2.42,-1.93 3.09,-0.14zM51.8,456.83l1.09,2.9 3.09,0.14 -2.42,1.93 0.83,2.99 -2.59,-1.71 -2.59,1.71 0.83,-2.99 -2.42,-1.93 3.09,-0.14zM53.3,456.22l1.09,2.9 3.09,0.14 -2.42,1.93 0.83,2.99 -2.59,-1.72 -2.59,1.72 0.83,-2.99 -2.42,-1.93 3.09,-0.14zM55.3,455.94l1.09,2.9 3.09,0.14 -2.42,1.93 0.83,2.99 -2.59,-1.71 -2.59,1.71 0.83,-2.99 -2.42,-1.93 3.09,-0.14zM57.8,455.75l1.09,2.91 3.09,0.13 -2.42,1.93 0.83,2.99 -2.59,-1.71 -2.59,1.71 0.83,-2.99 -2.42,-1.93 3.09,-0.13zM61.3,455.72l1.09,2.9 3.09,0.14 -2.42,1.93 0.83,2.98 -2.59,-1.71 -2.59,1.71 0.83,-2.98 -2.42,-1.93 3.09,-0.14zM64.8,455.81l1.09,2.9 3.09,0.14 -2.42,1.93 0.83,2.99 -2.59,-1.71 -2.59,1.71 0.83,-2.99 -2.42,-1.93 3.09,-0.14zM68.8,456.06l1.09,2.9 3.09,0.14 -2.42,1.93 0.83,2.99 -2.59,-1.72 -2.59,1.72 0.83,-2.99 -2.42,-1.93 3.09,-0.14zM72.8,456.41l1.09,2.9 3.09,0.14 -2.42,1.93 0.83,2.99 -2.59,-1.71 -2.59,1.71 0.83,-2.99 -2.42,-1.93 3.09,-0.14zM76.3,457.08l1.09,2.91 3.09,0.13 -2.42,1.93 0.83,2.99 -2.59,-1.71 -2.59,1.71 0.83,-2.99 -2.42,-1.93 3.09,-0.13zM80.3,458.11l1.09,2.91 3.09,0.13 -2.42,1.93 0.83,2.99 -2.59,-1.71 -2.59,1.71 0.83,-2.99 -2.42,-1.93 3.09,-0.13zM85.3,459.6l1.09,2.91 3.09,0.13 -2.42,1.93 0.83,2.99 -2.59,-1.71 -2.59,1.71 0.83,-2.99 -2.42,-1.93 3.09,-0.13zM91.8,461.5l1.09,2.91 3.09,0.14 -2.42,1.93 0.83,2.98 -2.59,-1.71 -2.59,1.71 0.83,-2.98 -2.42,-1.93 3.09,-0.14zM104.8,462.97l1.09,2.9 3.09,0.14 -2.42,1.93 0.83,2.99 -2.59,-1.71 -2.59,1.71 0.83,-2.99 -2.42,-1.93 3.09,-0.14zM126.3,462.48l1.09,2.9 3.09,0.14 -2.42,1.93 0.83,2.99 -2.59,-1.71 -2.59,1.71 0.83,-2.99 -2.42,-1.93 3.09,-0.14zM146.3,465.16l1.09,2.91 3.09,0.13 -2.42,1.93 0.83,2.99 -2.59,-1.71 -2.59,1.71 0.83,-2.99 -2.42,-1.93 3.09,-0.13zM166.8,466.5l1.09,2.91 3.09,0.13 -2.42,1.93 0.83,2.99 -2.59,-1.71 -2.59,1.71 0.83,-2.99 -2.42,-1.93 3.09,-0.13zM187.3,457.97l1.09,2.91 3.09,0.13 -2.42,1.93 0.83,2.99 -2.59,-1.71 -2.59,1.71 0.83,-2.99 -2.42,-1.93 3.09,-0.13zM207.3,475.27l1.09,2.91 3.09,0.14 -2.42,1.93 0.83,2.98 -2.59,-1.71 -2.59,1.71 0.83,-2.98 -2.42,-1.93 3.09,-0.14zM227.3,455.78l1.09,2.9 3.09,0.14 -2.42,1.93 0.83,2.99 -2.59,-1.71 -2.59,1.71 0.83,-2.99 -2.42,-1.93 3.09,-0.14z" fill="#ff0000"/>
<path d="M42.8,463.12l1.36,3.63 3.87,0.17 -3.03,2.41 1.03,3.74 -3.23,-2.14 -3.23,2.14 1.03,-3.74 -3.03,-2.41 3.87,-0.17zM43.8,462.01l1.36,3.63 3.87,0.17 -3.03,2.42 1.03,3.73 -3.23,-2.14 -3.23,2.14 1.03,-3.73 -3.03,-2.42 3.87,-0.17zM44.8,460.89l1.36,3.64 3.87,0.16 -3.03,2.42 1.03,3.73 -3.23,-2.14 -3.23,2.14 1.03,-3.73 -3.03,-2.42 3.87,-0.16zM45.8,459.88l1.36,3.63 3.87,0.17 -3.03,2.41 1.03,3.73 -3.23,-2.13 -3.23,2.13 1.03,-3.73 -3.03,-2.41 3.87,-0.17zM46.8,458.9l1.36,3.63 3.87,0.17 -3.03,2.41 1.03,3.74 -3.23,-2.14 -3.23,2.14 1.03,-3.74 -3.03,-2.41 3.87,-0.17zM47.8,457.93l1.36,3.63 3.87,0.17 -3.03,2.41 1.03,3.74 -3.23,-2.14 -3.23,2.14 1.03,-3.74 -3.03,-2.41 3.87,-0.17zM48.8,457.22l1.36,3.63 3.87,0.17 -3.03,2.41 1.03,3.74 -3.23,-2.14 -3.23,2.14 1.03,-3.74 -3.03,-2.41 3.87,-0.17zM49.8,456.72l1.36,3.63 3.87,0.17 -3.03,2.42 1.03,3.73 -3.23,-2.14 -3.23,2.14 1.03,-3.73 -3.03,-2.42 3.87,-0.17zM50.8,456.23l1.36,3.63 3.87,0.17 -3.03,2.41 1.03,3.74 -3.23,-2.14 -3.23,2.14 1.03,-3.74 -3.03,-2.41 3.87,-0.17zM51.8,455.73l1.36,3.63 3.87,0.17 -3.03,2.41 1.03,3.74 -3.23,-2.14 -3.23,2.14 1.03,-3.74 -3.03,-2.41 3.87,-0.17zM53.3,455.12l1.36,3.63 3.87,0.17 -3.03,2.41 1.03,3.74 -3.23,-2.14 -3.23,2.14 1.03,-3.74 -3.03,-2.41 3.87,-0.17zM55.3,454.84l1.36,3.63 3.87,0.17 -3.03,2.41 1.03,3.74 -3.23,-2.14 -3.23,2.14 1.03,-3.74 -3.03,-2.41 3.87,-0.17zM57.8,454.65l1.36,3.63 3.87,0.17 -3.03,2.42 1.03,3.73 -3.23,-2.14 -3.23,2.14 1.03,-3.73 -3.03,-2.42 3.87,-0.17zM61.3,454.62l1.36,3.63 3.87,0.17 -3.03,2.41 1.03,3.73 -3.23,-2.13 -3.23,2.13 1.03,-3.73 -3.03,-2.41 3.87,-0.17zM64.8,454.71l1.36,3.63 3.87,0.17 -3.03,2.41 1.03,3.74 -3.23,-2.14 -3.23,2.14 1.03,-3.74 -3.03,-2.41 3.87,-0.17zM68.8,454.96l1.36,3.63 3.87,0.17 -3.03,2.41 1.03,3.74 -3.23,-2.14 -3.23,2.14 1.03,-3.74 -3.03,-2.41 3.87,-0.17zM72.8,455.31l1.36,3.63 3.87,0.17 -3.03,2.41 1.03,3.74 -3.23,-2.14 -3.23,2.14 1.03,-3.74 -3.03,-2.41 3.87,-0.17zM76.3,455.98l1.36,3.63 3.87,0.17 -3.03,2.42 1.03,3.73 -3.23,-2.14 -3.23,2.14 1.03,-3.73 -3.03,-2.42 3.87,-0.17zM80.3,457.01l1.36,3.63 3.87,0.17 -3.03,2.42 1.03,3.73 -3.23,-2.14 -3.23,2.14 1.03,-3.73 -3.03,-2.42 3.87,-0.17zM85.3,458.5l1.36,3.63 3.87,0.17 -3.03,2.41 1.03,3.74 -3.23,-2.14 -3.23,2.14 1.03,-3.74 -3.03,-2.41 3.87,-0.17zM91.8,460.4l1.36,3.64 3.87,0.17 -3.03,2.41 1.03,3.73 -3.23,-2.14 -3.23,2.14 1.03,-3.73 -3.03,-2.41 3.87,-0.17zM104.8,461.87l1.36,3.63 3.87,0.17 -3.03,2.41 1.03,3.74 -3.23,-2.14 -3.23,2.14 1.03,-3.74 -3.03,-2.41 3.87,-0.17zM126.3,461.38l1.36,3.63 3.87,0.17 -3.03,2.41 1.03,3.74 -3.23,-2.14 -3.23,2.14 1.03,-3.74 -3.03,-2.41 3.87,-0.17zM146.3,464.06l1.36,3.63 3.87,0.17 -3.03,2.41 1.03,3.74 -3.23,-2.14 -3.23,2.14 1.03,-3.74 -3.03,-2.41 3.87,-0.17zM166.8,465.4l1.36,3.63 3.87,0.17 -3.03,2.41 1.03,3.74 -3.23,-2.14 -3.23,2.14 1.03,-3.74 -3.03,-2.41 3.87,-0.17zM187.3,447.49l1.36,3.63 3.87,0.17 -3.03,2.41 1.03,3.74 -3.23,-2.14 -3.23,2.14 1.03,-3.74 -3.03,-2.41 3.87,-0.17zM207.3,474.17l1.36,3.64 3.87,0.17 -3.03,2.41 1.03,3.73 -3.23,-2.14 -3.23,2.14 1.03,-3.73 -3.03,-2.41 3.87,-0.17zM227.3,454.68l1.36,3.63 3.87,0.17 -3.03,2.41 1.03,3.74 -3.23,-2.14 -3.23,2.14 1.03,-3.74 -3.03,-2.41 3.87,-0.17z" fill="none" stroke="#ff00ff" stroke-width="1.5" stroke-linejoin="round"/>
</g>
<g clip-path="url(#c41)">
<polyline points="257.82,471.98 258.82,471.12 259.82,470.26 260.83,469.4 261.83,468.55 262.84,467.69 263.84,466.83 264.84,465.97 265.85,465.12 266.85,464.29 268.36,463.14 270.36,461.59 272.87,459.98 276.39,458.28 279.9,457.39 283.91,457.37 287.93,457.87 291.44,458.47 295.46,459.39 300.47,460.73 307,462.43 320.05,465.36 341.63,463.34 361.7,466.24 382.28,470.6 402.85,475.94 422.93,475.18 443,468.46" fill="none" stroke="#222" stroke-width="1.0" />
<polyline points="257.82,474.78 258.82,473.92 259.82,473.06 260.83,472.2 261.83,471.35 262.84,470.49 263.84,469.63 264.84,468.77 265.85,467.92 266.85,467.09 268.36,465.94 270.36,464.39 272.87,462.78 276.39,461.08 279.9,460.19 283.91,460.17 287.93,460.67 291.44,461.27 295.46,462.19 300.47,463.53 307,465.23 320.05,468.16 341.63,466.27 361.7,469.47 382.28,474.12 402.85,479.76 422.93,479.29 443,472.86" fill="none" stroke="#222" stroke-width="1.0" />
<polygon points="257.82,461.06 258.82,459.11 259.82,457.16 260.83,455.82 261.83,455.09 262.84,454.36 263.84,453.62 264.84,452.89 265.85,452.35 266.85,452.01 268.36,451.48 270.36,450.79 272.87,449.98 276.39,449.24 279.9,448.49 283.91,447.94 287.93,447.42 291.44,446.83 295.46,445.95 300.47,445.62 307,444.73 320.05,441.32 341.63,436.57 361.7,432.05 382.28,425.82 402.85,425.56 422.93,423.11 443,413.11 443,419.51 422.93,429 402.85,430.94 382.28,430.68 361.7,436.39 341.63,440.4 320.05,444.92 307,448.33 300.47,449.22 295.46,449.55 291.44,450.43 287.93,451.02 283.91,451.54 279.9,452.09 276.39,452.84 272.87,453.58 270.36,454.39 268.36,455.08 266.85,455.61 265.85,455.95 264.84,456.49 263.84,457.22 262.84,457.96 261.83,458.69 260.83,459.42 259.82,460.76 258.82,462.71 257.82,464.66" fill="#e8e8e8" stroke="none"/>
<polyline points="257.82,461.06 258.82,459.11 259.82,457.16 260.83,455.82 261.83,455.09 262.84,454.36 263.84,453.62 264.84,452.89 265.85,452.35 266.85,452.01 268.36,451.48 270.36,450.79 272.87,449.98 276.39,449.24 279.9,448.49 283.91,447.94 287.93,447.42 291.44,446.83 295.46,445.95 300.47,445.62 307,444.73 320.05,441.32 341.63,436.57 361.7,432.05 382.28,425.82 402.85,425.56 422.93,423.11 443,413.11" fill="none" stroke="#111" stroke-width="1.0" />
<polyline points="257.82,464.66 258.82,462.71 259.82,460.76 260.83,459.42 261.83,458.69 262.84,457.96 263.84,457.22 264.84,456.49 265.85,455.95 266.85,455.61 268.36,455.08 270.36,454.39 272.87,453.58 276.39,452.84 279.9,452.09 283.91,451.54 287.93,451.02 291.44,450.43 295.46,449.55 300.47,449.22 307,448.33 320.05,444.92 341.63,440.4 361.7,436.39 382.28,430.68 402.85,430.94 422.93,429 443,419.51" fill="none" stroke="#111" stroke-width="1.0" />
<line x1="341.63" y1="463.35" x2="341.63" y2="466.27" stroke="#000" stroke-width="1.7"/>
<line x1="361.7" y1="462.98" x2="361.7" y2="472.73" stroke="#000" stroke-width="1.7"/>
<line x1="382.28" y1="463.83" x2="382.28" y2="480.89" stroke="#000" stroke-width="1.7"/>
<line x1="402.85" y1="465.66" x2="402.85" y2="490.03" stroke="#000" stroke-width="1.7"/>
<line x1="422.93" y1="457.74" x2="422.93" y2="496.74" stroke="#000" stroke-width="1.7"/>
<line x1="443" y1="445.07" x2="443" y2="496.25" stroke="#000" stroke-width="1.7"/>
<path d="M257.82,473.38h0M258.82,472.52h0M259.82,471.66h0M260.83,470.8h0M261.83,469.95h0M262.84,469.09h0M263.84,468.23h0M264.84,467.37h0M265.85,466.52h0M266.85,465.69h0M268.36,464.54h0M270.36,462.99h0M272.87,461.38h0M276.39,459.68h0M279.9,458.79h0M283.91,458.77h0M287.93,459.27h0M291.44,459.87h0M295.46,460.79h0M300.47,462.13h0M307,463.83h0M320.05,466.76h0M341.63,464.81h0M361.7,467.85h0M382.28,472.36h0M402.85,477.85h0M422.93,477.24h0M443,470.66h0" stroke="#000" stroke-width="7" stroke-linecap="round"/>
<path d="M254.22,462.86a3.6,3.6 0 1,0 7.2,0a3.6,3.6 0 1,0 -7.2,0M255.22,460.91a3.6,3.6 0 1,0 7.2,0a3.6,3.6 0 1,0 -7.2,0M256.22,458.96a3.6,3.6 0 1,0 7.2,0a3.6,3.6 0 1,0 -7.2,0M257.23,457.62a3.6,3.6 0 1,0 7.2,0a3.6,3.6 0 1,0 -7.2,0M258.23,456.89a3.6,3.6 0 1,0 7.2,0a3.6,3.6 0 1,0 -7.2,0M259.24,456.16a3.6,3.6 0 1,0 7.2,0a3.6,3.6 0 1,0 -7.2,0M260.24,455.42a3.6,3.6 0 1,0 7.2,0a3.6,3.6 0 1,0 -7.2,0M261.24,454.69a3.6,3.6 0 1,0 7.2,0a3.6,3.6 0 1,0 -7.2,0M262.25,454.15a3.6,3.6 0 1,0 7.2,0a3.6,3.6 0 1,0 -7.2,0M263.25,453.81a3.6,3.6 0 1,0 7.2,0a3.6,3.6 0 1,0 -7.2,0M264.76,453.28a3.6,3.6 0 1,0 7.2,0a3.6,3.6 0 1,0 -7.2,0M266.76,452.59a3.6,3.6 0 1,0 7.2,0a3.6,3.6 0 1,0 -7.2,0M269.27,451.78a3.6,3.6 0 1,0 7.2,0a3.6,3.6 0 1,0 -7.2,0M272.79,451.04a3.6,3.6 0 1,0 7.2,0a3.6,3.6 0 1,0 -7.2,0M276.3,450.29a3.6,3.6 0 1,0 7.2,0a3.6,3.6 0 1,0 -7.2,0M280.31,449.74a3.6,3.6 0 1,0 7.2,0a3.6,3.6 0 1,0 -7.2,0M284.33,449.22a3.6,3.6 0 1,0 7.2,0a3.6,3.6 0 1,0 -7.2,0M287.84,448.63a3.6,3.6 0 1,0 7.2,0a3.6,3.6 0 1,0 -7.2,0M291.86,447.75a3.6,3.6 0 1,0 7.2,0a3.6,3.6 0 1,0 -7.2,0M296.87,447.42a3.6,3.6 0 1,0 7.2,0a3.6,3.6 0 1,0 -7.2,0M303.4,446.53a3.6,3.6 0 1,0 7.2,0a3.6,3.6 0 1,0 -7.2,0M316.45,443.12a3.6,3.6 0 1,0 7.2,0a3.6,3.6 0 1,0 -7.2,0M338.03,438.49a3.6,3.6 0 1,0 7.2,0a3.6,3.6 0 1,0 -7.2,0M358.1,434.22a3.6,3.6 0 1,0 7.2,0a3.6,3.6 0 1,0 -7.2,0M378.68,428.25a3.6,3.6 0 1,0 7.2,0a3.6,3.6 0 1,0 -7.2,0M399.25,428.25a3.6,3.6 0 1,0 7.2,0a3.6,3.6 0 1,0 -7.2,0M419.33,426.06a3.6,3.6 0 1,0 7.2,0a3.6,3.6 0 1,0 -7.2,0M439.4,416.31a3.6,3.6 0 1,0 7.2,0a3.6,3.6 0 1,0 -7.2,0" fill="none" stroke="#000" stroke-width="1.2"/>
<polyline points="257.82,473.84 258.82,473.06 259.82,472.28 260.83,471.5 261.83,470.72 262.84,469.94 263.84,469.16 264.84,468.38 265.85,467.6 266.85,466.82 268.36,465.77 270.36,464.37 272.87,462.8 276.39,461.09 279.9,460.07 283.91,459.87 287.93,460.36 291.44,462.25 295.46,462.86 300.47,462.86 307,464.08 317.54,465.66" fill="none" stroke="#ff00ff" stroke-width="1.3" />
<polyline points="257.82,473.84 258.82,473.06 259.82,472.28 260.83,471.5 261.83,470.72 262.84,469.94 263.84,469.16 264.84,468.38 265.85,467.6 266.85,466.82 268.36,465.77 270.36,464.37 272.87,462.8 276.39,461.09 279.9,460.07 283.91,468.1 287.93,460.36 291.44,462.25 295.46,462.86 300.47,469.93 307,464.08 317.54,477.97" fill="none" stroke="#0000ff" stroke-width="1.9" />
<polyline points="257.82,473.84 258.82,473.06 259.82,472.28 260.83,471.5 261.83,470.72 262.84,469.94 263.84,469.16 264.84,468.38 265.85,467.6 266.85,466.82 268.36,465.77 270.36,464.37 272.87,462.8 276.39,461.09 279.9,460.07 283.91,459.87 287.93,460.36 291.44,462.25 295.46,462.86 300.47,462.86 307,464.08 317.54,477.97" fill="none" stroke="#ff0000" stroke-width="1.1" />
<path d="M252.82,468.84h10.0v10.0h-10.0zM253.82,468.06h10.0v10.0h-10.0zM254.82,467.28h10.0v10.0h-10.0zM255.83,466.5h10.0v10.0h-10.0zM256.83,465.72h10.0v10.0h-10.0zM257.84,464.94h10.0v10.0h-10.0zM258.84,464.16h10.0v10.0h-10.0zM259.84,463.38h10.0v10.0h-10.0zM260.85,462.6h10.0v10.0h-10.0zM261.85,461.82h10.0v10.0h-10.0zM263.36,460.77h10.0v10.0h-10.0zM265.36,459.37h10.0v10.0h-10.0zM267.87,457.8h10.0v10.0h-10.0zM271.39,456.09h10.0v10.0h-10.0zM274.9,455.07h10.0v10.0h-10.0zM278.91,463.1h10.0v10.0h-10.0zM282.93,455.36h10.0v10.0h-10.0zM286.44,457.25h10.0v10.0h-10.0zM290.46,457.86h10.0v10.0h-10.0zM295.47,464.93h10.0v10.0h-10.0zM302,459.08h10.0v10.0h-10.0zM312.54,472.97h10.0v10.0h-10.0z" fill="none" stroke="#0000ff" stroke-width="1.45"/>
<path d="M257.82,469.44l1.08,2.91 3.1,0.13 -2.43,1.93 0.83,2.99 -2.58,-1.71 -2.59,1.71 0.83,-2.99 -2.43,-1.93 3.1,-0.13zM258.82,468.66l1.09,2.91 3.1,0.13 -2.43,1.94 0.83,2.98 -2.59,-1.71 -2.59,1.71 0.83,-2.98 -2.42,-1.94 3.09,-0.13zM259.82,467.88l1.09,2.91 3.1,0.13 -2.43,1.94 0.83,2.98 -2.59,-1.71 -2.58,1.71 0.83,-2.98 -2.43,-1.94 3.1,-0.13zM260.83,467.1l1.08,2.91 3.1,0.13 -2.42,1.94 0.82,2.98 -2.58,-1.71 -2.59,1.71 0.83,-2.98 -2.43,-1.94 3.1,-0.13zM261.83,466.32l1.09,2.91 3.1,0.13 -2.43,1.94 0.83,2.98 -2.59,-1.71 -2.58,1.71 0.82,-2.98 -2.42,-1.94 3.1,-0.13zM262.84,465.54l1.08,2.91 3.1,0.13 -2.43,1.94 0.83,2.98 -2.58,-1.71 -2.59,1.71 0.83,-2.98 -2.43,-1.94 3.1,-0.13zM263.84,464.76l1.09,2.91 3.09,0.13 -2.42,1.94 0.83,2.98 -2.59,-1.71 -2.59,1.71 0.83,-2.98 -2.43,-1.94 3.1,-0.13zM264.84,463.98l1.09,2.91 3.1,0.13 -2.43,1.94 0.83,2.98 -2.59,-1.71 -2.58,1.71 0.83,-2.98 -2.43,-1.94 3.1,-0.13zM265.85,463.2l1.08,2.91 3.1,0.13 -2.43,1.94 0.83,2.98 -2.58,-1.71 -2.59,1.71 0.83,-2.98 -2.43,-1.94 3.1,-0.13zM266.85,462.42l1.09,2.91 3.09,0.14 -2.42,1.93 0.83,2.98 -2.59,-1.71 -2.59,1.71 0.83,-2.98 -2.42,-1.93 3.09,-0.14zM268.36,461.37l1.08,2.9 3.1,0.14 -2.43,1.93 0.83,2.99 -2.58,-1.71 -2.59,1.71 0.83,-2.99 -2.43,-1.93 3.1,-0.14zM270.36,459.97l1.09,2.9 3.1,0.14 -2.43,1.93 0.83,2.99 -2.59,-1.72 -2.58,1.72 0.83,-2.99 -2.43,-1.93 3.1,-0.14zM272.87,458.4l1.09,2.9 3.1,0.14 -2.43,1.93 0.83,2.99 -2.59,-1.71 -2.58,1.71 0.83,-2.99 -2.43,-1.93 3.1,-0.14zM276.39,456.69l1.08,2.9 3.1,0.14 -2.43,1.93 0.83,2.98 -2.58,-1.71 -2.59,1.71 0.83,-2.98 -2.43,-1.93 3.1,-0.14zM279.9,455.67l1.08,2.9 3.1,0.14 -2.42,1.93 0.82,2.99 -2.58,-1.71 -2.59,1.71 0.83,-2.99 -2.43,-1.93 3.1,-0.14zM283.91,455.47l1.09,2.91 3.1,0.13 -2.43,1.93 0.83,2.99 -2.59,-1.71 -2.58,1.71 0.83,-2.99 -2.43,-1.93 3.1,-0.13zM287.93,455.96l1.08,2.91 3.1,0.13 -2.42,1.93 0.82,2.99 -2.58,-1.71 -2.59,1.71 0.83,-2.99 -2.43,-1.93 3.1,-0.13zM291.44,457.85l1.09,2.9 3.1,0.14 -2.43,1.93 0.83,2.99 -2.59,-1.71 -2.58,1.71 0.82,-2.99 -2.42,-1.93 3.1,-0.14zM295.46,458.46l1.08,2.9 3.1,0.14 -2.43,1.93 0.83,2.99 -2.58,-1.71 -2.59,1.71 0.83,-2.99 -2.43,-1.93 3.1,-0.14zM300.47,458.46l1.09,2.9 3.1,0.14 -2.43,1.93 0.83,2.99 -2.59,-1.71 -2.58,1.71 0.83,-2.99 -2.43,-1.93 3.1,-0.14zM307,459.68l1.09,2.9 3.09,0.14 -2.42,1.93 0.83,2.99 -2.59,-1.72 -2.59,1.72 0.83,-2.99 -2.43,-1.93 3.1,-0.14zM317.54,473.57l1.08,2.9 3.1,0.14 -2.42,1.93 0.82,2.99 -2.58,-1.71 -2.59,1.71 0.83,-2.99 -2.43,-1.93 3.1,-0.14z" fill="#ff0000"/>
<path d="M257.82,468.34l1.35,3.64 3.88,0.16 -3.04,2.42 1.04,3.73 -3.23,-2.14 -3.24,2.14 1.04,-3.73 -3.03,-2.42 3.87,-0.16zM258.82,467.56l1.36,3.64 3.87,0.16 -3.03,2.42 1.03,3.73 -3.23,-2.14 -3.23,2.14 1.03,-3.73 -3.03,-2.42 3.87,-0.16zM259.82,466.78l1.36,3.64 3.87,0.16 -3.03,2.42 1.04,3.73 -3.24,-2.14 -3.23,2.14 1.04,-3.73 -3.04,-2.42 3.88,-0.16zM260.83,466l1.36,3.64 3.87,0.16 -3.04,2.42 1.04,3.73 -3.23,-2.14 -3.23,2.14 1.03,-3.73 -3.03,-2.42 3.87,-0.16zM261.83,465.22l1.36,3.64 3.87,0.16 -3.03,2.42 1.03,3.73 -3.23,-2.14 -3.23,2.14 1.03,-3.73 -3.03,-2.42 3.87,-0.16zM262.84,464.44l1.35,3.64 3.88,0.16 -3.04,2.42 1.04,3.73 -3.23,-2.14 -3.24,2.14 1.04,-3.73 -3.04,-2.42 3.88,-0.16zM263.84,463.66l1.36,3.64 3.87,0.16 -3.03,2.42 1.03,3.73 -3.23,-2.14 -3.23,2.14 1.03,-3.73 -3.03,-2.42 3.87,-0.16zM264.84,462.88l1.36,3.64 3.87,0.16 -3.03,2.42 1.04,3.73 -3.24,-2.14 -3.23,2.14 1.04,-3.73 -3.04,-2.42 3.88,-0.16zM265.85,462.1l1.35,3.64 3.88,0.17 -3.04,2.41 1.04,3.73 -3.23,-2.14 -3.24,2.14 1.04,-3.73 -3.03,-2.41 3.87,-0.17zM266.85,461.32l1.36,3.64 3.87,0.17 -3.03,2.41 1.03,3.73 -3.23,-2.14 -3.23,2.14 1.03,-3.73 -3.03,-2.41 3.87,-0.17zM268.36,460.27l1.35,3.63 3.88,0.17 -3.04,2.41 1.04,3.74 -3.23,-2.14 -3.24,2.14 1.04,-3.74 -3.03,-2.41 3.87,-0.17zM270.36,458.87l1.36,3.63 3.87,0.17 -3.03,2.41 1.04,3.74 -3.24,-2.14 -3.23,2.14 1.04,-3.74 -3.04,-2.41 3.88,-0.17zM272.87,457.3l1.36,3.63 3.87,0.17 -3.03,2.41 1.04,3.74 -3.24,-2.14 -3.23,2.14 1.04,-3.74 -3.04,-2.41 3.87,-0.17zM276.39,455.59l1.35,3.63 3.88,0.17 -3.04,2.41 1.04,3.73 -3.23,-2.13 -3.24,2.13 1.04,-3.73 -3.04,-2.41 3.88,-0.17zM279.9,454.57l1.36,3.63 3.87,0.17 -3.03,2.41 1.03,3.74 -3.23,-2.14 -3.23,2.14 1.03,-3.74 -3.03,-2.41 3.87,-0.17zM283.91,454.37l1.36,3.63 3.87,0.17 -3.03,2.42 1.04,3.73 -3.24,-2.14 -3.23,2.14 1.04,-3.73 -3.04,-2.42 3.88,-0.17zM287.93,454.86l1.36,3.63 3.87,0.17 -3.03,2.41 1.03,3.74 -3.23,-2.14 -3.23,2.14 1.03,-3.74 -3.03,-2.41 3.87,-0.17zM291.44,456.75l1.36,3.63 3.87,0.17 -3.03,2.41 1.03,3.74 -3.23,-2.14 -3.23,2.14 1.03,-3.74 -3.03,-2.41 3.87,-0.17zM295.46,457.36l1.35,3.63 3.88,0.17 -3.04,2.41 1.04,3.74 -3.23,-2.14 -3.24,2.14 1.04,-3.74 -3.03,-2.41 3.87,-0.17zM300.47,457.36l1.36,3.63 3.88,0.17 -3.04,2.41 1.04,3.74 -3.24,-2.14 -3.23,2.14 1.04,-3.74 -3.04,-2.41 3.88,-0.17zM307,458.58l1.36,3.63 3.87,0.17 -3.03,2.41 1.03,3.74 -3.23,-2.14 -3.23,2.14 1.03,-3.74 -3.03,-2.41 3.87,-0.17zM317.54,460.16l1.36,3.63 3.87,0.17 -3.03,2.41 1.03,3.74 -3.23,-2.14 -3.23,2.14 1.03,-3.74 -3.03,-2.41 3.87,-0.17z" fill="none" stroke="#ff00ff" stroke-width="1.5" stroke-linejoin="round"/>
</g>
<path d="M47.3,96.5v-1.3M47.3,-0.2v1.3M57.3,96.5v-1.3M57.3,-0.2v1.3M67.3,96.5v-1.3M67.3,-0.2v1.3M77.3,96.5v-1.3M77.3,-0.2v1.3M87.3,96.5v-2.8M87.3,-0.2v2.8M97.3,96.5v-1.3M97.3,-0.2v1.3M107.3,96.5v-1.3M107.3,-0.2v1.3M117.3,96.5v-1.3M117.3,-0.2v1.3M127.3,96.5v-1.3M127.3,-0.2v1.3M137.3,96.5v-2.8M137.3,-0.2v2.8M147.3,96.5v-1.3M147.3,-0.2v1.3M157.3,96.5v-1.3M157.3,-0.2v1.3M167.3,96.5v-1.3M167.3,-0.2v1.3M177.3,96.5v-1.3M177.3,-0.2v1.3M187.3,96.5v-2.8M187.3,-0.2v2.8M197.3,96.5v-1.3M197.3,-0.2v1.3M207.3,96.5v-1.3M207.3,-0.2v1.3M217.3,96.5v-1.3M217.3,-0.2v1.3M227.3,96.5v-1.3M227.3,-0.2v1.3M237.3,96.5v-2.8M237.3,-0.2v2.8M247.3,96.5v-1.3M247.3,-0.2v1.3M38.3,90.2h8.5M253.3,90.2h-8.5M38.3,83.53h4.4M253.3,83.53h-4.4M38.3,76.86h4.4M253.3,76.86h-4.4M38.3,70.2h4.4M253.3,70.2h-4.4M38.3,63.53h4.4M253.3,63.53h-4.4M38.3,56.86h8.5M253.3,56.86h-8.5M38.3,50.19h4.4M253.3,50.19h-4.4M38.3,43.52h4.4M253.3,43.52h-4.4M38.3,36.86h4.4M253.3,36.86h-4.4M38.3,30.19h4.4M253.3,30.19h-4.4M38.3,23.52h8.5M253.3,23.52h-8.5M38.3,16.85h4.4M253.3,16.85h-4.4M38.3,10.18h4.4M253.3,10.18h-4.4M38.3,3.52h4.4M253.3,3.52h-4.4" stroke="#000" stroke-width="1.2" fill="none"/>
<path d="M262.33,96.5v-1.3M262.33,-0.2v1.3M272.37,96.5v-1.3M272.37,-0.2v1.3M282.41,96.5v-1.3M282.41,-0.2v1.3M292.45,96.5v-1.3M292.45,-0.2v1.3M302.48,96.5v-2.8M302.48,-0.2v2.8M312.52,96.5v-1.3M312.52,-0.2v1.3M322.56,96.5v-1.3M322.56,-0.2v1.3M332.59,96.5v-1.3M332.59,-0.2v1.3M342.63,96.5v-1.3M342.63,-0.2v1.3M352.67,96.5v-2.8M352.67,-0.2v2.8M362.71,96.5v-1.3M362.71,-0.2v1.3M372.74,96.5v-1.3M372.74,-0.2v1.3M382.78,96.5v-1.3M382.78,-0.2v1.3M392.82,96.5v-1.3M392.82,-0.2v1.3M402.85,96.5v-2.8M402.85,-0.2v2.8M412.89,96.5v-1.3M412.89,-0.2v1.3M422.93,96.5v-1.3M422.93,-0.2v1.3M432.97,96.5v-1.3M432.97,-0.2v1.3M443,96.5v-1.3M443,-0.2v1.3M453.04,96.5v-2.8M453.04,-0.2v2.8M463.08,96.5v-1.3M463.08,-0.2v1.3M253.3,90.2h8.5M469.1,90.2h-8.5M253.3,83.53h4.4M469.1,83.53h-4.4M253.3,76.86h4.4M469.1,76.86h-4.4M253.3,70.2h4.4M469.1,70.2h-4.4M253.3,63.53h4.4M469.1,63.53h-4.4M253.3,56.86h8.5M469.1,56.86h-8.5M253.3,50.19h4.4M469.1,50.19h-4.4M253.3,43.52h4.4M469.1,43.52h-4.4M253.3,36.86h4.4M469.1,36.86h-4.4M253.3,30.19h4.4M469.1,30.19h-4.4M253.3,23.52h8.5M469.1,23.52h-8.5M253.3,16.85h4.4M469.1,16.85h-4.4M253.3,10.18h4.4M469.1,10.18h-4.4M253.3,3.52h4.4M469.1,3.52h-4.4" stroke="#000" stroke-width="1.2" fill="none"/>
<path d="M478.02,96.5v-1.3M478.02,-0.2v1.3M487.93,96.5v-1.3M487.93,-0.2v1.3M497.84,96.5v-1.3M497.84,-0.2v1.3M507.76,96.5v-1.3M507.76,-0.2v1.3M517.67,96.5v-2.8M517.67,-0.2v2.8M527.58,96.5v-1.3M527.58,-0.2v1.3M537.49,96.5v-1.3M537.49,-0.2v1.3M547.4,96.5v-1.3M547.4,-0.2v1.3M557.31,96.5v-1.3M557.31,-0.2v1.3M567.23,96.5v-2.8M567.23,-0.2v2.8M577.14,96.5v-1.3M577.14,-0.2v1.3M587.05,96.5v-1.3M587.05,-0.2v1.3M596.96,96.5v-1.3M596.96,-0.2v1.3M606.87,96.5v-1.3M606.87,-0.2v1.3M616.78,96.5v-2.8M616.78,-0.2v2.8M626.69,96.5v-1.3M626.69,-0.2v1.3M636.61,96.5v-1.3M636.61,-0.2v1.3M646.52,96.5v-1.3M646.52,-0.2v1.3M656.43,96.5v-1.3M656.43,-0.2v1.3M666.34,96.5v-2.8M666.34,-0.2v2.8M676.25,96.5v-1.3M676.25,-0.2v1.3M469.1,90.2h8.5M682.2,90.2h-8.5M469.1,83.53h4.4M682.2,83.53h-4.4M469.1,76.86h4.4M682.2,76.86h-4.4M469.1,70.2h4.4M682.2,70.2h-4.4M469.1,63.53h4.4M682.2,63.53h-4.4M469.1,56.86h8.5M682.2,56.86h-8.5M469.1,50.19h4.4M682.2,50.19h-4.4M469.1,43.52h4.4M682.2,43.52h-4.4M469.1,36.86h4.4M682.2,36.86h-4.4M469.1,30.19h4.4M682.2,30.19h-4.4M469.1,23.52h8.5M682.2,23.52h-8.5M469.1,16.85h4.4M682.2,16.85h-4.4M469.1,10.18h4.4M682.2,10.18h-4.4M469.1,3.52h4.4M682.2,3.52h-4.4" stroke="#000" stroke-width="1.2" fill="none"/>
<path d="M47.3,193.9v-1.3M47.3,96.5v1.3M57.3,193.9v-1.3M57.3,96.5v1.3M67.3,193.9v-1.3M67.3,96.5v1.3M77.3,193.9v-1.3M77.3,96.5v1.3M87.3,193.9v-2.8M87.3,96.5v2.8M97.3,193.9v-1.3M97.3,96.5v1.3M107.3,193.9v-1.3M107.3,96.5v1.3M117.3,193.9v-1.3M117.3,96.5v1.3M127.3,193.9v-1.3M127.3,96.5v1.3M137.3,193.9v-2.8M137.3,96.5v2.8M147.3,193.9v-1.3M147.3,96.5v1.3M157.3,193.9v-1.3M157.3,96.5v1.3M167.3,193.9v-1.3M167.3,96.5v1.3M177.3,193.9v-1.3M177.3,96.5v1.3M187.3,193.9v-2.8M187.3,96.5v2.8M197.3,193.9v-1.3M197.3,96.5v1.3M207.3,193.9v-1.3M207.3,96.5v1.3M217.3,193.9v-1.3M217.3,96.5v1.3M227.3,193.9v-1.3M227.3,96.5v1.3M237.3,193.9v-2.8M237.3,96.5v2.8M247.3,193.9v-1.3M247.3,96.5v1.3M38.3,187h8.5M253.3,187h-8.5M38.3,180.33h4.4M253.3,180.33h-4.4M38.3,173.66h4.4M253.3,173.66h-4.4M38.3,167h4.4M253.3,167h-4.4M38.3,160.33h4.4M253.3,160.33h-4.4M38.3,153.66h8.5M253.3,153.66h-8.5M38.3,146.99h4.4M253.3,146.99h-4.4M38.3,140.32h4.4M253.3,140.32h-4.4M38.3,133.66h4.4M253.3,133.66h-4.4M38.3,126.99h4.4M253.3,126.99h-4.4M38.3,120.32h8.5M253.3,120.32h-8.5M38.3,113.65h4.4M253.3,113.65h-4.4M38.3,106.98h4.4M253.3,106.98h-4.4M38.3,100.32h4.4M253.3,100.32h-4.4" stroke="#000" stroke-width="1.2" fill="none"/>
<path d="M262.33,193.9v-1.3M262.33,96.5v1.3M272.37,193.9v-1.3M272.37,96.5v1.3M282.41,193.9v-1.3M282.41,96.5v1.3M292.45,193.9v-1.3M292.45,96.5v1.3M302.48,193.9v-2.8M302.48,96.5v2.8M312.52,193.9v-1.3M312.52,96.5v1.3M322.56,193.9v-1.3M322.56,96.5v1.3M332.59,193.9v-1.3M332.59,96.5v1.3M342.63,193.9v-1.3M342.63,96.5v1.3M352.67,193.9v-2.8M352.67,96.5v2.8M362.71,193.9v-1.3M362.71,96.5v1.3M372.74,193.9v-1.3M372.74,96.5v1.3M382.78,193.9v-1.3M382.78,96.5v1.3M392.82,193.9v-1.3M392.82,96.5v1.3M402.85,193.9v-2.8M402.85,96.5v2.8M412.89,193.9v-1.3M412.89,96.5v1.3M422.93,193.9v-1.3M422.93,96.5v1.3M432.97,193.9v-1.3M432.97,96.5v1.3M443,193.9v-1.3M443,96.5v1.3M453.04,193.9v-2.8M453.04,96.5v2.8M463.08,193.9v-1.3M463.08,96.5v1.3M253.3,187h8.5M469.1,187h-8.5M253.3,180.33h4.4M469.1,180.33h-4.4M253.3,173.66h4.4M469.1,173.66h-4.4M253.3,167h4.4M469.1,167h-4.4M253.3,160.33h4.4M469.1,160.33h-4.4M253.3,153.66h8.5M469.1,153.66h-8.5M253.3,146.99h4.4M469.1,146.99h-4.4M253.3,140.32h4.4M469.1,140.32h-4.4M253.3,133.66h4.4M469.1,133.66h-4.4M253.3,126.99h4.4M469.1,126.99h-4.4M253.3,120.32h8.5M469.1,120.32h-8.5M253.3,113.65h4.4M469.1,113.65h-4.4M253.3,106.98h4.4M469.1,106.98h-4.4M253.3,100.32h4.4M469.1,100.32h-4.4" stroke="#000" stroke-width="1.2" fill="none"/>
<path d="M478.02,193.9v-1.3M478.02,96.5v1.3M487.93,193.9v-1.3M487.93,96.5v1.3M497.84,193.9v-1.3M497.84,96.5v1.3M507.76,193.9v-1.3M507.76,96.5v1.3M517.67,193.9v-2.8M517.67,96.5v2.8M527.58,193.9v-1.3M527.58,96.5v1.3M537.49,193.9v-1.3M537.49,96.5v1.3M547.4,193.9v-1.3M547.4,96.5v1.3M557.31,193.9v-1.3M557.31,96.5v1.3M567.23,193.9v-2.8M567.23,96.5v2.8M577.14,193.9v-1.3M577.14,96.5v1.3M587.05,193.9v-1.3M587.05,96.5v1.3M596.96,193.9v-1.3M596.96,96.5v1.3M606.87,193.9v-1.3M606.87,96.5v1.3M616.78,193.9v-2.8M616.78,96.5v2.8M626.69,193.9v-1.3M626.69,96.5v1.3M636.61,193.9v-1.3M636.61,96.5v1.3M646.52,193.9v-1.3M646.52,96.5v1.3M656.43,193.9v-1.3M656.43,96.5v1.3M666.34,193.9v-2.8M666.34,96.5v2.8M676.25,193.9v-1.3M676.25,96.5v1.3M469.1,187h8.5M682.2,187h-8.5M469.1,180.33h4.4M682.2,180.33h-4.4M469.1,173.66h4.4M682.2,173.66h-4.4M469.1,167h4.4M682.2,167h-4.4M469.1,160.33h4.4M682.2,160.33h-4.4M469.1,153.66h8.5M682.2,153.66h-8.5M469.1,146.99h4.4M682.2,146.99h-4.4M469.1,140.32h4.4M682.2,140.32h-4.4M469.1,133.66h4.4M682.2,133.66h-4.4M469.1,126.99h4.4M682.2,126.99h-4.4M469.1,120.32h8.5M682.2,120.32h-8.5M469.1,113.65h4.4M682.2,113.65h-4.4M469.1,106.98h4.4M682.2,106.98h-4.4M469.1,100.32h4.4M682.2,100.32h-4.4" stroke="#000" stroke-width="1.2" fill="none"/>
<path d="M47.3,290.5v-1.3M47.3,193.9v1.3M57.3,290.5v-1.3M57.3,193.9v1.3M67.3,290.5v-1.3M67.3,193.9v1.3M77.3,290.5v-1.3M77.3,193.9v1.3M87.3,290.5v-2.8M87.3,193.9v2.8M97.3,290.5v-1.3M97.3,193.9v1.3M107.3,290.5v-1.3M107.3,193.9v1.3M117.3,290.5v-1.3M117.3,193.9v1.3M127.3,290.5v-1.3M127.3,193.9v1.3M137.3,290.5v-2.8M137.3,193.9v2.8M147.3,290.5v-1.3M147.3,193.9v1.3M157.3,290.5v-1.3M157.3,193.9v1.3M167.3,290.5v-1.3M167.3,193.9v1.3M177.3,290.5v-1.3M177.3,193.9v1.3M187.3,290.5v-2.8M187.3,193.9v2.8M197.3,290.5v-1.3M197.3,193.9v1.3M207.3,290.5v-1.3M207.3,193.9v1.3M217.3,290.5v-1.3M217.3,193.9v1.3M227.3,290.5v-1.3M227.3,193.9v1.3M237.3,290.5v-2.8M237.3,193.9v2.8M247.3,290.5v-1.3M247.3,193.9v1.3M38.3,283.7h8.5M253.3,283.7h-8.5M38.3,277.03h4.4M253.3,277.03h-4.4M38.3,270.36h4.4M253.3,270.36h-4.4M38.3,263.7h4.4M253.3,263.7h-4.4M38.3,257.03h4.4M253.3,257.03h-4.4M38.3,250.36h8.5M253.3,250.36h-8.5M38.3,243.69h4.4M253.3,243.69h-4.4M38.3,237.02h4.4M253.3,237.02h-4.4M38.3,230.36h4.4M253.3,230.36h-4.4M38.3,223.69h4.4M253.3,223.69h-4.4M38.3,217.02h8.5M253.3,217.02h-8.5M38.3,210.35h4.4M253.3,210.35h-4.4M38.3,203.68h4.4M253.3,203.68h-4.4M38.3,197.02h4.4M253.3,197.02h-4.4" stroke="#000" stroke-width="1.2" fill="none"/>
<path d="M262.33,290.5v-1.3M262.33,193.9v1.3M272.37,290.5v-1.3M272.37,193.9v1.3M282.41,290.5v-1.3M282.41,193.9v1.3M292.45,290.5v-1.3M292.45,193.9v1.3M302.48,290.5v-2.8M302.48,193.9v2.8M312.52,290.5v-1.3M312.52,193.9v1.3M322.56,290.5v-1.3M322.56,193.9v1.3M332.59,290.5v-1.3M332.59,193.9v1.3M342.63,290.5v-1.3M342.63,193.9v1.3M352.67,290.5v-2.8M352.67,193.9v2.8M362.71,290.5v-1.3M362.71,193.9v1.3M372.74,290.5v-1.3M372.74,193.9v1.3M382.78,290.5v-1.3M382.78,193.9v1.3M392.82,290.5v-1.3M392.82,193.9v1.3M402.85,290.5v-2.8M402.85,193.9v2.8M412.89,290.5v-1.3M412.89,193.9v1.3M422.93,290.5v-1.3M422.93,193.9v1.3M432.97,290.5v-1.3M432.97,193.9v1.3M443,290.5v-1.3M443,193.9v1.3M453.04,290.5v-2.8M453.04,193.9v2.8M463.08,290.5v-1.3M463.08,193.9v1.3M253.3,283.7h8.5M469.1,283.7h-8.5M253.3,277.03h4.4M469.1,277.03h-4.4M253.3,270.36h4.4M469.1,270.36h-4.4M253.3,263.7h4.4M469.1,263.7h-4.4M253.3,257.03h4.4M469.1,257.03h-4.4M253.3,250.36h8.5M469.1,250.36h-8.5M253.3,243.69h4.4M469.1,243.69h-4.4M253.3,237.02h4.4M469.1,237.02h-4.4M253.3,230.36h4.4M469.1,230.36h-4.4M253.3,223.69h4.4M469.1,223.69h-4.4M253.3,217.02h8.5M469.1,217.02h-8.5M253.3,210.35h4.4M469.1,210.35h-4.4M253.3,203.68h4.4M469.1,203.68h-4.4M253.3,197.02h4.4M469.1,197.02h-4.4" stroke="#000" stroke-width="1.2" fill="none"/>
<path d="M478.02,290.5v-1.3M478.02,193.9v1.3M487.93,290.5v-1.3M487.93,193.9v1.3M497.84,290.5v-1.3M497.84,193.9v1.3M507.76,290.5v-1.3M507.76,193.9v1.3M517.67,290.5v-2.8M517.67,193.9v2.8M527.58,290.5v-1.3M527.58,193.9v1.3M537.49,290.5v-1.3M537.49,193.9v1.3M547.4,290.5v-1.3M547.4,193.9v1.3M557.31,290.5v-1.3M557.31,193.9v1.3M567.23,290.5v-2.8M567.23,193.9v2.8M577.14,290.5v-1.3M577.14,193.9v1.3M587.05,290.5v-1.3M587.05,193.9v1.3M596.96,290.5v-1.3M596.96,193.9v1.3M606.87,290.5v-1.3M606.87,193.9v1.3M616.78,290.5v-2.8M616.78,193.9v2.8M626.69,290.5v-1.3M626.69,193.9v1.3M636.61,290.5v-1.3M636.61,193.9v1.3M646.52,290.5v-1.3M646.52,193.9v1.3M656.43,290.5v-1.3M656.43,193.9v1.3M666.34,290.5v-2.8M666.34,193.9v2.8M676.25,290.5v-1.3M676.25,193.9v1.3M469.1,283.7h8.5M682.2,283.7h-8.5M469.1,277.03h4.4M682.2,277.03h-4.4M469.1,270.36h4.4M682.2,270.36h-4.4M469.1,263.7h4.4M682.2,263.7h-4.4M469.1,257.03h4.4M682.2,257.03h-4.4M469.1,250.36h8.5M682.2,250.36h-8.5M469.1,243.69h4.4M682.2,243.69h-4.4M469.1,237.02h4.4M682.2,237.02h-4.4M469.1,230.36h4.4M682.2,230.36h-4.4M469.1,223.69h4.4M682.2,223.69h-4.4M469.1,217.02h8.5M682.2,217.02h-8.5M469.1,210.35h4.4M682.2,210.35h-4.4M469.1,203.68h4.4M682.2,203.68h-4.4M469.1,197.02h4.4M682.2,197.02h-4.4" stroke="#000" stroke-width="1.2" fill="none"/>
<path d="M47.3,387v-1.3M47.3,290.5v1.3M57.3,387v-1.3M57.3,290.5v1.3M67.3,387v-1.3M67.3,290.5v1.3M77.3,387v-1.3M77.3,290.5v1.3M87.3,387v-2.8M87.3,290.5v2.8M97.3,387v-1.3M97.3,290.5v1.3M107.3,387v-1.3M107.3,290.5v1.3M117.3,387v-1.3M117.3,290.5v1.3M127.3,387v-1.3M127.3,290.5v1.3M137.3,387v-2.8M137.3,290.5v2.8M147.3,387v-1.3M147.3,290.5v1.3M157.3,387v-1.3M157.3,290.5v1.3M167.3,387v-1.3M167.3,290.5v1.3M177.3,387v-1.3M177.3,290.5v1.3M187.3,387v-2.8M187.3,290.5v2.8M197.3,387v-1.3M197.3,290.5v1.3M207.3,387v-1.3M207.3,290.5v1.3M217.3,387v-1.3M217.3,290.5v1.3M227.3,387v-1.3M227.3,290.5v1.3M237.3,387v-2.8M237.3,290.5v2.8M247.3,387v-1.3M247.3,290.5v1.3M38.3,380.5h8.5M253.3,380.5h-8.5M38.3,373.83h4.4M253.3,373.83h-4.4M38.3,367.16h4.4M253.3,367.16h-4.4M38.3,360.5h4.4M253.3,360.5h-4.4M38.3,353.83h4.4M253.3,353.83h-4.4M38.3,347.16h8.5M253.3,347.16h-8.5M38.3,340.49h4.4M253.3,340.49h-4.4M38.3,333.82h4.4M253.3,333.82h-4.4M38.3,327.16h4.4M253.3,327.16h-4.4M38.3,320.49h4.4M253.3,320.49h-4.4M38.3,313.82h8.5M253.3,313.82h-8.5M38.3,307.15h4.4M253.3,307.15h-4.4M38.3,300.48h4.4M253.3,300.48h-4.4M38.3,293.82h4.4M253.3,293.82h-4.4" stroke="#000" stroke-width="1.2" fill="none"/>
<path d="M262.33,387v-1.3M262.33,290.5v1.3M272.37,387v-1.3M272.37,290.5v1.3M282.41,387v-1.3M282.41,290.5v1.3M292.45,387v-1.3M292.45,290.5v1.3M302.48,387v-2.8M302.48,290.5v2.8M312.52,387v-1.3M312.52,290.5v1.3M322.56,387v-1.3M322.56,290.5v1.3M332.59,387v-1.3M332.59,290.5v1.3M342.63,387v-1.3M342.63,290.5v1.3M352.67,387v-2.8M352.67,290.5v2.8M362.71,387v-1.3M362.71,290.5v1.3M372.74,387v-1.3M372.74,290.5v1.3M382.78,387v-1.3M382.78,290.5v1.3M392.82,387v-1.3M392.82,290.5v1.3M402.85,387v-2.8M402.85,290.5v2.8M412.89,387v-1.3M412.89,290.5v1.3M422.93,387v-1.3M422.93,290.5v1.3M432.97,387v-1.3M432.97,290.5v1.3M443,387v-1.3M443,290.5v1.3M453.04,387v-2.8M453.04,290.5v2.8M463.08,387v-1.3M463.08,290.5v1.3M253.3,380.5h8.5M469.1,380.5h-8.5M253.3,373.83h4.4M469.1,373.83h-4.4M253.3,367.16h4.4M469.1,367.16h-4.4M253.3,360.5h4.4M469.1,360.5h-4.4M253.3,353.83h4.4M469.1,353.83h-4.4M253.3,347.16h8.5M469.1,347.16h-8.5M253.3,340.49h4.4M469.1,340.49h-4.4M253.3,333.82h4.4M469.1,333.82h-4.4M253.3,327.16h4.4M469.1,327.16h-4.4M253.3,320.49h4.4M469.1,320.49h-4.4M253.3,313.82h8.5M469.1,313.82h-8.5M253.3,307.15h4.4M469.1,307.15h-4.4M253.3,300.48h4.4M469.1,300.48h-4.4M253.3,293.82h4.4M469.1,293.82h-4.4" stroke="#000" stroke-width="1.2" fill="none"/>
<path d="M478.02,387v-1.3M478.02,290.5v1.3M487.93,387v-1.3M487.93,290.5v1.3M497.84,387v-1.3M497.84,290.5v1.3M507.76,387v-1.3M507.76,290.5v1.3M517.67,387v-2.8M517.67,290.5v2.8M527.58,387v-1.3M527.58,290.5v1.3M537.49,387v-1.3M537.49,290.5v1.3M547.4,387v-1.3M547.4,290.5v1.3M557.31,387v-1.3M557.31,290.5v1.3M567.23,387v-2.8M567.23,290.5v2.8M577.14,387v-1.3M577.14,290.5v1.3M587.05,387v-1.3M587.05,290.5v1.3M596.96,387v-1.3M596.96,290.5v1.3M606.87,387v-1.3M606.87,290.5v1.3M616.78,387v-2.8M616.78,290.5v2.8M626.69,387v-1.3M626.69,290.5v1.3M636.61,387v-1.3M636.61,290.5v1.3M646.52,387v-1.3M646.52,290.5v1.3M656.43,387v-1.3M656.43,290.5v1.3M666.34,387v-2.8M666.34,290.5v2.8M676.25,387v-1.3M676.25,290.5v1.3M469.1,380.5h8.5M682.2,380.5h-8.5M469.1,373.83h4.4M682.2,373.83h-4.4M469.1,367.16h4.4M682.2,367.16h-4.4M469.1,360.5h4.4M682.2,360.5h-4.4M469.1,353.83h4.4M682.2,353.83h-4.4M469.1,347.16h8.5M682.2,347.16h-8.5M469.1,340.49h4.4M682.2,340.49h-4.4M469.1,333.82h4.4M682.2,333.82h-4.4M469.1,327.16h4.4M682.2,327.16h-4.4M469.1,320.49h4.4M682.2,320.49h-4.4M469.1,313.82h8.5M682.2,313.82h-8.5M469.1,307.15h4.4M682.2,307.15h-4.4M469.1,300.48h4.4M682.2,300.48h-4.4M469.1,293.82h4.4M682.2,293.82h-4.4" stroke="#000" stroke-width="1.2" fill="none"/>
<path d="M47.3,484.7v-1.6M47.3,387v1.3M57.3,484.7v-1.6M57.3,387v1.3M67.3,484.7v-1.6M67.3,387v1.3M77.3,484.7v-1.6M77.3,387v1.3M87.3,484.7v-3.5M87.3,387v2.8M97.3,484.7v-1.6M97.3,387v1.3M107.3,484.7v-1.6M107.3,387v1.3M117.3,484.7v-1.6M117.3,387v1.3M127.3,484.7v-1.6M127.3,387v1.3M137.3,484.7v-3.5M137.3,387v2.8M147.3,484.7v-1.6M147.3,387v1.3M157.3,484.7v-1.6M157.3,387v1.3M167.3,484.7v-1.6M167.3,387v1.3M177.3,484.7v-1.6M177.3,387v1.3M187.3,484.7v-3.5M187.3,387v2.8M197.3,484.7v-1.6M197.3,387v1.3M207.3,484.7v-1.6M207.3,387v1.3M217.3,484.7v-1.6M217.3,387v1.3M227.3,484.7v-1.6M227.3,387v1.3M237.3,484.7v-3.5M237.3,387v2.8M247.3,484.7v-1.6M247.3,387v1.3M38.3,483.57h2.9M253.3,483.57h-2.9M38.3,481.14h2.9M253.3,481.14h-2.9M38.3,478.7h5.5M253.3,478.7h-5.5M38.3,476.26h2.9M253.3,476.26h-2.9M38.3,473.83h2.9M253.3,473.83h-2.9M38.3,471.39h2.9M253.3,471.39h-2.9M38.3,468.95h2.9M253.3,468.95h-2.9M38.3,466.51h5.5M253.3,466.51h-5.5M38.3,464.08h2.9M253.3,464.08h-2.9M38.3,461.64h2.9M253.3,461.64h-2.9M38.3,459.2h2.9M253.3,459.2h-2.9M38.3,456.77h2.9M253.3,456.77h-2.9M38.3,454.33h5.5M253.3,454.33h-5.5M38.3,451.89h2.9M253.3,451.89h-2.9M38.3,449.45h2.9M253.3,449.45h-2.9M38.3,447.02h2.9M253.3,447.02h-2.9M38.3,444.58h2.9M253.3,444.58h-2.9M38.3,442.14h5.5M253.3,442.14h-5.5M38.3,439.7h2.9M253.3,439.7h-2.9M38.3,437.27h2.9M253.3,437.27h-2.9M38.3,434.83h2.9M253.3,434.83h-2.9M38.3,432.39h2.9M253.3,432.39h-2.9M38.3,429.96h5.5M253.3,429.96h-5.5M38.3,427.52h2.9M253.3,427.52h-2.9M38.3,425.08h2.9M253.3,425.08h-2.9M38.3,422.64h2.9M253.3,422.64h-2.9M38.3,420.21h2.9M253.3,420.21h-2.9M38.3,417.77h5.5M253.3,417.77h-5.5M38.3,415.33h2.9M253.3,415.33h-2.9M38.3,412.9h2.9M253.3,412.9h-2.9M38.3,410.46h2.9M253.3,410.46h-2.9M38.3,408.02h2.9M253.3,408.02h-2.9M38.3,405.58h5.5M253.3,405.58h-5.5M38.3,403.15h2.9M253.3,403.15h-2.9M38.3,400.71h2.9M253.3,400.71h-2.9M38.3,398.27h2.9M253.3,398.27h-2.9M38.3,395.84h2.9M253.3,395.84h-2.9M38.3,393.4h5.5M253.3,393.4h-5.5M38.3,390.96h2.9M253.3,390.96h-2.9M38.3,388.52h2.9M253.3,388.52h-2.9" stroke="#000" stroke-width="1.2" fill="none"/>
<path d="M262.33,484.7v-1.6M262.33,387v1.3M272.37,484.7v-1.6M272.37,387v1.3M282.41,484.7v-1.6M282.41,387v1.3M292.45,484.7v-1.6M292.45,387v1.3M302.48,484.7v-3.5M302.48,387v2.8M312.52,484.7v-1.6M312.52,387v1.3M322.56,484.7v-1.6M322.56,387v1.3M332.59,484.7v-1.6M332.59,387v1.3M342.63,484.7v-1.6M342.63,387v1.3M352.67,484.7v-3.5M352.67,387v2.8M362.71,484.7v-1.6M362.71,387v1.3M372.74,484.7v-1.6M372.74,387v1.3M382.78,484.7v-1.6M382.78,387v1.3M392.82,484.7v-1.6M392.82,387v1.3M402.85,484.7v-3.5M402.85,387v2.8M412.89,484.7v-1.6M412.89,387v1.3M422.93,484.7v-1.6M422.93,387v1.3M432.97,484.7v-1.6M432.97,387v1.3M443,484.7v-1.6M443,387v1.3M453.04,484.7v-3.5M453.04,387v2.8M463.08,484.7v-1.6M463.08,387v1.3M253.3,483.57h2.9M469.1,483.57h-2.9M253.3,481.14h2.9M469.1,481.14h-2.9M253.3,478.7h5.5M469.1,478.7h-5.5M253.3,476.26h2.9M469.1,476.26h-2.9M253.3,473.83h2.9M469.1,473.83h-2.9M253.3,471.39h2.9M469.1,471.39h-2.9M253.3,468.95h2.9M469.1,468.95h-2.9M253.3,466.51h5.5M469.1,466.51h-5.5M253.3,464.08h2.9M469.1,464.08h-2.9M253.3,461.64h2.9M469.1,461.64h-2.9M253.3,459.2h2.9M469.1,459.2h-2.9M253.3,456.77h2.9M469.1,456.77h-2.9M253.3,454.33h5.5M469.1,454.33h-5.5M253.3,451.89h2.9M469.1,451.89h-2.9M253.3,449.45h2.9M469.1,449.45h-2.9M253.3,447.02h2.9M469.1,447.02h-2.9M253.3,444.58h2.9M469.1,444.58h-2.9M253.3,442.14h5.5M469.1,442.14h-5.5M253.3,439.7h2.9M469.1,439.7h-2.9M253.3,437.27h2.9M469.1,437.27h-2.9M253.3,434.83h2.9M469.1,434.83h-2.9M253.3,432.39h2.9M469.1,432.39h-2.9M253.3,429.96h5.5M469.1,429.96h-5.5M253.3,427.52h2.9M469.1,427.52h-2.9M253.3,425.08h2.9M469.1,425.08h-2.9M253.3,422.64h2.9M469.1,422.64h-2.9M253.3,420.21h2.9M469.1,420.21h-2.9M253.3,417.77h5.5M469.1,417.77h-5.5M253.3,415.33h2.9M469.1,415.33h-2.9M253.3,412.9h2.9M469.1,412.9h-2.9M253.3,410.46h2.9M469.1,410.46h-2.9M253.3,408.02h2.9M469.1,408.02h-2.9M253.3,405.58h5.5M469.1,405.58h-5.5M253.3,403.15h2.9M469.1,403.15h-2.9M253.3,400.71h2.9M469.1,400.71h-2.9M253.3,398.27h2.9M469.1,398.27h-2.9M253.3,395.84h2.9M469.1,395.84h-2.9M253.3,393.4h5.5M469.1,393.4h-5.5M253.3,390.96h2.9M469.1,390.96h-2.9M253.3,388.52h2.9M469.1,388.52h-2.9" stroke="#000" stroke-width="1.2" fill="none"/>
<path d="M478.02,484.7v-1.6M478.02,387v1.3M487.93,484.7v-1.6M487.93,387v1.3M497.84,484.7v-1.6M497.84,387v1.3M507.76,484.7v-1.6M507.76,387v1.3M517.67,484.7v-3.5M517.67,387v2.8M527.58,484.7v-1.6M527.58,387v1.3M537.49,484.7v-1.6M537.49,387v1.3M547.4,484.7v-1.6M547.4,387v1.3M557.31,484.7v-1.6M557.31,387v1.3M567.23,484.7v-3.5M567.23,387v2.8M577.14,484.7v-1.6M577.14,387v1.3M587.05,484.7v-1.6M587.05,387v1.3M596.96,484.7v-1.6M596.96,387v1.3M606.87,484.7v-1.6M606.87,387v1.3M616.78,484.7v-3.5M616.78,387v2.8M626.69,484.7v-1.6M626.69,387v1.3M636.61,484.7v-1.6M636.61,387v1.3M646.52,484.7v-1.6M646.52,387v1.3M656.43,484.7v-1.6M656.43,387v1.3M666.34,484.7v-3.5M666.34,387v2.8M676.25,484.7v-1.6M676.25,387v1.3M469.1,483.57h2.9M469.1,481.14h2.9M469.1,478.7h5.5M469.1,476.26h2.9M469.1,473.83h2.9M469.1,471.39h2.9M469.1,468.95h2.9M469.1,466.51h5.5M469.1,464.08h2.9M469.1,461.64h2.9M469.1,459.2h2.9M469.1,456.77h2.9M469.1,454.33h5.5M469.1,451.89h2.9M469.1,449.45h2.9M469.1,447.02h2.9M469.1,444.58h2.9M469.1,442.14h5.5M469.1,439.7h2.9M469.1,437.27h2.9M469.1,434.83h2.9M469.1,432.39h2.9M469.1,429.96h5.5M469.1,427.52h2.9M469.1,425.08h2.9M469.1,422.64h2.9M469.1,420.21h2.9M469.1,417.77h5.5M469.1,415.33h2.9M469.1,412.9h2.9M469.1,410.46h2.9M469.1,408.02h2.9M469.1,405.58h5.5M469.1,403.15h2.9M469.1,400.71h2.9M469.1,398.27h2.9M469.1,395.84h2.9M469.1,393.4h5.5M469.1,390.96h2.9M469.1,388.52h2.9" stroke="#000" stroke-width="1.2" fill="none"/>
<line x1="38.3" y1="0.75" x2="682.2" y2="0.75" stroke="#777" stroke-width="1.5"/>
<line x1="38.3" y1="96.5" x2="682.2" y2="96.5" stroke="#222" stroke-width="1.1"/>
<line x1="38.3" y1="193.9" x2="682.2" y2="193.9" stroke="#222" stroke-width="1.1"/>
<line x1="38.3" y1="290.5" x2="682.2" y2="290.5" stroke="#222" stroke-width="1.1"/>
<line x1="38.3" y1="387" x2="682.2" y2="387" stroke="#222" stroke-width="1.1"/>
<line x1="38.3" y1="484.7" x2="682.2" y2="484.7" stroke="#000" stroke-width="1.5"/>
<line x1="38.3" y1="0" x2="38.3" y2="485.4" stroke="#000" stroke-width="1.4"/>
<line x1="253.3" y1="0" x2="253.3" y2="485.4" stroke="#000" stroke-width="1.4"/>
<line x1="469.1" y1="0" x2="469.1" y2="485.4" stroke="#000" stroke-width="1.4"/>
<line x1="682.2" y1="0" x2="682.2" y2="485.4" stroke="#000" stroke-width="1.4"/>
<circle cx="64.9" cy="17" r="3.6" fill="#000"/>
<circle cx="64.6" cy="31.8" r="3.5" fill="none" stroke="#000" stroke-width="1.2"/>
<path d="M65.2,40.5 L66.56,44.13 L70.43,44.3 L67.4,46.71 L68.43,50.45 L65.2,48.31 L61.97,50.45 L63,46.71 L59.97,44.3 L63.84,44.13Z" fill="#ff0000"/>
<path d="M117.5,26 L118.93,29.83 L123.02,30.01 L119.82,32.55 L120.91,36.49 L117.5,34.24 L114.09,36.49 L115.18,32.55 L111.98,30.01 L116.07,29.83Z" fill="none" stroke="#ff00ff" stroke-width="1.3"/>
<rect x="112.8" y="41.2" width="9.4" height="9.4" fill="none" stroke="#0000ff" stroke-width="1.3"/>
<path d="M552.4,425.4 L553.6,424.2 L556.9,436 L558.9,417.4 H586" fill="none" stroke="#000" stroke-width="1.2"/>
<path d="M492.9,463.6 V479.4 M505.1,463.6 V479.4" stroke="#000" stroke-width="1.5"/>
<text x="189.8" y="14.8" font-size="10.4" text-anchor="start" letter-spacing="0.2">0-2%</text>
<text x="407.5" y="14.8" font-size="10.4" text-anchor="start" letter-spacing="0.2">2-5%</text>
<text x="622.5" y="14.8" font-size="10.4" text-anchor="start" letter-spacing="0.2">5-10%</text>
<text x="189.8" y="111.5" font-size="10.4" text-anchor="start" letter-spacing="0.2">10-15%</text>
<text x="407.5" y="111.5" font-size="10.4" text-anchor="start" letter-spacing="0.2">15-20%</text>
<text x="622.5" y="111.5" font-size="10.4" text-anchor="start" letter-spacing="0.2">20-25%</text>
<text x="189.8" y="208.9" font-size="10.4" text-anchor="start" letter-spacing="0.2">25-30%</text>
<text x="407.5" y="208.9" font-size="10.4" text-anchor="start" letter-spacing="0.2">30-35%</text>
<text x="622.5" y="208.9" font-size="10.4" text-anchor="start" letter-spacing="0.2">35-40%</text>
<text x="189.8" y="305.5" font-size="10.4" text-anchor="start" letter-spacing="0.2">40-45%</text>
<text x="407.5" y="305.5" font-size="10.4" text-anchor="start" letter-spacing="0.2">45-50%</text>
<text x="597.3" y="305.5" font-size="10.4" text-anchor="start" letter-spacing="0.2">50-55%</text>
<text x="189.8" y="402" font-size="10.4" text-anchor="start" letter-spacing="0.2">55-60%</text>
<text x="407.5" y="402" font-size="10.4" text-anchor="start" letter-spacing="0.2">60-80%</text>
<text x="37" y="94.4" font-size="10.3" text-anchor="end" >0</text>
<text x="37" y="61.06" font-size="10.3" text-anchor="end" >0.1</text>
<text x="37" y="27.72" font-size="10.3" text-anchor="end" >0.2</text>
<text x="37" y="191.2" font-size="10.3" text-anchor="end" >0</text>
<text x="37" y="157.86" font-size="10.3" text-anchor="end" >0.1</text>
<text x="37" y="124.52" font-size="10.3" text-anchor="end" >0.2</text>
<text x="37" y="287.9" font-size="10.3" text-anchor="end" >0</text>
<text x="37" y="254.56" font-size="10.3" text-anchor="end" >0.1</text>
<text x="37" y="221.22" font-size="10.3" text-anchor="end" >0.2</text>
<text x="37" y="384.7" font-size="10.3" text-anchor="end" >0</text>
<text x="37" y="351.36" font-size="10.3" text-anchor="end" >0.1</text>
<text x="37" y="318.02" font-size="10.3" text-anchor="end" >0.2</text>
<text x="37" y="482.7" font-size="10.3" text-anchor="end" >0</text>
<text x="37" y="470.51" font-size="10.3" text-anchor="end" >0.1</text>
<text x="37" y="458.33" font-size="10.3" text-anchor="end" >0.2</text>
<text x="37" y="446.14" font-size="10.3" text-anchor="end" >0.3</text>
<text x="37" y="433.96" font-size="10.3" text-anchor="end" >0.4</text>
<text x="37" y="421.77" font-size="10.3" text-anchor="end" >0.5</text>
<text x="37" y="409.58" font-size="10.3" text-anchor="end" >0.6</text>
<text x="37" y="397.4" font-size="10.3" text-anchor="end" >0.7</text>
<text transform="translate(87.7,497.8) scale(1.09,1)" font-size="10.6" text-anchor="middle">5</text>
<text transform="translate(137.7,497.8) scale(1.09,1)" font-size="10.6" text-anchor="middle">10</text>
<text transform="translate(187.7,497.8) scale(1.09,1)" font-size="10.6" text-anchor="middle">15</text>
<text transform="translate(237.7,497.8) scale(1.09,1)" font-size="10.6" text-anchor="middle">20</text>
<text transform="translate(302.88,497.8) scale(1.09,1)" font-size="10.6" text-anchor="middle">5</text>
<text transform="translate(353.07,497.8) scale(1.09,1)" font-size="10.6" text-anchor="middle">10</text>
<text transform="translate(403.25,497.8) scale(1.09,1)" font-size="10.6" text-anchor="middle">15</text>
<text transform="translate(453.44,497.8) scale(1.09,1)" font-size="10.6" text-anchor="middle">20</text>
<text transform="translate(518.07,497.8) scale(1.09,1)" font-size="10.6" text-anchor="middle">5</text>
<text transform="translate(567.63,497.8) scale(1.09,1)" font-size="10.6" text-anchor="middle">10</text>
<text transform="translate(617.18,497.8) scale(1.09,1)" font-size="10.6" text-anchor="middle">15</text>
<text transform="translate(666.74,497.8) scale(1.09,1)" font-size="10.6" text-anchor="middle">20</text>
<text x="375.8" y="518" font-size="15" text-anchor="middle">p<tspan font-size="11" dy="8.6">T</tspan><tspan dy="-8.6"> [GeV]</tspan></text>
<text transform="translate(9.6,222) rotate(-90)" font-size="18">v<tspan font-size="12" dy="5.7">2</tspan></text>
<text x="70.6" y="20.6" font-size="10.6">v<tspan font-size="7.5" dy="3">2</tspan><tspan dy="-3">{EP}</tspan></text>
<text x="70.6" y="35.4" font-size="10.6">v<tspan font-size="7.5" dy="3">2</tspan><tspan dy="-3">{2}</tspan></text>
<text x="70.6" y="49.6" font-size="10.6">v<tspan font-size="7.5" dy="3">2</tspan><tspan dy="-3">{4}</tspan></text>
<text x="123.4" y="35.4" font-size="10.6">v<tspan font-size="7.5" dy="3">2</tspan><tspan dy="-3">{6}</tspan></text>
<text x="123.4" y="49.6" font-size="10.6">v<tspan font-size="7.5" dy="3">2</tspan><tspan dy="-3">{8}</tspan></text>
<text x="490.6" y="409.2" font-size="17" font-weight="bold" font-style="italic" letter-spacing="0.25">ATLAS</text>
<text x="491" y="431.8" font-size="16">Pb+Pb</text>
<text x="560.6" y="431.8" font-size="16">s<tspan font-size="11" dy="4.2">NN</tspan></text>
<text x="589.6" y="431.8" font-size="17">=</text>
<text x="604.2" y="431.8" font-size="17">2.76</text>
<text x="641.5" y="431.8" font-size="17">TeV</text>
<text x="490.4" y="453.8" font-size="16.5">L<tspan font-size="11" dy="4.5">int</tspan></text>
<text x="516.2" y="453.8" font-size="16.5">=</text>
<text x="530.6" y="453.8" font-size="16.5">7</text>
<text x="544.6" y="453.8" font-size="16.5">µb<tspan font-size="11" dy="-6.8">-1</tspan></text>
<text x="494.2" y="476.2" font-size="16">η</text>
<text x="511.6" y="476.2" font-size="16.5">&lt;</text>
<text x="526.4" y="476.2" font-size="16.5">2.5</text>
</svg>
</body></html>
